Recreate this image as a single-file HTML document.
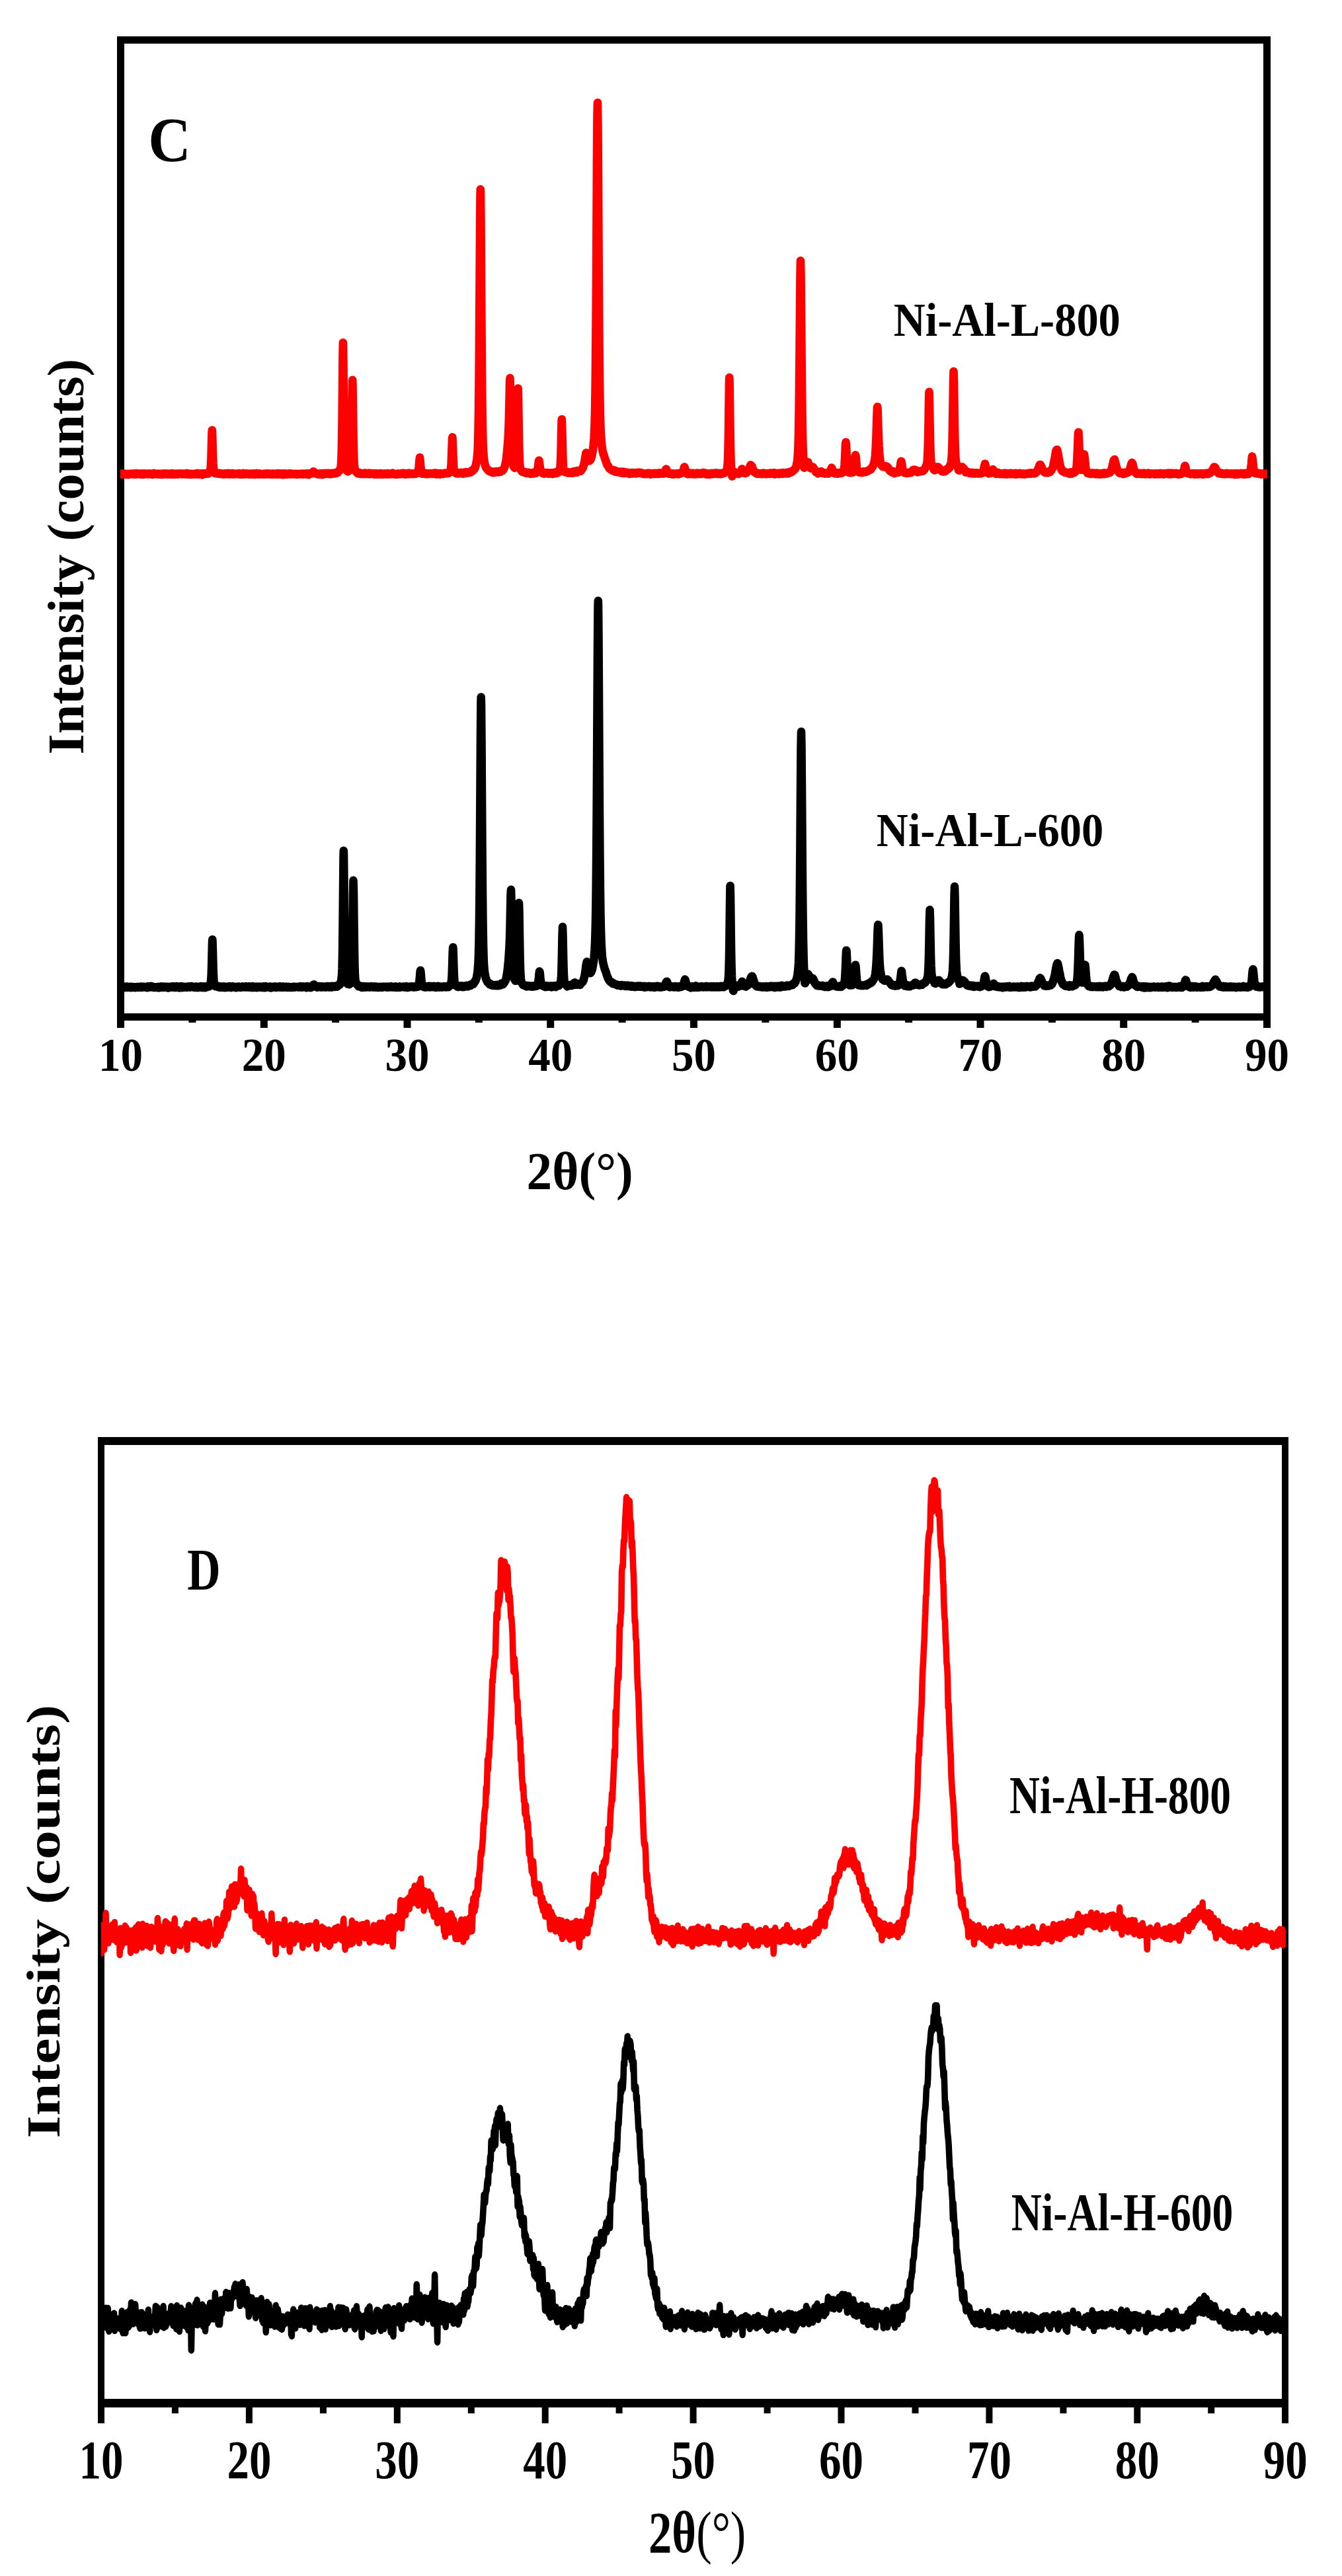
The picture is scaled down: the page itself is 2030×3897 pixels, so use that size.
<!DOCTYPE html>
<html lang="en"><head><meta charset="utf-8"><title>XRD patterns</title>
<style>html,body{margin:0;padding:0;background:#fff}body{width:2030px;height:3897px;overflow:hidden}</style></head>
<body>
<svg width="2030" height="3897" viewBox="0 0 2030 3897" style="display:block">
<style>.b text{font-family:"Liberation Serif",serif;font-weight:bold;font-size:100px;fill:#000}</style>
<rect width="2030" height="3897" fill="#fff"/>
<rect x="182.5" y="60.5" width="1734" height="1478" fill="none" stroke="#000" stroke-width="11"/>
<rect x="177.0" y="1538" width="11" height="17" fill="#000"/>
<rect x="393.8" y="1538" width="11" height="17" fill="#000"/>
<rect x="610.5" y="1538" width="11" height="17" fill="#000"/>
<rect x="827.2" y="1538" width="11" height="17" fill="#000"/>
<rect x="1044.0" y="1538" width="11" height="17" fill="#000"/>
<rect x="1260.8" y="1538" width="11" height="17" fill="#000"/>
<rect x="1477.5" y="1538" width="11" height="17" fill="#000"/>
<rect x="1694.2" y="1538" width="11" height="17" fill="#000"/>
<rect x="1911.0" y="1538" width="11" height="17" fill="#000"/>
<rect x="285.4" y="1538" width="11" height="9" fill="#000"/>
<rect x="502.1" y="1538" width="11" height="9" fill="#000"/>
<rect x="718.9" y="1538" width="11" height="9" fill="#000"/>
<rect x="935.6" y="1538" width="11" height="9" fill="#000"/>
<rect x="1152.4" y="1538" width="11" height="9" fill="#000"/>
<rect x="1369.1" y="1538" width="11" height="9" fill="#000"/>
<rect x="1585.9" y="1538" width="11" height="9" fill="#000"/>
<rect x="1802.6" y="1538" width="11" height="9" fill="#000"/>
<clipPath id="ct"><rect x="182" y="66" width="1735" height="1467"/></clipPath><g clip-path="url(#ct)">
<path d="M181 717L181.5 716.8L182 717.1L182.5 717.4L183 717.2L183.5 717.5L184 717L184.5 716.3L185 717.2L185.5 717.3L186 716.7L186.5 716.8L187 716.9L187.5 717.4L188 717L188.5 716.6L189 717.7L189.5 717.2L190 717.9L190.5 717.6L191 717.9L191.5 717.1L192 717.6L192.5 716.8L193 716.9L193.5 717.1L194 718.2L194.5 717.3L195 717L195.5 716.9L196 717.7L196.5 717.2L197 717.5L197.5 717.4L198 716.5L198.5 717.4L199 717L199.5 716.5L200 717.3L200.5 717L201 716.9L201.5 716.9L202 717.6L202.5 716.9L203 716.3L203.5 717.8L204 716.6L204.5 716.9L205 717.3L205.5 716L206 716.6L206.5 717.6L207 716.9L207.5 716.7L208 717.1L208.5 716.6L209 717L209.5 716.6L210 716.3L210.5 717.3L211 716.9L211.5 717.2L212 716.9L212.5 717.6L213 717.3L213.5 717.1L214 716.5L214.5 716.4L215 717.6L215.5 717.4L216 716.7L216.5 718L217 717.2L217.5 717L218 716.4L218.5 716.6L219 717.1L219.5 717.2L220 717.1L220.5 716.2L221 717.2L221.5 717.1L222 716.8L222.5 717L223 717.1L223.5 717.5L224 717L224.5 717.2L225 716.4L225.5 716.7L226 717L226.5 716.6L227 717.1L227.5 716.5L228 717L228.5 716.7L229 717.6L229.5 716.8L230 717.8L230.5 718L231 717.1L231.5 717.4L232 716.9L232.5 715.9L233 717.4L233.5 717.3L234 716.9L234.5 716.7L235 717.1L235.5 717.1L236 716.6L236.5 716.7L237 717.5L237.5 717L238 717L238.5 717.5L239 716.8L239.5 717.4L240 716.5L240.5 716.9L241 716.9L241.5 717.3L242 717L242.5 718L243 717.5L243.5 716.8L244 718L244.5 716.6L245 717.8L245.5 716.6L246 717.4L246.5 716.6L247 716.9L247.5 717.7L248 716.3L248.5 716.3L249 717L249.5 717.1L250 717.1L250.5 717.5L251 716.4L251.5 717.2L252 717L252.5 717.4L253 717.3L253.5 717.6L254 716.3L254.5 717L255 716.5L255.5 717L256 717.3L256.5 717.1L257 717.3L257.5 717L258 717.2L258.5 717.1L259 717.7L259.5 717.4L260 716.1L260.5 717.3L261 717.5L261.5 716.8L262 716.3L262.5 717.7L263 717.1L263.5 717.3L264 717.8L264.5 716.6L265 717L265.5 716.9L266 717.3L266.5 716.7L267 717.2L267.5 717L268 717.5L268.5 717.6L269 716.3L269.5 717.2L270 716.8L270.5 717L271 717.2L271.5 717.2L272 716.6L272.5 717.1L273 717L273.5 717L274 716.4L274.5 716.6L275 716.8L275.5 717.2L276 717.6L276.5 716.5L277 716.5L277.5 717L278 716.7L278.5 716.6L279 716.5L279.5 716.5L280 717.2L280.5 716.2L281 717.6L281.5 716.5L282 716.7L282.5 716.5L283 716L283.5 716.2L284 717.5L284.5 717.8L285 716.5L285.5 717.5L286 717L286.5 716.5L287 717.8L287.5 718L288 716.8L288.5 716.9L289 717.1L289.5 716.9L290 717.4L290.5 717.7L291 717L291.5 717.4L292 717.8L292.5 716.7L293 717L293.5 716.7L294 717.4L294.5 717.2L295 717.4L295.5 717.4L296 716.8L296.5 717.3L297 716.7L297.5 716.7L298 715.9L298.5 717.6L299 716.4L299.5 716.9L300 716.9L300.5 717.6L301 717.1L301.5 716.5L302 716.9L302.5 716.8L303 717L303.5 716.3L304 716.8L304.5 717.9L305 717.2L305.5 717.8L306 718.4L306.5 717L307 716.1L307.5 716.7L308 717.3L308.5 717.2L309 716.1L309.5 716.6L310 716.6L310.5 716.6L311 716.5L311.5 716.1L312 716.2L312.5 716.3L313 716.9L313.5 716L314 716.5L314.5 715.5L315 716.5L315.5 715.7L316 715.3L316.5 715.6L317 713.6L317.5 712.9L318 712.4L318.5 708.9L319 702.7L319.5 692L320 672.4L320.5 654.9L320.8 650.9L321 653.3L321.5 668.7L322 687.5L322.5 700.3L323 708.1L323.5 711.8L324 712.6L324.5 714.6L325 715L325.5 716.2L326 714.8L326.5 715.3L327 715.5L327.5 715.8L328 716.2L328.5 716.2L329 716.5L329.5 716.6L330 716.5L330.5 715.8L331 716.3L331.5 716.7L332 716.9L332.5 717L333 715.9L333.5 716.5L334 716.7L334.5 716.9L335 717.3L335.5 716.8L336 716.4L336.5 717L337 716.9L337.5 716.9L338 716.8L338.5 717.6L339 717L339.5 717.3L340 716.4L340.5 717.3L341 716.6L341.5 716.1L342 717L342.5 717.2L343 716.8L343.5 716.9L344 717.4L344.5 716.7L345 715.9L345.5 717L346 717L346.5 717.4L347 716.8L347.5 717.5L348 717.5L348.5 716.3L349 717.4L349.5 716.4L350 716.2L350.5 716.8L351 716.6L351.5 716L352 717L352.5 717.2L353 717.6L353.5 716.9L354 716.2L354.5 716.5L355 717.4L355.5 717.4L356 717.2L356.5 716.8L357 717L357.5 716.8L358 716.8L358.5 717.1L359 717L359.5 716.8L360 717L360.5 716.7L361 716L361.5 716.6L362 716.9L362.5 717.8L363 716.8L363.5 717.9L364 717.7L364.5 716.5L365 716.6L365.5 717L366 717.8L366.5 717.1L367 717.3L367.5 716.6L368 715.8L368.5 716.8L369 717.3L369.5 717.5L370 717L370.5 717L371 717.5L371.5 716.9L372 717.5L372.5 716.4L373 716.4L373.5 716.4L374 717.2L374.5 716.7L375 717L375.5 717.1L376 717.1L376.5 717.6L377 717.7L377.5 716.6L378 717L378.5 716.8L379 716.5L379.5 717.8L380 717.3L380.5 716.9L381 716.8L381.5 717.1L382 716.4L382.5 716.8L383 717.6L383.5 717.4L384 716.5L384.5 716.7L385 717.9L385.5 716.3L386 716.7L386.5 716.3L387 717.1L387.5 717.1L388 717.5L388.5 715.7L389 717L389.5 716.2L390 717.3L390.5 716.9L391 717.8L391.5 717.1L392 716.5L392.5 717.6L393 716.4L393.5 716.8L394 717.5L394.5 717.2L395 717.2L395.5 717L396 717.2L396.5 717.4L397 717.1L397.5 717.5L398 717.6L398.5 717L399 716.5L399.5 717.7L400 716.9L400.5 717.3L401 717.4L401.5 716.5L402 717.2L402.5 716.2L403 717.3L403.5 716.8L404 717.1L404.5 717.3L405 716.7L405.5 717L406 716.6L406.5 717L407 717.5L407.5 717L408 716.9L408.5 716.5L409 717.4L409.5 717L410 717.8L410.5 716.6L411 717.5L411.5 717.9L412 717L412.5 716.4L413 717.7L413.5 717.5L414 717.3L414.5 717.5L415 716.8L415.5 717.3L416 717.3L416.5 716.7L417 717.3L417.5 716.7L418 717.4L418.5 717.6L419 717.9L419.5 716L420 717.1L420.5 716.8L421 717L421.5 716.9L422 716.9L422.5 716L423 717.5L423.5 717.7L424 717.4L424.5 717.6L425 716.6L425.5 716.5L426 717.4L426.5 717.6L427 717.1L427.5 716.2L428 718.3L428.5 716.7L429 717.5L429.5 716.4L430 717.5L430.5 717.1L431 717.7L431.5 717.4L432 716.2L432.5 716.5L433 717.1L433.5 717.4L434 717.9L434.5 717.1L435 716.9L435.5 717L436 717L436.5 717.5L437 717L437.5 717L438 716.3L438.5 716L439 717L439.5 717.3L440 717L440.5 717.2L441 717.3L441.5 717L442 717.4L442.5 716.6L443 717L443.5 716.8L444 717L444.5 717.3L445 717.4L445.5 717L446 717.2L446.5 716.8L447 716.9L447.5 717.6L448 716.9L448.5 717.6L449 717.2L449.5 717.1L450 718L450.5 716.9L451 716.8L451.5 717L452 717.1L452.5 717.1L453 717.4L453.5 717L454 717.2L454.5 716.9L455 717.5L455.5 716.8L456 716.8L456.5 717L457 717.1L457.5 716.6L458 717.7L458.5 716.7L459 716.8L459.5 716.7L460 716.7L460.5 717.2L461 717L461.5 716.6L462 716.7L462.5 716.8L463 717.6L463.5 716.6L464 716.3L464.5 716.4L465 716.7L465.5 717.6L466 716.4L466.5 716.9L467 718.1L467.5 716.6L468 717.5L468.5 717.4L469 717.1L469.5 716.1L470 716.9L470.5 716.5L471 715.6L471.5 715.5L472 716L472.5 715.4L473 715.1L473.5 714.1L474 713.2L474.5 713.5L475 714.4L475.5 714.8L476 716.3L476.5 716.3L477 716.1L477.5 716.3L478 716.1L478.5 716.5L479 716.9L479.5 716.6L480 717.2L480.5 717.6L481 716.5L481.5 716.8L482 716.6L482.5 717.6L483 717L483.5 717.1L484 717.2L484.5 717.9L485 716.9L485.5 716.3L486 716.6L486.5 717.1L487 716.8L487.5 716.4L488 718.1L488.5 716.8L489 716.5L489.5 716.4L490 715.9L490.5 716.2L491 716.6L491.5 716.6L492 716.3L492.5 717L493 716.7L493.5 716.2L494 715.7L494.5 716.7L495 716.7L495.5 716.5L496 716L496.5 716.6L497 715.9L497.5 717.1L498 716.7L498.5 716.7L499 716.1L499.5 716L500 717.2L500.5 716.9L501 716.3L501.5 716.7L502 717.1L502.5 715.8L503 716.1L503.5 716L504 716.5L504.5 715.7L505 716.3L505.5 715.5L506 716.5L506.5 716.4L507 715.8L507.5 716.1L508 715.4L508.5 715.5L509 715.9L509.5 715.3L510 715.3L510.5 714.5L511 715L511.5 714.6L512 713.4L512.5 712.5L513 712.1L513.5 712.3L514 711.4L514.5 709.5L515 708.7L515.5 706.6L516 701.7L516.5 692.7L517 675L517.5 641.3L518 590.3L518.5 536.2L518.9 518.4L519 519.3L519.5 555.9L520 611.1L520.5 656.3L521 683L521.5 697.4L522 703.6L522.5 707.3L523 708.2L523.5 710.1L524 711.4L524.5 711.9L525 712.3L525.5 712.1L526 713.4L526.5 713.2L527 712.8L527.5 711.1L528 711.6L528.5 711.6L529 710.4L529.5 708.5L530 707.6L530.5 703.7L531 694.6L531.5 678L532 648.8L532.5 610.6L533 578.3L533.2 574.9L533.5 583.2L534 618.2L534.5 657.2L535 682.6L535.5 697.9L536 704.9L536.5 708.3L537 710.7L537.5 712.7L538 712.5L538.5 713.8L539 714.1L539.5 714.6L540 714.8L540.5 716.1L541 714.5L541.5 715.2L542 714.9L542.5 714.6L543 715.7L543.5 716.7L544 716.4L544.5 716.6L545 716.3L545.5 716.1L546 717.2L546.5 716.1L547 717L547.5 716.2L548 716.4L548.5 716.5L549 716.4L549.5 716.7L550 716.8L550.5 717.3L551 716.5L551.5 715.6L552 715.6L552.5 715.9L553 716.2L553.5 716.9L554 715.9L554.5 716.6L555 716.7L555.5 716.8L556 716.6L556.5 716.9L557 716.7L557.5 717.2L558 716.9L558.5 715.6L559 716.7L559.5 716.8L560 716.4L560.5 716.4L561 717.3L561.5 716.8L562 716.3L562.5 716.6L563 716.7L563.5 716L564 717.1L564.5 716.7L565 717L565.5 716L566 717.7L566.5 717.1L567 717L567.5 716.5L568 716.5L568.5 716.1L569 717.6L569.5 716.4L570 716.9L570.5 717.1L571 716.5L571.5 717.3L572 717.8L572.5 717L573 717.6L573.5 717.1L574 716.6L574.5 716.7L575 716L575.5 716.9L576 717.6L576.5 717.2L577 717.3L577.5 717.4L578 716.6L578.5 717.1L579 717.8L579.5 716.5L580 716.9L580.5 716.7L581 716.8L581.5 716.5L582 716.8L582.5 716.2L583 716.6L583.5 716.6L584 716.6L584.5 717.6L585 716.9L585.5 717L586 716.7L586.5 717.5L587 716L587.5 716.8L588 717.4L588.5 717.7L589 717L589.5 716.9L590 717.2L590.5 716.8L591 717.2L591.5 716.6L592 717.2L592.5 716.9L593 716.3L593.5 715.6L594 717.3L594.5 717.1L595 717.3L595.5 716.4L596 717.4L596.5 717.1L597 716.9L597.5 717.3L598 717.3L598.5 717.1L599 717.9L599.5 717.6L600 717L600.5 716.8L601 716.9L601.5 717.7L602 717.1L602.5 716.4L603 716.6L603.5 716.9L604 717.3L604.5 716.5L605 717.1L605.5 717.4L606 717.2L606.5 716.1L607 716.7L607.5 716.2L608 717.1L608.5 716.4L609 717.1L609.5 716.9L610 715.6L610.5 716.4L611 717.1L611.5 716.9L612 716.6L612.5 716.2L613 717L613.5 717.7L614 716.9L614.5 716.8L615 716.7L615.5 716.1L616 716.6L616.5 716.4L617 717.3L617.5 716.3L618 715.7L618.5 716.4L619 716.6L619.5 716.7L620 715.9L620.5 717.2L621 716.8L621.5 716.5L622 716.4L622.5 716.9L623 716.5L623.5 716.8L624 716.6L624.5 716.7L625 717.2L625.5 716.6L626 716.2L626.5 717.1L627 716.7L627.5 716.2L628 717L628.5 716.3L629 716.9L629.5 715.7L630 715L630.5 715L631 715.9L631.5 715.1L632 714.8L632.5 713.7L633 710.7L633.5 708.3L634 701.4L634.5 695.8L635 692.1L635.5 695.7L636 702.2L636.5 707.5L637 711.1L637.5 713.7L638 714.6L638.5 715.7L639 716.8L639.5 715.5L640 715.7L640.5 716.1L641 716.3L641.5 715.8L642 716.6L642.5 716.8L643 716.6L643.5 715.9L644 717.2L644.5 716L645 716.9L645.5 717.2L646 716L646.5 716.7L647 717.3L647.5 716.8L648 716.2L648.5 716.1L649 716.9L649.5 716.5L650 716.3L650.5 717L651 716.5L651.5 716.7L652 716.9L652.5 716.9L653 716.6L653.5 716.7L654 716.9L654.5 716.9L655 716.1L655.5 716.6L656 716.2L656.5 716.1L657 716.4L657.5 715.5L658 717.1L658.5 716.2L659 716.8L659.5 715.7L660 715.8L660.5 717.6L661 717.1L661.5 716.3L662 716.2L662.5 716.2L663 716.6L663.5 716.4L664 716.3L664.5 716.6L665 716.1L665.5 717.7L666 716.2L666.5 717.1L667 716.1L667.5 716.6L668 717L668.5 716.3L669 716.9L669.5 716.9L670 717.2L670.5 716.5L671 716.2L671.5 715.9L672 716.5L672.5 715.8L673 716.3L673.5 716.3L674 716L674.5 715.7L675 716.3L675.5 716.2L676 716.1L676.5 715.9L677 716.3L677.5 715.3L678 715.9L678.5 715.3L679 715.7L679.5 714.9L680 714.5L680.5 714.4L681 712.4L681.5 711.9L682 708.3L682.5 702.9L683 693.3L683.5 678.4L684 664.2L684.3 661.4L684.5 662.8L685 675.2L685.5 691.1L686 701.7L686.5 709.4L687 711.3L687.5 713.4L688 714.3L688.5 714.5L689 714.6L689.5 715.8L690 716.1L690.5 715.9L691 716.5L691.5 716.1L692 714.9L692.5 716.2L693 715.4L693.5 716.5L694 715.6L694.5 716L695 715.8L695.5 715.5L696 714.9L696.5 715.7L697 715.7L697.5 716.3L698 715.5L698.5 715.9L699 715.3L699.5 715.7L700 714.8L700.5 716.7L701 715.8L701.5 715.2L702 715.7L702.5 715.9L703 715.6L703.5 716.1L704 715.3L704.5 714.1L705 714.7L705.5 715.7L706 715.6L706.5 715.2L707 714.5L707.5 715.3L708 715.1L708.5 714.2L709 714.1L709.5 714.6L710 714.8L710.5 714.9L711 714.3L711.5 714.9L712 713.2L712.5 713.7L713 712.9L713.5 711.9L714 712L714.5 712.8L715 711.4L715.5 710.8L716 711.3L716.5 710.9L717 709.8L717.5 709.8L718 707.4L718.5 708.3L719 706.4L719.5 704.6L720 702.8L720.5 700.4L721 697.7L721.5 694.4L722 688.8L722.5 683.3L723 670.9L723.5 652.9L724 623L724.5 578.1L725 516.1L725.5 438.1L726 356L726.5 297.2L726.8 286.4L727 290.1L727.5 340.6L728 421.9L728.5 500.9L729 565.8L729.5 615L730 647.5L730.5 668L731 680.5L731.5 688.2L732 693.6L732.5 696.7L733 700.1L733.5 702.3L734 704.5L734.5 705.4L735 707.1L735.5 707.8L736 708.1L736.5 709.1L737 709.7L737.5 710.3L738 711L738.5 711.5L739 712L739.5 711.7L740 713L740.5 712L741 712.9L741.5 713.5L742 713.5L742.5 713.8L743 713.5L743.5 714.1L744 713.2L744.5 714.3L745 715.1L745.5 714.4L746 715.1L746.5 714.2L747 713.7L747.5 713.9L748 715L748.5 714.7L749 713.4L749.5 714.2L750 714.3L750.5 713.8L751 713.1L751.5 713.6L752 714.2L752.5 714L753 713.8L753.5 714.4L754 714.5L754.5 713.9L755 714.3L755.5 713.7L756 713.5L756.5 712.3L757 713.7L757.5 713.1L758 712.9L758.5 712.4L759 711.8L759.5 712.2L760 712L760.5 712L761 711.1L761.5 709.7L762 709.2L762.5 708.8L763 707.3L763.5 705.7L764 703.8L764.5 702.2L765 699.5L765.5 697.2L766 693.2L766.5 687.6L767 684.5L767.5 678.1L768 671.8L768.5 665.4L769 657.4L769.5 645.3L770 627.9L770.5 604.5L771 581.6L771.5 571.9L772 589.9L772.5 621.5L773 650.9L773.5 672.2L774 685.4L774.5 693.7L775 697.6L775.5 700.5L776 702.6L776.5 704L777 705.8L777.5 706.6L778 706.6L778.5 707.9L779 707L779.5 706.9L780 705.8L780.5 704.4L781 699.5L781.5 689.5L782 671L782.5 642.6L783 609.4L783.5 587.9L783.6 587.5L784 597.9L784.5 630.4L785 662L785.5 684L786 697.8L786.5 705L787 708L787.5 710.2L788 711.3L788.5 710.9L789 712.1L789.5 713.5L790 712.9L790.5 712.9L791 714L791.5 714.4L792 714.5L792.5 714.3L793 714.3L793.5 714.2L794 714.3L794.5 714.4L795 714.4L795.5 714.8L796 716L796.5 715.4L797 715.2L797.5 715.6L798 715L798.5 715.7L799 716L799.5 714.9L800 715.3L800.5 715.5L801 715.2L801.5 715.2L802 715.6L802.5 717L803 716.1L803.5 716L804 716.3L804.5 715.7L805 715.2L805.5 716L806 716.4L806.5 714.8L807 716L807.5 716.4L808 715.6L808.5 715.5L809 716L809.5 715.2L810 715.7L810.5 715.8L811 715.1L811.5 714.6L812 714.8L812.5 713.5L813 712.2L813.5 708.2L814 706.1L814.5 700.5L815 697.4L815.3 696.7L815.5 696.6L816 699.8L816.5 704.2L817 708.8L817.5 712.1L818 713.8L818.5 714.2L819 714.6L819.5 714.5L820 715.2L820.5 715L821 714.9L821.5 715.6L822 716.5L822.5 716.4L823 716.6L823.5 715.1L824 716.3L824.5 715.3L825 715.7L825.5 715.1L826 715.5L826.5 716L827 716.1L827.5 715.9L828 715.9L828.5 716.3L829 716L829.5 715.2L830 716.8L830.5 715.9L831 716.4L831.5 715.9L832 715.5L832.5 716L833 715.5L833.5 716.7L834 715.4L834.5 716.2L835 715.6L835.5 715.8L836 717.1L836.5 716.2L837 715.7L837.5 715L838 715.6L838.5 715.5L839 716.3L839.5 714.9L840 714.6L840.5 715.5L841 715.5L841.5 716.1L842 714.8L842.5 713.7L843 714.6L843.5 714.1L844 714.3L844.5 714.8L845 713.2L845.5 714L846 712.8L846.5 711.6L847 709.5L847.5 706.1L848 698.1L848.5 683.5L849 661.2L849.5 638.7L849.8 634.2L850 636.7L850.5 656.3L851 679.3L851.5 696.7L852 705.6L852.5 710L853 711.1L853.5 712.1L854 712L854.5 714.2L855 714.2L855.5 713.6L856 714.4L856.5 714.6L857 713.7L857.5 714.8L858 715.3L858.5 715.4L859 714.6L859.5 714.7L860 715.5L860.5 715.3L861 714.6L861.5 714.5L862 715.1L862.5 714.5L863 714.5L863.5 715.6L864 714.9L864.5 714.5L865 714.9L865.5 715.7L866 714.7L866.5 714.1L867 713.7L867.5 715.5L868 713L868.5 714.8L869 713.7L869.5 713.5L870 713.6L870.5 713.9L871 714.5L871.5 713.5L872 714.1L872.5 714.9L873 712.1L873.5 713L874 712.3L874.5 713.6L875 712.2L875.5 712L876 711.9L876.5 712.5L877 712.9L877.5 712.1L878 712.9L878.5 712.4L879 711.2L879.5 711.3L880 710.5L880.5 709.9L881 708.2L881.5 707.6L882 707.2L882.5 705.2L883 704.4L883.5 702L884 698.9L884.5 697.1L885 693.6L885.5 691.1L886 687.8L886.5 685.1L886.9 685.6L887 685L887.5 686L888 687.4L888.5 689.3L889 690.1L889.5 691.6L890 694.3L890.5 696.2L891 696.3L891.5 697.3L892 696.7L892.5 696.6L893 695.9L893.5 694.7L894 694.1L894.5 692.4L895 691.2L895.5 688.4L896 686.4L896.5 682.8L897 679.7L897.5 675.1L898 669.8L898.5 664.2L899 655L899.5 642.4L900 622.6L900.5 593.7L901 552.5L901.5 495.1L902 419.1L902.5 332.4L903 241.4L903.5 175L903.9 156.7L904 155.2L904.5 196.4L905 277.4L905.5 367.8L906 451.8L906.5 520L907 571.9L907.5 607.4L908 630.9L908.5 646.9L909 657.2L909.5 665.3L910 669.7L910.5 675.6L911 678.5L911.5 682.4L912 684.4L912.5 685L913 687.8L913.5 688.5L914 690.2L914.5 692.1L915 693.3L915.5 694.9L916 696.5L916.5 697.4L917 698.9L917.5 701L918 702.4L918.5 703L919 704.3L919.5 704.7L920 704.7L920.5 706.4L921 707.4L921.5 708.1L922 709L922.5 709.4L923 709.9L923.5 710L924 710.3L924.5 710.1L925 710.9L925.5 711.1L926 711.9L926.5 710.7L927 711.5L927.5 711.1L928 711.7L928.5 711.6L929 712.6L929.5 712.3L930 711.5L930.5 713.6L931 712.5L931.5 712.4L932 713.2L932.5 713.1L933 713L933.5 714L934 713.6L934.5 714.4L935 714.3L935.5 714.4L936 714.3L936.5 714.2L937 714.1L937.5 715.1L938 713.5L938.5 714L939 714.2L939.5 714.9L940 714.8L940.5 714.5L941 714.6L941.5 715.8L942 714.6L942.5 713.5L943 716L943.5 714.6L944 715L944.5 715.2L945 714.5L945.5 715.9L946 715.2L946.5 714.6L947 715.5L947.5 715.6L948 715.4L948.5 715.7L949 714.7L949.5 716L950 715.1L950.5 716.2L951 715.3L951.5 715.7L952 717L952.5 715.7L953 716.3L953.5 716L954 715L954.5 716.4L955 716.4L955.5 715.1L956 715.8L956.5 715.1L957 715.7L957.5 716.4L958 716L958.5 715.3L959 715.5L959.5 716L960 715.9L960.5 716L961 716.3L961.5 715L962 716L962.5 716.6L963 716.2L963.5 715.5L964 715.4L964.5 715.5L965 715.5L965.5 714.8L966 715.5L966.5 715.5L967 714.8L967.5 715.8L968 715.6L968.5 715.4L969 715.7L969.5 716.1L970 715.1L970.5 715.9L971 716.4L971.5 715.9L972 716L972.5 716.7L973 716.2L973.5 716.4L974 717.3L974.5 716.4L975 716.5L975.5 716.6L976 717.2L976.5 716.5L977 716.4L977.5 716.3L978 717L978.5 716.1L979 717L979.5 716.5L980 715.7L980.5 716.8L981 716.7L981.5 715.9L982 716.6L982.5 716.6L983 716.3L983.5 715.9L984 717.6L984.5 716.9L985 717L985.5 717L986 716.9L986.5 716.9L987 716.3L987.5 716.9L988 716.4L988.5 716.3L989 716.9L989.5 716.4L990 715.7L990.5 716.3L991 716.8L991.5 716.5L992 717L992.5 716.4L993 716.1L993.5 716.9L994 716.6L994.5 715.9L995 716.8L995.5 716.4L996 717L996.5 716.9L997 716.8L997.5 715.4L998 716.7L998.5 716.7L999 716.7L999.5 716.5L1000 716.1L1000.5 716.3L1001 715.4L1001.5 716.3L1002 715.6L1002.5 716.1L1003 715.9L1003.5 716.8L1004 715.9L1004.5 715.6L1005 715.1L1005.5 715.2L1006 712.6L1006.5 711.8L1007 710.6L1007.5 709.8L1007.6 709.7L1008 709.8L1008.5 711.7L1009 712.9L1009.5 713.6L1010 714.6L1010.5 715.6L1011 716.1L1011.5 716.5L1012 716.2L1012.5 715.7L1013 716.9L1013.5 715.6L1014 716L1014.5 716.7L1015 716.1L1015.5 717.2L1016 717.4L1016.5 717.2L1017 716.8L1017.5 716.7L1018 716.8L1018.5 716.5L1019 717.6L1019.5 716.3L1020 717.3L1020.5 716.9L1021 716.8L1021.5 717.2L1022 717.3L1022.5 717.1L1023 716.6L1023.5 716.3L1024 716.3L1024.5 717.1L1025 717L1025.5 717L1026 716.3L1026.5 717.5L1027 715.9L1027.5 716.7L1028 716.8L1028.5 716.3L1029 715.9L1029.5 716.2L1030 715.7L1030.5 716.1L1031 715.4L1031.5 715.2L1032 715.5L1032.5 714L1033 713.6L1033.5 712.2L1034 710.8L1034.5 708.6L1035 706.6L1035.3 707.4L1035.5 706.5L1036 707.9L1036.5 709.9L1037 713L1037.5 713.5L1038 714.3L1038.5 715.7L1039 715.7L1039.5 717.2L1040 715.8L1040.5 716.6L1041 715.9L1041.5 717.3L1042 716.1L1042.5 716.6L1043 716.1L1043.5 717L1044 716.9L1044.5 715.5L1045 717L1045.5 717L1046 716.8L1046.5 717.1L1047 716L1047.5 715.8L1048 717L1048.5 717.5L1049 716.1L1049.5 716.1L1050 716.3L1050.5 716.1L1051 717.1L1051.5 716.8L1052 717.4L1052.5 717.4L1053 716.2L1053.5 717L1054 715.6L1054.5 716.7L1055 717L1055.5 716.3L1056 715.8L1056.5 716.4L1057 717.3L1057.5 716.5L1058 716L1058.5 716.9L1059 717L1059.5 716.1L1060 716.6L1060.5 717.2L1061 716.7L1061.5 716.8L1062 716.2L1062.5 716L1063 715.1L1063.5 715L1064 716L1064.5 715.2L1065 715.3L1065.5 715.8L1066 715.8L1066.5 716.7L1067 717L1067.5 716.1L1068 717.2L1068.5 717.7L1069 716.1L1069.5 717L1070 716.8L1070.5 717.4L1071 717.3L1071.5 717.2L1072 716.8L1072.5 716.5L1073 717.8L1073.5 716.3L1074 717.2L1074.5 717.2L1075 716.3L1075.5 716.7L1076 717.4L1076.5 715.7L1077 717.1L1077.5 716.5L1078 716.5L1078.5 715.9L1079 716.8L1079.5 716.1L1080 717L1080.5 716L1081 717L1081.5 716.8L1082 715.6L1082.5 716.4L1083 716.5L1083.5 715.4L1084 716.3L1084.5 716.9L1085 716.1L1085.5 717.1L1086 715.9L1086.5 715.8L1087 716.7L1087.5 716.7L1088 716.3L1088.5 716.3L1089 716.8L1089.5 716L1090 717.3L1090.5 716.4L1091 716.3L1091.5 716.2L1092 715.9L1092.5 716.6L1093 715.6L1093.5 715.9L1094 716L1094.5 716.2L1095 716L1095.5 715L1096 715.5L1096.5 714.7L1097 713.9L1097.5 713.5L1098 712.7L1098.5 712.9L1099 712.4L1099.5 710.1L1100 708.4L1100.5 704.4L1101 697.4L1101.5 681.4L1102 654L1102.5 615L1103 578.9L1103.3 571L1103.5 574.7L1104 607.1L1104.5 647L1105 678.4L1105.5 695.8L1106 707.2L1106.5 713.3L1107 718.3L1107.5 720.7L1108 719.6L1108.5 719.2L1109 717.8L1109.5 716.1L1110 715.3L1110.5 713.9L1111 715L1111.5 714.8L1112 715.9L1112.5 715.3L1113 715.3L1113.5 714.8L1114 716.1L1114.5 715.5L1115 715.7L1115.5 716.4L1116 715.9L1116.5 716L1117 717.1L1117.5 715.6L1118 715.6L1118.5 716L1119 716.4L1119.5 714.7L1120 714.9L1120.5 713.8L1121 712.4L1121.5 711.8L1122 709.5L1122.5 709.3L1123 709.9L1123.5 711.5L1124 713L1124.5 713.6L1125 714.9L1125.5 715.4L1126 715.6L1126.5 715.4L1127 716L1127.5 715.8L1128 715.5L1128.5 715.6L1129 715.2L1129.5 715.2L1130 713.6L1130.5 713.5L1131 713.4L1131.5 712.9L1132 710.9L1132.5 710.9L1133 709.9L1133.5 708.5L1134 707.2L1134.5 705.4L1135 705.1L1135.5 703.3L1136 704.6L1136.5 704.1L1137 705.6L1137.5 705.3L1138 707.6L1138.5 708.7L1139 709.5L1139.5 710.5L1140 712.7L1140.5 713.2L1141 714.4L1141.5 714.2L1142 714.8L1142.5 715.3L1143 715.7L1143.5 715.8L1144 716.1L1144.5 715.6L1145 715.2L1145.5 717L1146 716.1L1146.5 716.3L1147 715.9L1147.5 716.7L1148 716.3L1148.5 716.8L1149 716L1149.5 716.3L1150 716.4L1150.5 716.2L1151 716.5L1151.5 717.2L1152 716.1L1152.5 716.3L1153 716.5L1153.5 716L1154 715.8L1154.5 717L1155 716.9L1155.5 715.7L1156 715.8L1156.5 716.9L1157 717.1L1157.5 716.8L1158 716.7L1158.5 717.3L1159 716.5L1159.5 717.1L1160 717.1L1160.5 716L1161 716.8L1161.5 716.5L1162 716.2L1162.5 716.1L1163 716.7L1163.5 716.5L1164 716.9L1164.5 715.6L1165 716.2L1165.5 717L1166 716.5L1166.5 716.1L1167 716.2L1167.5 715.6L1168 715.8L1168.5 716.7L1169 716.5L1169.5 717.1L1170 716.3L1170.5 716.4L1171 715.1L1171.5 716.4L1172 717.5L1172.5 716.7L1173 716.3L1173.5 717L1174 716.8L1174.5 716.5L1175 716.2L1175.5 716.4L1176 716.8L1176.5 715.9L1177 716.6L1177.5 716.5L1178 717L1178.5 716.7L1179 715.9L1179.5 717L1180 716.2L1180.5 715.8L1181 716.4L1181.5 716L1182 716.7L1182.5 715.4L1183 715.5L1183.5 715.9L1184 716.9L1184.5 716.5L1185 715.5L1185.5 715.1L1186 715.8L1186.5 715.2L1187 716.1L1187.5 715.9L1188 715.7L1188.5 715.5L1189 716.4L1189.5 715.1L1190 714.9L1190.5 716.1L1191 716.1L1191.5 715.2L1192 715.6L1192.5 716.4L1193 714.7L1193.5 714.9L1194 715.1L1194.5 713.7L1195 714.6L1195.5 714.9L1196 714.3L1196.5 714.7L1197 714.4L1197.5 713.7L1198 713.9L1198.5 713.6L1199 712.3L1199.5 712.4L1200 712L1200.5 711.8L1201 711.3L1201.5 710.3L1202 710.4L1202.5 708.8L1203 709.3L1203.5 707.9L1204 707.3L1204.5 705.2L1205 702.9L1205.5 700.1L1206 697.9L1206.5 693L1207 686.2L1207.5 675L1208 656.9L1208.5 627.6L1209 587L1209.5 531.8L1210 470.3L1210.5 416.8L1211 394.4L1211.5 417L1212 469.1L1212.5 532L1213 584.7L1213.5 626.6L1214 656L1214.5 675.5L1215 687.4L1215.5 696.4L1216 704.4L1216.5 707.7L1217 707.6L1217.5 706.4L1218 703.4L1218.5 702.7L1219 700.9L1219.5 700.9L1220 698.5L1220.5 699.4L1221 699.8L1221.5 698.9L1222 699.5L1222.5 699.5L1223 702L1223.5 703.2L1224 704.3L1224.5 705L1225 706.8L1225.5 707.1L1226 707.8L1226.5 708.5L1227 708.3L1227.5 708.1L1228 708.2L1228.5 706.8L1229 707.7L1229.5 706.4L1229.8 706.5L1230 707.2L1230.5 708L1231 708.5L1231.5 709.1L1232 709.9L1232.5 711.1L1233 711.5L1233.5 713L1234 713.2L1234.5 714.6L1235 713.8L1235.5 714.4L1236 714.9L1236.5 714.3L1237 714.6L1237.5 716.5L1238 715.1L1238.5 715.9L1239 714.7L1239.5 713.9L1240 715.2L1240.5 714.6L1241 714.3L1241.5 713.6L1241.9 713.4L1242 713.1L1242.5 714.5L1243 713.8L1243.5 715.5L1244 715.2L1244.5 715L1245 715.3L1245.5 716.2L1246 716.2L1246.5 716.1L1247 715.9L1247.5 715.3L1248 716.6L1248.5 715.7L1249 715.6L1249.5 715.6L1250 715.7L1250.5 715.2L1251 715.7L1251.5 715.5L1252 715.6L1252.5 714.9L1253 716.7L1253.5 715L1254 715.6L1254.5 715.4L1255 715.3L1255.5 715.1L1256 713.3L1256.5 712.1L1257 709.9L1257.5 709.5L1258 707.5L1258.5 708.6L1259 710.3L1259.5 712.1L1260 713.5L1260.5 714.7L1261 715.1L1261.5 715.3L1262 715.6L1262.5 716.4L1263 715.9L1263.5 716.2L1264 715.8L1264.5 714.9L1265 715.6L1265.5 716L1266 716.7L1266.5 716.6L1267 716.7L1267.5 715.5L1268 716.2L1268.5 715.8L1269 716.1L1269.5 715.7L1270 715L1270.5 716L1271 715.8L1271.5 715.9L1272 715L1272.5 715.8L1273 715.7L1273.5 715.7L1274 715.5L1274.5 714.2L1275 712.8L1275.5 714.1L1276 712.2L1276.5 711L1277 708.7L1277.5 703L1278 694.7L1278.5 684.1L1279 672L1279.5 669L1280 672.8L1280.5 683.5L1281 694.8L1281.5 702.7L1282 707.5L1282.5 710.8L1283 712.2L1283.5 712.9L1284 714.8L1284.5 713.3L1285 713.2L1285.5 714L1286 714.1L1286.5 715.3L1287 714.7L1287.5 715L1288 714.9L1288.5 714L1289 714.7L1289.5 714.2L1290 714.7L1290.5 713.1L1291 711.8L1291.5 710.2L1292 706.8L1292.5 700.7L1293 696.4L1293.5 690.9L1294 688.4L1294.5 689.8L1295 694.7L1295.5 701.4L1296 706.7L1296.5 709.9L1297 711.2L1297.5 713.3L1298 712.8L1298.5 713.2L1299 714.1L1299.5 714L1300 714L1300.5 713.7L1301 715L1301.5 713.9L1302 714.7L1302.5 714.9L1303 714.5L1303.5 714.6L1304 715L1304.5 715.2L1305 714.8L1305.5 713.6L1306 713.3L1306.5 713.8L1307 713.5L1307.5 714.2L1308 713.9L1308.5 713.6L1309 714.2L1309.5 714L1310 713.3L1310.5 713.4L1311 713.6L1311.5 712.7L1312 712.9L1312.5 712L1313 712.3L1313.5 712.2L1314 711.7L1314.5 711.6L1315 711.6L1315.5 711.1L1316 710.2L1316.5 709.8L1317 709.1L1317.5 710.1L1318 708.9L1318.5 708.3L1319 707.4L1319.5 707L1320 706.2L1320.5 704.6L1321 703.8L1321.5 703.2L1322 700.4L1322.5 698.6L1323 696.9L1323.5 692.7L1324 688.6L1324.5 680.8L1325 671.8L1325.5 659.3L1326 643.3L1326.5 627.4L1327 616.4L1327.2 615.4L1327.5 617.8L1328 630.3L1328.5 648.2L1329 661.5L1329.5 674.6L1330 682.6L1330.5 688.5L1331 693.5L1331.5 697L1332 699.2L1332.5 700.9L1333 702.5L1333.5 703.6L1334 704.7L1334.5 704.3L1335 705.5L1335.5 705.4L1336 706.3L1336.5 706.3L1337 706.5L1337.5 706.2L1338 705.9L1338.5 706.1L1339 706.4L1339.5 706.4L1340 705.1L1340.5 706.1L1341 706.3L1341.5 705.7L1342 706.4L1342.5 707.2L1343 708.3L1343.5 707.5L1344 709.2L1344.5 709.7L1345 710.7L1345.5 711.9L1346 712.3L1346.5 711.9L1347 712.3L1347.5 713L1348 713.7L1348.5 714.1L1349 713.8L1349.5 714.5L1350 713.5L1350.5 713.5L1351 712.8L1351.5 713.8L1352 714.6L1352.5 714.9L1353 716.2L1353.5 714.8L1354 714.7L1354.5 714.1L1355 714.3L1355.5 714.3L1356 714.5L1356.5 714.3L1357 713.8L1357.5 715L1358 714.6L1358.5 715L1359 713.2L1359.5 713L1360 712.5L1360.5 712.2L1361 709.6L1361.5 707.1L1362 703.6L1362.5 700.4L1363 697.9L1363.2 698.2L1363.5 698L1364 700.9L1364.5 704.6L1365 707.7L1365.5 710.5L1366 711.7L1366.5 713.4L1367 713.8L1367.5 714.5L1368 715.3L1368.5 714.3L1369 715.4L1369.5 714.6L1370 714.8L1370.5 715.9L1371 715.6L1371.5 715.4L1372 715.6L1372.5 715.8L1373 714.9L1373.5 715.3L1374 715L1374.5 715.4L1375 715L1375.5 715.5L1376 715.1L1376.5 714.7L1377 714.9L1377.5 715L1378 715.2L1378.5 714.3L1379 713.9L1379.5 713.8L1380 713.6L1380.5 712.5L1381 711L1381.5 711.8L1382 711L1382.5 710.6L1383 711.9L1383.5 710.7L1384 711.4L1384.5 710.7L1385 712L1385.5 712.8L1386 712.9L1386.5 713.1L1387 713.7L1387.5 713.7L1388 714.5L1388.5 714L1389 713.5L1389.5 712.9L1390 713.5L1390.5 713.6L1391 713.1L1391.5 713.1L1392 712.6L1392.5 712.8L1393 713.2L1393.5 712.8L1394 712.7L1394.5 712.4L1395 712.2L1395.5 712.4L1396 712.8L1396.5 711.7L1397 712L1397.5 710.6L1398 710.1L1398.5 710.4L1399 708.6L1399.5 707.9L1400 707.4L1400.5 705.7L1401 704.4L1401.5 704.5L1402 701.3L1402.5 698.5L1403 693L1403.5 682.5L1404 665.4L1404.5 638.5L1405 608.2L1405.5 592.8L1406 607.8L1406.5 638.8L1407 665.4L1407.5 682.5L1408 693L1408.5 698.2L1409 702.4L1409.5 703.8L1410 705.1L1410.5 705.9L1411 707.2L1411.5 707.4L1412 709L1412.5 710.1L1413 711.1L1413.5 711.2L1414 711.5L1414.5 709.8L1415 709.2L1415.5 708.5L1416 707.9L1416.5 707.2L1417 706.6L1417.5 706.4L1418 706.6L1418.5 706.4L1419 706.9L1419.5 706.8L1420 707.9L1420.5 709.5L1421 708.4L1421.5 709.6L1422 710.8L1422.5 710.8L1423 711.6L1423.5 710.5L1424 711.6L1424.5 712.9L1425 712L1425.5 712.6L1426 711.5L1426.5 713L1427 713.6L1427.5 712.5L1428 712.6L1428.5 712.6L1429 713.3L1429.5 711.9L1430 711.1L1430.5 712.7L1431 711L1431.5 711.6L1432 709.9L1432.5 710.6L1433 710.5L1433.5 709.5L1434 709.3L1434.5 709.4L1435 708.2L1435.5 708.1L1436 708L1436.5 705.2L1437 705.3L1437.5 704.2L1438 702.1L1438.5 701L1439 697.9L1439.5 692.7L1440 684.4L1440.5 669.4L1441 645.2L1441.5 613.3L1442 578.3L1442.5 561.8L1443 579.1L1443.5 612.9L1444 646.2L1444.5 668.9L1445 683.9L1445.5 692.4L1446 697.9L1446.5 700.1L1447 702.6L1447.5 703.4L1448 705.2L1448.5 706.9L1449 707.6L1449.5 709.4L1450 711.5L1450.5 711.3L1451 711.8L1451.5 710.8L1452 709.5L1452.5 709L1453 708.2L1453.5 707.6L1454 706.5L1454.5 706.4L1455 707.2L1455.5 706.4L1456 707.5L1456.5 707.8L1457 708.1L1457.5 709.1L1458 708.7L1458.5 710.5L1459 711.8L1459.5 711.2L1460 712.6L1460.5 713L1461 714.8L1461.5 713.1L1462 713.5L1462.5 713.8L1463 713.9L1463.5 713.7L1464 714.7L1464.5 714.4L1465 715.3L1465.5 715.2L1466 714.6L1466.5 715L1467 715.9L1467.5 715.1L1468 715.5L1468.5 715.8L1469 715.3L1469.5 715.7L1470 716.4L1470.5 716.2L1471 714.8L1471.5 716.5L1472 715.6L1472.5 715.5L1473 715.5L1473.5 716.4L1474 716L1474.5 715.8L1475 715.5L1475.5 716.2L1476 716.5L1476.5 715.4L1477 715.4L1477.5 715.8L1478 716.3L1478.5 715.8L1479 715.9L1479.5 715.6L1480 716.6L1480.5 715.9L1481 716.1L1481.5 716.5L1482 715.8L1482.5 715.9L1483 716.1L1483.5 715.6L1484 716.5L1484.5 715.7L1485 715.4L1485.5 715.3L1486 714.6L1486.5 715.3L1487 714.7L1487.5 712.6L1488 710.6L1488.5 707.2L1489 705.1L1489.5 703.4L1490 701.5L1490.5 703.4L1491 706.2L1491.5 707L1492 710.7L1492.5 712.4L1493 713.7L1493.5 713.8L1494 715.1L1494.5 714.9L1495 716.1L1495.5 716.4L1496 715.1L1496.5 715.1L1497 715.6L1497.5 715.7L1498 715.7L1498.5 716L1499 714.6L1499.5 714.5L1500 713.8L1500.5 712.9L1501 711.4L1501.5 710.6L1502 710.1L1502.5 711.5L1503 711.7L1503.5 712.1L1504 714.5L1504.5 715.1L1505 715.1L1505.5 715.4L1506 715.7L1506.5 717L1507 716L1507.5 716.9L1508 716.8L1508.5 716.1L1509 716.6L1509.5 716L1510 714.9L1510.5 716.1L1511 716.1L1511.5 717L1512 716.8L1512.5 717.1L1513 716.8L1513.5 717.1L1514 716.9L1514.5 716.7L1515 717.1L1515.5 717.3L1516 717.3L1516.5 716.4L1517 716.6L1517.5 716.1L1518 716.1L1518.5 716.8L1519 716.3L1519.5 717.3L1520 715.5L1520.5 716L1521 716.7L1521.5 717.2L1522 716.4L1522.5 717.6L1523 717L1523.5 716.3L1524 716.6L1524.5 716.9L1525 716.2L1525.5 717.2L1526 716.5L1526.5 716.9L1527 717.1L1527.5 716.4L1528 717.2L1528.5 715.7L1529 716.9L1529.5 715.7L1530 717.2L1530.5 716.4L1531 717.3L1531.5 717.3L1532 716.6L1532.5 716.3L1533 717.3L1533.5 716.1L1534 717.1L1534.5 716.6L1535 716.5L1535.5 716.4L1536 717.6L1536.5 715.8L1537 716.4L1537.5 716.9L1538 717.2L1538.5 717.5L1539 717.3L1539.5 716.4L1540 716.8L1540.5 717.2L1541 716.9L1541.5 715.9L1542 716.8L1542.5 716.9L1543 715.9L1543.5 716.4L1544 716.6L1544.5 716.9L1545 717.4L1545.5 717.2L1546 716.8L1546.5 716.7L1547 716.4L1547.5 716.3L1548 716.5L1548.5 716.5L1549 717.1L1549.5 717.6L1550 716.8L1550.5 717L1551 716.9L1551.5 716.7L1552 717.1L1552.5 717.1L1553 716.6L1553.5 716.4L1554 716.8L1554.5 716.2L1555 716.6L1555.5 717L1556 716.4L1556.5 715.5L1557 716.7L1557.5 715.8L1558 715.7L1558.5 715.6L1559 716.7L1559.5 715.3L1560 716.2L1560.5 716.3L1561 716.3L1561.5 715.8L1562 716.1L1562.5 716.1L1563 715.4L1563.5 716.3L1564 716.4L1564.5 715.4L1565 715.3L1565.5 715L1566 715.9L1566.5 714.6L1567 714.6L1567.5 713.5L1568 714.5L1568.5 713.1L1569 712.6L1569.5 712.3L1570 710.8L1570.5 708.6L1571 708.1L1571.5 706.8L1572 704.8L1572.5 703.7L1573 703L1573.4 703.7L1573.5 703.3L1574 703.1L1574.5 704.8L1575 705.9L1575.5 706.4L1576 707.4L1576.5 710L1577 711.8L1577.5 712.3L1578 712.9L1578.5 713.1L1579 713.3L1579.5 714.1L1580 714.6L1580.5 714.4L1581 715.1L1581.5 714.8L1582 715.1L1582.5 713.5L1583 714.4L1583.5 715.2L1584 715.2L1584.5 714.9L1585 715.4L1585.5 714.9L1586 714.8L1586.5 713.8L1587 714.3L1587.5 714.3L1588 714.3L1588.5 713.9L1589 713L1589.5 712.6L1590 711.4L1590.5 711.6L1591 710L1591.5 709.4L1592 708.3L1592.5 707.8L1593 705.8L1593.5 702.8L1594 700.2L1594.5 698.3L1595 695.3L1595.5 693L1596 690L1596.5 687.2L1597 683.8L1597.5 681.9L1598 680.8L1598.5 680.4L1599 680.4L1599.5 682L1600 684.7L1600.5 686.1L1601 689.7L1601.5 692.8L1602 695L1602.5 697.9L1603 701L1603.5 702.9L1604 705.7L1604.5 707.2L1605 709.5L1605.5 708.9L1606 711.5L1606.5 711.1L1607 712.5L1607.5 713.1L1608 713.2L1608.5 713.3L1609 713.5L1609.5 713.1L1610 714.1L1610.5 714L1611 714.9L1611.5 714.4L1612 714.8L1612.5 715.2L1613 715.1L1613.5 715.2L1614 715.1L1614.5 715.1L1615 715.6L1615.5 715.7L1616 715L1616.5 716.3L1617 715.8L1617.5 714.7L1618 716.9L1618.5 715.9L1619 715.2L1619.5 716.3L1620 714.2L1620.5 716.8L1621 714.7L1621.5 714.6L1622 714.9L1622.5 715.4L1623 715L1623.5 715.5L1624 714.5L1624.5 715.3L1625 714.6L1625.5 713.7L1626 714.4L1626.5 713.6L1627 712.6L1627.5 712.2L1628 709.1L1628.5 706.1L1629 701.2L1629.5 691.6L1630 679.8L1630.5 666.3L1631 655.6L1631.3 653.9L1631.5 654L1632 663.7L1632.5 676.1L1633 689L1633.5 698.1L1634 705L1634.5 708.6L1635 710.8L1635.5 710.8L1636 710.9L1636.5 710L1637 709.3L1637.5 707.7L1638 704.5L1638.5 699.6L1639 694.4L1639.5 688.9L1640 687.3L1640.5 690.3L1641 695.2L1641.5 699.8L1642 705.2L1642.5 709.1L1643 710.9L1643.5 713.2L1644 714.1L1644.5 714.8L1645 715.9L1645.5 714.7L1646 716L1646.5 715.8L1647 716L1647.5 715.4L1648 715.9L1648.5 715.9L1649 716.9L1649.5 716.1L1650 716.9L1650.5 716L1651 716L1651.5 716.3L1652 715.3L1652.5 716L1653 716L1653.5 716.3L1654 716.5L1654.5 715.9L1655 715.8L1655.5 717.1L1656 715.9L1656.5 716.2L1657 716L1657.5 716.2L1658 717.1L1658.5 717.1L1659 715.6L1659.5 716.4L1660 717.2L1660.5 716.3L1661 716.7L1661.5 717.4L1662 717.6L1662.5 717.3L1663 716.3L1663.5 716.5L1664 716.6L1664.5 716.3L1665 716.2L1665.5 717.5L1666 716.6L1666.5 716.9L1667 717L1667.5 716.7L1668 716.5L1668.5 716.5L1669 717.1L1669.5 716.6L1670 715.3L1670.5 716.8L1671 717.1L1671.5 716.1L1672 715.9L1672.5 715.9L1673 716.7L1673.5 715.6L1674 716.4L1674.5 716.5L1675 716.2L1675.5 715.9L1676 715.3L1676.5 715.3L1677 715.4L1677.5 714.8L1678 714.9L1678.5 714.2L1679 714.9L1679.5 714.5L1680 712.6L1680.5 712.7L1681 711L1681.5 709.5L1682 708L1682.5 706.1L1683 703.1L1683.5 702.9L1684 699.1L1684.5 696.6L1685 696.4L1685.5 695.8L1685.6 695.4L1686 695.1L1686.5 697.7L1687 698.7L1687.5 700.9L1688 702.7L1688.5 705L1689 706.7L1689.5 709L1690 710.3L1690.5 711.9L1691 712.9L1691.5 713.4L1692 714L1692.5 715L1693 714L1693.5 715.1L1694 716L1694.5 714.9L1695 715.9L1695.5 715.4L1696 715.7L1696.5 715.7L1697 715.8L1697.5 716.2L1698 715.9L1698.5 714.9L1699 717.1L1699.5 716L1700 715.8L1700.5 716.5L1701 716.7L1701.5 714.9L1702 716.1L1702.5 714.9L1703 715.6L1703.5 715.8L1704 715.5L1704.5 715.3L1705 714.9L1705.5 715.1L1706 715L1706.5 714.6L1707 713.5L1707.5 713L1708 713.1L1708.5 711.7L1709 709.8L1709.5 708.7L1710 706.8L1710.5 705.2L1711 703.1L1711.5 701.3L1712 700.3L1712.2 700.8L1712.5 699.9L1713 701.8L1713.5 701.7L1714 704.6L1714.5 706.7L1715 709L1715.5 711.8L1716 711.8L1716.5 712.8L1717 712.8L1717.5 715.1L1718 713.9L1718.5 715.4L1719 715.2L1719.5 717L1720 715.8L1720.5 716.2L1721 715.7L1721.5 716.1L1722 716.8L1722.5 715.8L1723 716L1723.5 716.1L1724 715.9L1724.5 715.9L1725 716.5L1725.5 717.2L1726 717.2L1726.5 715.9L1727 716.2L1727.5 716.5L1728 716.8L1728.5 716.6L1729 716.6L1729.5 716.8L1730 717L1730.5 715.6L1731 716.6L1731.5 717L1732 717.4L1732.5 717.1L1733 716.4L1733.5 716.4L1734 716.9L1734.5 716.7L1735 716.9L1735.5 717.3L1736 716.1L1736.5 716.6L1737 715.5L1737.5 717.2L1738 716.9L1738.5 716.4L1739 716.9L1739.5 717.5L1740 717.3L1740.5 716.8L1741 716.6L1741.5 716.9L1742 716.3L1742.5 716.3L1743 716.7L1743.5 716.8L1744 717L1744.5 716.6L1745 716.4L1745.5 716.8L1746 716.6L1746.5 717L1747 717.6L1747.5 717.3L1748 716.5L1748.5 716.6L1749 716.1L1749.5 716.8L1750 716.4L1750.5 716.2L1751 716.4L1751.5 717.2L1752 717L1752.5 716.8L1753 717.4L1753.5 716.6L1754 716.4L1754.5 717.1L1755 715.9L1755.5 717L1756 717L1756.5 717L1757 717.2L1757.5 716.7L1758 716.9L1758.5 716L1759 716.6L1759.5 716.6L1760 717L1760.5 717.6L1761 716.9L1761.5 717.3L1762 716.4L1762.5 716.9L1763 716L1763.5 716.5L1764 716.5L1764.5 716.8L1765 716.8L1765.5 716.6L1766 716.4L1766.5 717.2L1767 716.6L1767.5 715.6L1768 716.9L1768.5 717L1769 717.2L1769.5 717.6L1770 716.3L1770.5 716.8L1771 716.7L1771.5 715.9L1772 715.6L1772.5 717.3L1773 716.3L1773.5 716.6L1774 716.7L1774.5 716.6L1775 716.9L1775.5 716.1L1776 716.5L1776.5 716.7L1777 716.2L1777.5 716.4L1778 716.6L1778.5 716.7L1779 715.9L1779.5 716.6L1780 716.9L1780.5 717.2L1781 717L1781.5 717.3L1782 716.7L1782.5 716.6L1783 717.8L1783.5 716.7L1784 716.4L1784.5 716.6L1785 717.1L1785.5 716L1786 716.9L1786.5 717.1L1787 717L1787.5 716.3L1788 715.7L1788.5 715.4L1789 715.5L1789.5 715.5L1790 714.2L1790.5 712.8L1791 710.3L1791.5 708.8L1792 705.7L1792.5 704.6L1793 705.9L1793.5 707.6L1794 710.7L1794.5 713L1795 714.2L1795.5 714.3L1796 715L1796.5 716.2L1797 715.6L1797.5 716.5L1798 715.7L1798.5 716.2L1799 716.8L1799.5 716.2L1800 717L1800.5 717.1L1801 717.4L1801.5 716.6L1802 716.8L1802.5 716.8L1803 717L1803.5 716L1804 717L1804.5 717.1L1805 716.2L1805.5 716.1L1806 716.6L1806.5 717.7L1807 717.1L1807.5 716.5L1808 716.8L1808.5 716L1809 717.5L1809.5 716.5L1810 717.1L1810.5 716.2L1811 716.9L1811.5 716.3L1812 717.1L1812.5 717.5L1813 717.4L1813.5 717.1L1814 717.3L1814.5 716.2L1815 716.1L1815.5 716.7L1816 717.3L1816.5 716.9L1817 717.1L1817.5 716.1L1818 716.6L1818.5 716.5L1819 717L1819.5 717.8L1820 717.1L1820.5 717.3L1821 716.5L1821.5 716.7L1822 717.1L1822.5 716.9L1823 715.9L1823.5 717.1L1824 717.1L1824.5 716.7L1825 716.9L1825.5 716.8L1826 716.3L1826.5 715.6L1827 717.3L1827.5 716.4L1828 716.3L1828.5 716.3L1829 716.2L1829.5 716.2L1830 715.3L1830.5 715.8L1831 715.3L1831.5 714.8L1832 714.3L1832.5 713.8L1833 712.5L1833.5 712.1L1834 711L1834.5 710.1L1835 709.5L1835.5 708.4L1836 707.6L1836.5 706.5L1836.9 706.8L1837 707L1837.5 706.6L1838 707.1L1838.5 709.2L1839 708.5L1839.5 710.4L1840 711.5L1840.5 711.9L1841 713.2L1841.5 714.3L1842 713.5L1842.5 715.6L1843 715.4L1843.5 715.2L1844 716.4L1844.5 716.1L1845 716L1845.5 715.1L1846 716.8L1846.5 716.4L1847 716.1L1847.5 716.5L1848 717.1L1848.5 716.4L1849 716.5L1849.5 716.4L1850 716.1L1850.5 716.2L1851 716.5L1851.5 716.5L1852 717.3L1852.5 716.8L1853 716.6L1853.5 717L1854 716.7L1854.5 717.2L1855 716L1855.5 715.7L1856 717L1856.5 716.6L1857 716.9L1857.5 716.2L1858 716.6L1858.5 716.8L1859 716.9L1859.5 716.8L1860 717.3L1860.5 716.5L1861 717.2L1861.5 716.6L1862 716.8L1862.5 716.3L1863 716.9L1863.5 716.3L1864 717.3L1864.5 716.6L1865 717L1865.5 716.8L1866 716.8L1866.5 716.4L1867 717.9L1867.5 716.7L1868 717.6L1868.5 716.3L1869 717.9L1869.5 717.4L1870 717.7L1870.5 716L1871 717.5L1871.5 716.8L1872 717.1L1872.5 717.8L1873 717L1873.5 716.5L1874 716.9L1874.5 716.4L1875 717L1875.5 716.8L1876 717L1876.5 716.7L1877 715.9L1877.5 716.6L1878 716.7L1878.5 717.1L1879 717.2L1879.5 716.1L1880 717.3L1880.5 717.2L1881 716.8L1881.5 717L1882 715.8L1882.5 717.9L1883 716.5L1883.5 716.3L1884 717.2L1884.5 717L1885 716.4L1885.5 715.8L1886 717L1886.5 717.3L1887 715.9L1887.5 715.6L1888 716.4L1888.5 717.2L1889 715.2L1889.5 715.8L1890 714.8L1890.5 714.9L1891 714.2L1891.5 712.6L1892 709L1892.5 705.1L1893 701.6L1893.5 695.5L1894 690.4L1894.2 691.1L1894.5 692.5L1895 696.1L1895.5 701.7L1896 706.8L1896.5 710.7L1897 713L1897.5 714.4L1898 714.8L1898.5 715.9L1899 715.9L1899.5 716L1900 715.5L1900.5 716.1L1901 716.4L1901.5 716.2L1902 716.3L1902.5 716L1903 716.3L1903.5 715.7L1904 716L1904.5 716.7L1905 716.9L1905.5 716.3L1906 716.5L1906.5 716.8L1907 717.5L1907.5 717.7L1908 716.6L1908.5 716.4L1909 716.4L1909.5 717.5L1910 716.3L1910.5 717.1L1911 716.7L1911.5 716.7L1912 717.3L1912.5 717.2L1913 717.9L1913.5 717.3L1914 717.8L1914.5 716.7L1915 716.9L1915.5 716.4L1916 716.7L1916.5 717.2L1917 716.7L1917.5 717.1L1918 716.6" fill="none" stroke="#ff0000" stroke-width="12.6" stroke-linejoin="round" stroke-linecap="butt"/>
<path d="M181 1493.1L181.5 1493.8L182 1493.3L182.5 1493.3L183 1493.4L183.5 1492.8L184 1492.4L184.5 1493.5L185 1493.5L185.5 1494.4L186 1493.3L186.5 1493.5L187 1494.4L187.5 1493.1L188 1493L188.5 1493.6L189 1493.5L189.5 1493.8L190 1492.9L190.5 1494L191 1493.4L191.5 1492.3L192 1493.3L192.5 1493L193 1493.4L193.5 1493.9L194 1493.3L194.5 1493.1L195 1493.8L195.5 1493.1L196 1492.7L196.5 1492.7L197 1494.1L197.5 1493.8L198 1494.1L198.5 1492.7L199 1493L199.5 1492.9L200 1493.7L200.5 1493.9L201 1493.2L201.5 1493.2L202 1493.7L202.5 1493.2L203 1493L203.5 1493.2L204 1493.8L204.5 1494.3L205 1493.4L205.5 1493.2L206 1493.4L206.5 1493.5L207 1493.6L207.5 1492.9L208 1493.3L208.5 1493.2L209 1493.8L209.5 1493.6L210 1493.2L210.5 1493.8L211 1493.9L211.5 1493.4L212 1492.7L212.5 1493.2L213 1492.5L213.5 1493.3L214 1493.4L214.5 1494L215 1493.6L215.5 1492.6L216 1493.1L216.5 1492.9L217 1492.9L217.5 1493.3L218 1493.4L218.5 1493.2L219 1492.9L219.5 1493L220 1493L220.5 1493.2L221 1493.7L221.5 1493.4L222 1493.7L222.5 1492.8L223 1494.3L223.5 1493.4L224 1492.1L224.5 1493.4L225 1493.8L225.5 1493.3L226 1492.6L226.5 1493.4L227 1493L227.5 1493.2L228 1493.5L228.5 1491.7L229 1493.2L229.5 1493.5L230 1493.5L230.5 1493.1L231 1493.1L231.5 1492.9L232 1493.2L232.5 1494L233 1493L233.5 1493.4L234 1493.4L234.5 1494L235 1493.6L235.5 1493.6L236 1493.3L236.5 1494L237 1493.2L237.5 1493.2L238 1493.8L238.5 1493.6L239 1493.7L239.5 1492.8L240 1494.5L240.5 1493.4L241 1494.1L241.5 1493.5L242 1492.9L242.5 1493.6L243 1493.2L243.5 1493.7L244 1492.3L244.5 1492.8L245 1492.7L245.5 1493.9L246 1493.8L246.5 1492.7L247 1493.4L247.5 1493.4L248 1493.1L248.5 1493.9L249 1492.9L249.5 1493.3L250 1493L250.5 1493.6L251 1493L251.5 1493.6L252 1492.8L252.5 1492.7L253 1492.8L253.5 1493L254 1493L254.5 1494.6L255 1492.9L255.5 1493.4L256 1493.2L256.5 1493.4L257 1494L257.5 1493.5L258 1492.9L258.5 1492.6L259 1493.6L259.5 1493.7L260 1492.5L260.5 1493.7L261 1492.2L261.5 1493.2L262 1493.7L262.5 1492.8L263 1492.4L263.5 1494L264 1492.5L264.5 1493.4L265 1492.5L265.5 1493.5L266 1494.1L266.5 1493L267 1492.8L267.5 1492.2L268 1492.4L268.5 1492.9L269 1493.4L269.5 1493.5L270 1493.4L270.5 1493.7L271 1493.4L271.5 1494.5L272 1493.2L272.5 1493.3L273 1492L273.5 1492.9L274 1493.5L274.5 1493L275 1493.9L275.5 1493.6L276 1494.2L276.5 1492.5L277 1493L277.5 1493.8L278 1493.3L278.5 1492.8L279 1493L279.5 1493.1L280 1493.7L280.5 1493.6L281 1493.2L281.5 1492.8L282 1493.7L282.5 1493.8L283 1492.7L283.5 1493.7L284 1492.7L284.5 1493.1L285 1492.8L285.5 1492.4L286 1492.9L286.5 1492.9L287 1493.7L287.5 1493.6L288 1492.9L288.5 1492.5L289 1492.5L289.5 1492.1L290 1493.1L290.5 1493.1L291 1492.7L291.5 1493.2L292 1493.3L292.5 1493.7L293 1492.7L293.5 1493.8L294 1493L294.5 1493.9L295 1492.7L295.5 1493.7L296 1492.8L296.5 1494L297 1493.4L297.5 1492.6L298 1493.6L298.5 1493.2L299 1493.4L299.5 1494.3L300 1493L300.5 1493L301 1493.7L301.5 1492.9L302 1493.6L302.5 1493.7L303 1493.1L303.5 1493.5L304 1492L304.5 1493.9L305 1492.7L305.5 1492.6L306 1494.1L306.5 1493.9L307 1492.8L307.5 1493.3L308 1492.8L308.5 1492.4L309 1493.2L309.5 1493.5L310 1494.3L310.5 1492.8L311 1493.3L311.5 1492.7L312 1492.7L312.5 1493.4L313 1491.8L313.5 1492L314 1492.1L314.5 1493L315 1492.4L315.5 1492.3L316 1492L316.5 1492.1L317 1490.9L317.5 1490.4L318 1489.4L318.5 1488.3L319 1484.2L319.5 1477.9L320 1466.1L320.5 1445.4L321 1426.1L321.3 1421.3L321.5 1423.9L322 1441L322.5 1461.6L323 1475.6L323.5 1484.1L324 1487.9L324.5 1489.8L325 1490.1L325.5 1491.2L326 1492.3L326.5 1491.4L327 1492.3L327.5 1492L328 1492.1L328.5 1491.9L329 1492L329.5 1492.9L330 1492.8L330.5 1493.4L331 1492L331.5 1492.6L332 1492.2L332.5 1493.1L333 1494L333.5 1492.2L334 1493L334.5 1493L335 1493L335.5 1492.7L336 1492.8L336.5 1493.9L337 1492.6L337.5 1493.4L338 1493.3L338.5 1492.3L339 1492.7L339.5 1493.3L340 1494.1L340.5 1493.1L341 1492.9L341.5 1493.2L342 1493.8L342.5 1493.6L343 1493.8L343.5 1493.1L344 1492.8L344.5 1492.7L345 1493.6L345.5 1493.1L346 1492.9L346.5 1493.5L347 1493.3L347.5 1492.1L348 1493.1L348.5 1492.8L349 1493.4L349.5 1493.2L350 1494.1L350.5 1493.2L351 1492.6L351.5 1492.2L352 1492.6L352.5 1492.9L353 1493.2L353.5 1493.5L354 1493.3L354.5 1492.9L355 1493.6L355.5 1492.8L356 1493.7L356.5 1494.1L357 1493.7L357.5 1494.1L358 1493.9L358.5 1492.7L359 1493.3L359.5 1493.1L360 1492.7L360.5 1492.6L361 1493.5L361.5 1492.6L362 1493L362.5 1493.2L363 1493L363.5 1494L364 1493.6L364.5 1493.3L365 1492.9L365.5 1493.4L366 1493.3L366.5 1492.8L367 1492.5L367.5 1492.9L368 1492.6L368.5 1493.4L369 1493.4L369.5 1493.1L370 1493.4L370.5 1493.5L371 1492.4L371.5 1493.3L372 1493.7L372.5 1493L373 1492.3L373.5 1493.2L374 1492.6L374.5 1493.5L375 1493.5L375.5 1493.6L376 1493.3L376.5 1492.3L377 1493.8L377.5 1492.4L378 1493.8L378.5 1493.4L379 1492.8L379.5 1492.9L380 1493.1L380.5 1494.1L381 1493.1L381.5 1493.8L382 1492L382.5 1493.4L383 1493.2L383.5 1493.8L384 1493.5L384.5 1493.9L385 1492.8L385.5 1493.4L386 1493L386.5 1493.6L387 1493.5L387.5 1492.6L388 1493.7L388.5 1494.2L389 1493L389.5 1493.8L390 1493.5L390.5 1492.8L391 1493.7L391.5 1492.8L392 1493.6L392.5 1492.5L393 1492.6L393.5 1493.5L394 1493.4L394.5 1493.7L395 1493.1L395.5 1492.7L396 1494L396.5 1492.8L397 1493.9L397.5 1493.7L398 1494.1L398.5 1492.2L399 1493.2L399.5 1493.1L400 1493.6L400.5 1492.7L401 1494.3L401.5 1493.2L402 1492.1L402.5 1493.4L403 1493.2L403.5 1492.9L404 1493.7L404.5 1493.2L405 1492.8L405.5 1493.1L406 1493.1L406.5 1493.4L407 1493.1L407.5 1493.2L408 1492.5L408.5 1492.9L409 1493.4L409.5 1494.5L410 1492.9L410.5 1492.9L411 1493.7L411.5 1494.2L412 1493.8L412.5 1492.8L413 1493.8L413.5 1493.5L414 1493.1L414.5 1492.6L415 1493.3L415.5 1493.3L416 1493.5L416.5 1492.4L417 1492.7L417.5 1493.3L418 1493.9L418.5 1493.6L419 1493L419.5 1493.6L420 1492.8L420.5 1493.1L421 1493.1L421.5 1492.9L422 1493L422.5 1493.7L423 1493.4L423.5 1492.1L424 1493.8L424.5 1493.5L425 1492.7L425.5 1493.3L426 1493.6L426.5 1493.9L427 1493L427.5 1492.7L428 1492.5L428.5 1493.2L429 1492.7L429.5 1493.8L430 1493.2L430.5 1493.6L431 1493.1L431.5 1492.9L432 1492.7L432.5 1493.7L433 1492.6L433.5 1493.5L434 1493.7L434.5 1493.3L435 1494L435.5 1493.2L436 1493.1L436.5 1493.3L437 1493L437.5 1493.4L438 1493.2L438.5 1493.9L439 1493.2L439.5 1493.7L440 1493.5L440.5 1493.3L441 1493.1L441.5 1494L442 1494L442.5 1493.4L443 1493L443.5 1493L444 1492.8L444.5 1492.6L445 1493L445.5 1493.2L446 1493.7L446.5 1493.7L447 1493.5L447.5 1493.1L448 1493.1L448.5 1493.2L449 1493.3L449.5 1492.9L450 1493.1L450.5 1493.1L451 1493.1L451.5 1493.5L452 1493.7L452.5 1493L453 1493L453.5 1493.3L454 1493.4L454.5 1492.1L455 1493.6L455.5 1493.3L456 1493.1L456.5 1493.8L457 1493.1L457.5 1492.3L458 1492.7L458.5 1492.9L459 1492.9L459.5 1493.1L460 1492.7L460.5 1493.3L461 1493.4L461.5 1493.1L462 1492.7L462.5 1493L463 1492.8L463.5 1494.2L464 1492.6L464.5 1492L465 1492.5L465.5 1493.3L466 1493.6L466.5 1493L467 1493.6L467.5 1492.8L468 1493.4L468.5 1492.6L469 1492.4L469.5 1494.1L470 1492.9L470.5 1493.4L471 1493.7L471.5 1493.2L472 1492.9L472.5 1492.1L473 1493L473.5 1491.1L474 1489.8L474.5 1489.7L475 1489.4L475.5 1490L476 1491.4L476.5 1491.3L477 1492L477.5 1492.2L478 1491.5L478.5 1492.5L479 1492.7L479.5 1492.2L480 1493.7L480.5 1493.6L481 1493.2L481.5 1493.4L482 1492.7L482.5 1493.2L483 1492.2L483.5 1492.3L484 1492.7L484.5 1493.3L485 1492.8L485.5 1492.7L486 1493.6L486.5 1492.9L487 1492.7L487.5 1492.9L488 1492.3L488.5 1492.4L489 1493.5L489.5 1493L490 1493.4L490.5 1492.7L491 1493.5L491.5 1492.5L492 1492.8L492.5 1492.5L493 1493.1L493.5 1493.7L494 1492.1L494.5 1493L495 1492.3L495.5 1492.7L496 1492.6L496.5 1492L497 1492.7L497.5 1492.2L498 1493.6L498.5 1492.4L499 1493L499.5 1492.9L500 1492.8L500.5 1492.6L501 1491.9L501.5 1493.7L502 1492.7L502.5 1493L503 1492.1L503.5 1492.8L504 1492.4L504.5 1492.7L505 1492.2L505.5 1491.9L506 1492.6L506.5 1492.3L507 1493L507.5 1492L508 1491.7L508.5 1492.3L509 1491.4L509.5 1492.8L510 1492.6L510.5 1492.2L511 1491.6L511.5 1491.1L512 1490.9L512.5 1490.5L513 1489.8L513.5 1489.9L514 1489.7L514.5 1488.9L515 1486.3L515.5 1487.2L516 1484.3L516.5 1480.6L517 1476L517.5 1466L518 1443.8L518.5 1404.4L519 1349.1L519.5 1298.9L519.8 1286.9L520 1292.2L520.5 1337.3L521 1393.9L521.5 1437.4L522 1462.8L522.5 1474.1L523 1479.2L523.5 1482.8L524 1484.9L524.5 1485.1L525 1487.8L525.5 1487.4L526 1488.6L526.5 1488.6L527 1488.7L527.5 1488.1L528 1489.2L528.5 1488.8L529 1489L529.5 1487.5L530 1487.2L530.5 1485.6L531 1484.6L531.5 1481.2L532 1474.5L532.5 1462.2L533 1437L533.5 1398.1L534 1353.8L534.5 1331.9L535 1353.2L535.5 1398.4L536 1437.1L536.5 1463.5L537 1476.3L537.5 1482.7L538 1485.2L538.5 1486.1L539 1487.6L539.5 1488.8L540 1489.4L540.5 1489.6L541 1490.6L541.5 1490.6L542 1491L542.5 1492.4L543 1491.7L543.5 1491L544 1492L544.5 1492L545 1492.4L545.5 1492.4L546 1491.7L546.5 1492.4L547 1492.9L547.5 1494L548 1492.8L548.5 1493.5L549 1493.5L549.5 1492.2L550 1492.3L550.5 1493.6L551 1492.3L551.5 1492.5L552 1493.1L552.5 1492.4L553 1493.6L553.5 1493.4L554 1493.5L554.5 1493.4L555 1492.4L555.5 1493.5L556 1493.5L556.5 1493.4L557 1492.8L557.5 1493.1L558 1492.5L558.5 1493.3L559 1493.6L559.5 1493.2L560 1493L560.5 1493.4L561 1492.9L561.5 1492.1L562 1493.3L562.5 1493L563 1492.3L563.5 1493.3L564 1493.5L564.5 1493.6L565 1492.8L565.5 1492.8L566 1493.1L566.5 1493L567 1492.4L567.5 1492.6L568 1493.8L568.5 1493.1L569 1493L569.5 1492.7L570 1493.2L570.5 1493.4L571 1493.3L571.5 1494L572 1493.1L572.5 1493.4L573 1492.9L573.5 1493.6L574 1493.3L574.5 1493.6L575 1493.6L575.5 1492.8L576 1493.4L576.5 1492.9L577 1493.7L577.5 1493.1L578 1494L578.5 1493.4L579 1493.4L579.5 1492.8L580 1493L580.5 1493.2L581 1492.7L581.5 1493L582 1492.9L582.5 1492.8L583 1493.2L583.5 1493.3L584 1493L584.5 1493.4L585 1493L585.5 1492.6L586 1492.7L586.5 1493.3L587 1493.8L587.5 1493.2L588 1493.2L588.5 1492.6L589 1493.3L589.5 1493.3L590 1492.8L590.5 1493.4L591 1493.2L591.5 1492.3L592 1492.4L592.5 1492.8L593 1493L593.5 1493.6L594 1492.9L594.5 1493.1L595 1493L595.5 1493.4L596 1493.2L596.5 1493.2L597 1493L597.5 1492.4L598 1493L598.5 1494L599 1493.6L599.5 1493.9L600 1493.5L600.5 1492.9L601 1493L601.5 1493.5L602 1493L602.5 1493.5L603 1493.9L603.5 1493.9L604 1493.6L604.5 1492.4L605 1493.8L605.5 1492.5L606 1492.5L606.5 1493.2L607 1493.2L607.5 1493.4L608 1493.2L608.5 1492.8L609 1493.1L609.5 1492.6L610 1492.5L610.5 1493L611 1493L611.5 1493.2L612 1493L612.5 1493.7L613 1492.9L613.5 1493L614 1493.6L614.5 1492L615 1493.6L615.5 1493.5L616 1493L616.5 1494.1L617 1493.5L617.5 1493.9L618 1493.6L618.5 1493.2L619 1492.9L619.5 1492.5L620 1492.7L620.5 1492.5L621 1492.8L621.5 1493.3L622 1492.5L622.5 1493.3L623 1493.3L623.5 1492.3L624 1492.6L624.5 1492.9L625 1492.6L625.5 1492.5L626 1493.6L626.5 1493L627 1493.5L627.5 1492.8L628 1493.2L628.5 1492.1L629 1492.5L629.5 1493.1L630 1492.6L630.5 1493.1L631 1492.4L631.5 1492L632 1491.9L632.5 1492.6L633 1491.2L633.5 1489.6L634 1487.4L634.5 1482.8L635 1477.9L635.5 1470.5L636 1468L636.5 1470.7L637 1477.1L637.5 1483L638 1487.8L638.5 1489.8L639 1491.6L639.5 1492.4L640 1491.7L640.5 1492.2L641 1493.2L641.5 1492.9L642 1492.6L642.5 1491.9L643 1492.2L643.5 1492.4L644 1493.7L644.5 1492.9L645 1492.6L645.5 1492.7L646 1492.7L646.5 1493L647 1492L647.5 1492.2L648 1493L648.5 1493.4L649 1491.9L649.5 1493.2L650 1492.4L650.5 1492L651 1493.4L651.5 1492.8L652 1493.2L652.5 1492.7L653 1492.8L653.5 1492L654 1492.7L654.5 1493L655 1492.4L655.5 1493.1L656 1493.2L656.5 1491.9L657 1493.4L657.5 1493.2L658 1493L658.5 1493.5L659 1494L659.5 1492.4L660 1493.4L660.5 1493.2L661 1493.1L661.5 1493.4L662 1493.5L662.5 1492.9L663 1491.7L663.5 1492.6L664 1492.5L664.5 1493.7L665 1492.9L665.5 1493.5L666 1492.5L666.5 1493L667 1492.9L667.5 1492.9L668 1493.1L668.5 1493.6L669 1492.5L669.5 1493.5L670 1493.4L670.5 1492.9L671 1493.1L671.5 1492.6L672 1492.2L672.5 1492.6L673 1492.6L673.5 1492.6L674 1492.2L674.5 1493.5L675 1492.4L675.5 1493L676 1493.1L676.5 1492.4L677 1492.5L677.5 1491.9L678 1491.6L678.5 1493.2L679 1491.9L679.5 1490.7L680 1491L680.5 1490.4L681 1490.7L681.5 1490.9L682 1489.8L682.5 1487.1L683 1483.4L683.5 1477L684 1464.3L684.5 1447.5L685 1435.1L685.2 1433L685.5 1435.2L686 1449.9L686.5 1467.1L687 1477.5L687.5 1485L688 1488.2L688.5 1490.4L689 1489.7L689.5 1490.8L690 1489.8L690.5 1491.1L691 1491.4L691.5 1492.5L692 1491L692.5 1492L693 1492L693.5 1493.1L694 1491.6L694.5 1491.6L695 1492.4L695.5 1492L696 1491.9L696.5 1491.6L697 1492.1L697.5 1491.2L698 1492.2L698.5 1492.4L699 1492.3L699.5 1493.3L700 1492.4L700.5 1491.5L701 1491.9L701.5 1492.4L702 1491.7L702.5 1492.9L703 1492L703.5 1491.5L704 1491.4L704.5 1492.1L705 1491.2L705.5 1490.7L706 1491.7L706.5 1491.1L707 1492.2L707.5 1492.3L708 1490.9L708.5 1491.1L709 1490.9L709.5 1491.2L710 1490.9L710.5 1490.3L711 1489.7L711.5 1490.5L712 1491L712.5 1489.4L713 1489.5L713.5 1489.2L714 1489.2L714.5 1487.9L715 1488.7L715.5 1488.1L716 1488.9L716.5 1487.8L717 1487.4L717.5 1486.5L718 1485.6L718.5 1485.4L719 1483.2L719.5 1483.5L720 1482L720.5 1480.1L721 1479L721.5 1475.7L722 1472.8L722.5 1469.4L723 1463L723.5 1456L724 1443.2L724.5 1423.1L725 1390.6L725.5 1340.8L726 1273.3L726.5 1191.9L727 1110.3L727.5 1060.3L727.7 1054.5L728 1066.3L728.5 1125L729 1208.8L729.5 1288.2L730 1352.3L730.5 1397L731 1427.7L731.5 1446.2L732 1458.8L732.5 1464.5L733 1469.8L733.5 1473.3L734 1475.8L734.5 1478.7L735 1480.4L735.5 1481.4L736 1482.8L736.5 1484.2L737 1484.9L737.5 1485.9L738 1485.9L738.5 1486.4L739 1487.3L739.5 1486.8L740 1488.9L740.5 1488.6L741 1487.9L741.5 1489.2L742 1490L742.5 1488.7L743 1489.3L743.5 1490.3L744 1489.5L744.5 1490.5L745 1490.8L745.5 1490.3L746 1490.6L746.5 1490.9L747 1490.6L747.5 1491L748 1490.5L748.5 1490.6L749 1490.3L749.5 1490.9L750 1491.3L750.5 1491.3L751 1490.8L751.5 1489.9L752 1490.2L752.5 1491L753 1490.1L753.5 1491.2L754 1490L754.5 1490.7L755 1490L755.5 1490L756 1490.4L756.5 1490L757 1490.6L757.5 1489.9L758 1489.2L758.5 1487.5L759 1489L759.5 1489.1L760 1489.4L760.5 1488.1L761 1489.1L761.5 1488.3L762 1487.3L762.5 1487.5L763 1485.5L763.5 1485L764 1484.9L764.5 1483.7L765 1482.7L765.5 1481L766 1478L766.5 1475.3L767 1472.4L767.5 1468.8L768 1464.9L768.5 1459.5L769 1454.9L769.5 1448.1L770 1440.5L770.5 1432.2L771 1421.1L771.5 1403.2L772 1378.2L772.5 1353.4L773 1345.9L773.5 1363.3L774 1395.5L774.5 1425.5L775 1448.5L775.5 1461.4L776 1469.7L776.5 1473L777 1477L777.5 1479.4L778 1481L778.5 1481.4L779 1482.4L779.5 1483.8L780 1483.3L780.5 1483.9L781 1483.1L781.5 1482.2L782 1479.9L782.5 1474.4L783 1463.8L783.5 1443.3L784 1413.5L784.5 1381.4L785 1365.9L785.5 1381.2L786 1415.7L786.5 1445.6L787 1464.4L787.5 1475.6L788 1481.1L788.5 1484.5L789 1486.7L789.5 1487.5L790 1487.8L790.5 1489.1L791 1489.5L791.5 1490.3L792 1490.5L792.5 1489.8L793 1490.2L793.5 1491.2L794 1491.4L794.5 1491.2L795 1490.8L795.5 1491.8L796 1491.4L796.5 1492.5L797 1492.1L797.5 1491.3L798 1491.2L798.5 1492.3L799 1492.1L799.5 1491.4L800 1492L800.5 1492.1L801 1491.6L801.5 1491.8L802 1491.4L802.5 1491.6L803 1492.3L803.5 1492.1L804 1492L804.5 1492.7L805 1492.5L805.5 1491.6L806 1492.8L806.5 1491.5L807 1491.9L807.5 1492.1L808 1491.7L808.5 1491.7L809 1491.3L809.5 1492.1L810 1491.9L810.5 1491.9L811 1490.7L811.5 1491L812 1491.7L812.5 1491.1L813 1490.7L813.5 1489.3L814 1487.1L814.5 1482.7L815 1480L815.5 1473.2L816 1469.6L816.2 1469.8L816.5 1470.4L817 1475L817.5 1480.2L818 1484.2L818.5 1488.5L819 1488.9L819.5 1490.7L820 1490.3L820.5 1491.2L821 1491L821.5 1491.4L822 1491.3L822.5 1491.9L823 1492.4L823.5 1491.7L824 1491.7L824.5 1491.1L825 1493.2L825.5 1492.3L826 1491.7L826.5 1492.9L827 1492.3L827.5 1491.2L828 1491.5L828.5 1492.7L829 1491.5L829.5 1491.7L830 1491.9L830.5 1492.1L831 1492.1L831.5 1492.7L832 1492.5L832.5 1491.9L833 1492.2L833.5 1491.3L834 1492.4L834.5 1493.4L835 1492.3L835.5 1492L836 1491.9L836.5 1492.1L837 1492.5L837.5 1491.3L838 1492.4L838.5 1491.7L839 1492.1L839.5 1492.5L840 1491.2L840.5 1493.1L841 1492.2L841.5 1491.5L842 1491.8L842.5 1491.2L843 1491.5L843.5 1491.5L844 1490.1L844.5 1491.1L845 1490.8L845.5 1491L846 1490.5L846.5 1489.3L847 1488.7L847.5 1488.1L848 1486.9L848.5 1483.2L849 1478L849.5 1464.1L850 1442.2L850.5 1416.2L851 1402L851.5 1416.1L852 1442.4L852.5 1462.9L853 1476.6L853.5 1482.8L854 1486.3L854.5 1487.3L855 1488.3L855.5 1488.7L856 1488.6L856.5 1490.2L857 1490.2L857.5 1490.5L858 1492.4L858.5 1491.4L859 1490.8L859.5 1490.5L860 1491.2L860.5 1490.3L861 1490.3L861.5 1491.1L862 1490.2L862.5 1490L863 1490.7L863.5 1491.3L864 1490.1L864.5 1490.8L865 1490.9L865.5 1490.5L866 1490.7L866.5 1489.6L867 1489.2L867.5 1488.3L868 1487.6L868.5 1487.4L869 1486.6L869.5 1486.4L870 1487.9L870.5 1487L871 1489.2L871.5 1489.7L872 1489L872.5 1489.3L873 1489.6L873.5 1489.7L874 1489.2L874.5 1488.9L875 1488.8L875.5 1489.2L876 1488.7L876.5 1488.3L877 1488.2L877.5 1489.9L878 1488.6L878.5 1488.3L879 1487.8L879.5 1487.2L880 1486.5L880.5 1486.2L881 1486.1L881.5 1485.3L882 1483.6L882.5 1483.7L883 1481.8L883.5 1479.3L884 1477.7L884.5 1476.2L885 1471.8L885.5 1468.6L886 1464.7L886.5 1460.5L887 1457.7L887.5 1456L887.8 1454.9L888 1455.1L888.5 1456.1L889 1458L889.5 1460.6L890 1463.7L890.5 1466.3L891 1468.3L891.5 1470.5L892 1471.9L892.5 1471.3L893 1472.2L893.5 1471.8L894 1471.2L894.5 1470.2L895 1468.9L895.5 1467.3L896 1465.8L896.5 1462.6L897 1460.8L897.5 1456.8L898 1454.6L898.5 1449.8L899 1443.2L899.5 1436.7L900 1427.1L900.5 1412.4L901 1391.7L901.5 1359.2L902 1313.8L902.5 1249L903 1167.7L903.5 1073.7L904 982.7L904.5 921.4L904.8 908.7L905 915L905.5 968.4L906 1056.1L906.5 1148.5L907 1233.8L907.5 1301.6L908 1351.4L908.5 1386.1L909 1408L909.5 1424L910 1433.4L910.5 1441.7L911 1448.3L911.5 1450.9L912 1455L912.5 1457.7L913 1459.1L913.5 1461.9L914 1462.9L914.5 1465L915 1466.7L915.5 1467.5L916 1469.6L916.5 1470.2L917 1471.9L917.5 1473.9L918 1475.2L918.5 1476.6L919 1478.3L919.5 1478.9L920 1480.6L920.5 1481.1L921 1482.7L921.5 1482.9L922 1483.4L922.5 1484.6L923 1485L923.5 1485.5L924 1485.3L924.5 1486.4L925 1486.1L925.5 1485.9L926 1486.8L926.5 1488.1L927 1487.4L927.5 1487.2L928 1488.1L928.5 1487.6L929 1488.1L929.5 1488.4L930 1488.9L930.5 1489.2L931 1489.2L931.5 1489.2L932 1489.1L932.5 1489.3L933 1489.8L933.5 1489.7L934 1489.7L934.5 1490.8L935 1490.4L935.5 1490.6L936 1490.4L936.5 1490.5L937 1490.6L937.5 1490.9L938 1490.3L938.5 1490.5L939 1491.6L939.5 1490.8L940 1491.4L940.5 1490.1L941 1491.2L941.5 1491.3L942 1491.1L942.5 1491.3L943 1491.2L943.5 1490.5L944 1491.2L944.5 1490.9L945 1490.8L945.5 1491.9L946 1490.6L946.5 1491.2L947 1491.1L947.5 1492L948 1491.2L948.5 1491.5L949 1492L949.5 1490.6L950 1491.5L950.5 1491.9L951 1491.7L951.5 1491.4L952 1491.3L952.5 1491.6L953 1491.3L953.5 1491.2L954 1492.6L954.5 1492.3L955 1492.5L955.5 1492L956 1491.4L956.5 1491.8L957 1492.7L957.5 1492.3L958 1491.7L958.5 1492.5L959 1492.3L959.5 1492.1L960 1493.2L960.5 1491.9L961 1492.1L961.5 1492L962 1492.8L962.5 1492.7L963 1492.6L963.5 1492.2L964 1492.3L964.5 1492.3L965 1491.5L965.5 1491.8L966 1492.8L966.5 1492.8L967 1491.6L967.5 1492.6L968 1491.8L968.5 1491.7L969 1492.8L969.5 1492.6L970 1492.5L970.5 1493L971 1493L971.5 1492.7L972 1492.1L972.5 1492.8L973 1492.7L973.5 1492.8L974 1493.3L974.5 1491.9L975 1493.8L975.5 1492.9L976 1492.3L976.5 1493.3L977 1492.3L977.5 1492L978 1493.1L978.5 1492.5L979 1493.2L979.5 1492.4L980 1492.6L980.5 1492.6L981 1492L981.5 1492.5L982 1492L982.5 1492.4L983 1493.3L983.5 1492.6L984 1492.5L984.5 1493.4L985 1492.1L985.5 1492.7L986 1492.6L986.5 1493.2L987 1492.7L987.5 1492.6L988 1492.9L988.5 1492.7L989 1493.8L989.5 1492.1L990 1493.3L990.5 1493.9L991 1493.3L991.5 1493.2L992 1492.5L992.5 1493.2L993 1492.6L993.5 1493.3L994 1491.7L994.5 1492.5L995 1491.8L995.5 1493.3L996 1492.4L996.5 1493.3L997 1492.5L997.5 1492.4L998 1493.6L998.5 1493.3L999 1493.3L999.5 1493.5L1000 1493.1L1000.5 1493.2L1001 1493.4L1001.5 1492.6L1002 1492.4L1002.5 1493.3L1003 1492.8L1003.5 1492.5L1004 1492.5L1004.5 1492.6L1005 1491.6L1005.5 1491.1L1006 1490.5L1006.5 1489.9L1007 1487.5L1007.5 1486L1008 1485.7L1008.5 1485L1009 1484.9L1009.5 1487.3L1010 1488.3L1010.5 1489.8L1011 1491.2L1011.5 1491.7L1012 1492.8L1012.5 1492.6L1013 1493.4L1013.5 1491.4L1014 1491.8L1014.5 1492L1015 1492.5L1015.5 1492.2L1016 1492.1L1016.5 1492.3L1017 1492.3L1017.5 1493.3L1018 1492.6L1018.5 1493.1L1019 1493.4L1019.5 1493.4L1020 1492.6L1020.5 1492.3L1021 1493.5L1021.5 1492L1022 1492.1L1022.5 1493.1L1023 1493.1L1023.5 1492.9L1024 1492.4L1024.5 1493L1025 1493.4L1025.5 1492.7L1026 1493.9L1026.5 1492.7L1027 1492.2L1027.5 1492.6L1028 1492.4L1028.5 1492.5L1029 1492.3L1029.5 1492.6L1030 1493L1030.5 1492.7L1031 1492.5L1031.5 1491.7L1032 1491.4L1032.5 1491.7L1033 1491.8L1033.5 1491L1034 1489.5L1034.5 1487L1035 1485.4L1035.5 1483.5L1036 1482.5L1036.2 1481.6L1036.5 1482.2L1037 1483.9L1037.5 1486L1038 1487.3L1038.5 1489.8L1039 1490L1039.5 1491L1040 1492L1040.5 1491.8L1041 1492.5L1041.5 1492.9L1042 1492.7L1042.5 1493.1L1043 1492.5L1043.5 1492.8L1044 1492.5L1044.5 1492.4L1045 1494.4L1045.5 1492.7L1046 1493.8L1046.5 1492.8L1047 1493.3L1047.5 1492.9L1048 1492.2L1048.5 1493.8L1049 1492.8L1049.5 1493L1050 1493.9L1050.5 1492.6L1051 1492.9L1051.5 1493.2L1052 1493.3L1052.5 1491.4L1053 1493.2L1053.5 1493.9L1054 1493.4L1054.5 1493.2L1055 1493.2L1055.5 1493L1056 1493.5L1056.5 1492.7L1057 1493.2L1057.5 1493.7L1058 1493.4L1058.5 1493.2L1059 1492.6L1059.5 1492.8L1060 1493.2L1060.5 1493L1061 1492.9L1061.5 1492L1062 1493.3L1062.5 1492.8L1063 1492.6L1063.5 1493.5L1064 1492.9L1064.5 1492.9L1065 1493.2L1065.5 1492.7L1066 1492.5L1066.5 1492.4L1067 1493.1L1067.5 1492.9L1068 1491.8L1068.5 1493.5L1069 1492.9L1069.5 1492.5L1070 1492.9L1070.5 1492.7L1071 1492.9L1071.5 1492.6L1072 1492.3L1072.5 1493.1L1073 1492.9L1073.5 1493L1074 1493.2L1074.5 1493L1075 1493.5L1075.5 1492.6L1076 1492.1L1076.5 1492.1L1077 1492.3L1077.5 1493.4L1078 1492.2L1078.5 1493.3L1079 1492.9L1079.5 1492L1080 1493.4L1080.5 1492.5L1081 1492.7L1081.5 1493L1082 1493.3L1082.5 1492.7L1083 1493.1L1083.5 1492.3L1084 1492.2L1084.5 1493.5L1085 1493.1L1085.5 1492.9L1086 1493.4L1086.5 1493.3L1087 1492.7L1087.5 1492.8L1088 1493.5L1088.5 1492.9L1089 1492.4L1089.5 1493.2L1090 1493L1090.5 1491.8L1091 1491.9L1091.5 1493.3L1092 1493.1L1092.5 1492.2L1093 1492.9L1093.5 1492.4L1094 1492.4L1094.5 1491.8L1095 1493.2L1095.5 1492.9L1096 1492.3L1096.5 1491L1097 1491.4L1097.5 1491.9L1098 1490.5L1098.5 1490L1099 1490L1099.5 1489.5L1100 1488.3L1100.5 1486.8L1101 1485.7L1101.5 1482.9L1102 1478.2L1102.5 1467.8L1103 1447.2L1103.5 1412.2L1104 1369.9L1104.5 1341.6L1104.6 1340L1105 1354.5L1105.5 1395.1L1106 1435.6L1106.5 1461.1L1107 1477L1107.5 1486L1108 1492.4L1108.5 1496L1109 1498.6L1109.5 1499.1L1110 1497.2L1110.5 1494.2L1111 1492.6L1111.5 1490.7L1112 1492L1112.5 1492.3L1113 1491.6L1113.5 1491.6L1114 1491.7L1114.5 1491.4L1115 1490.8L1115.5 1492.1L1116 1492.3L1116.5 1492.9L1117 1491.9L1117.5 1491.6L1118 1492.1L1118.5 1491.3L1119 1491.8L1119.5 1490.8L1120 1491L1120.5 1490.9L1121 1489.4L1121.5 1488.1L1122 1486.5L1122.5 1484.8L1123 1485.2L1123.5 1486.4L1124 1489L1124.5 1490.4L1125 1491.6L1125.5 1491L1126 1491.5L1126.5 1492.1L1127 1491.5L1127.5 1491.6L1128 1492.7L1128.5 1491.4L1129 1491.6L1129.5 1491.7L1130 1491.5L1130.5 1490.1L1131 1489.9L1131.5 1489.2L1132 1490.1L1132.5 1489L1133 1487.3L1133.5 1487.2L1134 1485.5L1134.5 1484.6L1135 1481.1L1135.5 1479.9L1136 1478.7L1136.5 1477.6L1137 1477.2L1137.3 1477.1L1137.5 1476.7L1138 1477.9L1138.5 1478L1139 1480.4L1139.5 1482.2L1140 1482.7L1140.5 1485L1141 1486.1L1141.5 1487.8L1142 1489.7L1142.5 1489.2L1143 1490.8L1143.5 1490.1L1144 1491.8L1144.5 1492.3L1145 1491.5L1145.5 1491.6L1146 1491.9L1146.5 1492.7L1147 1491.7L1147.5 1492.9L1148 1492.5L1148.5 1492.7L1149 1492.6L1149.5 1492L1150 1492.8L1150.5 1492.2L1151 1492.2L1151.5 1493.4L1152 1493.1L1152.5 1492.8L1153 1492.9L1153.5 1492.5L1154 1493.6L1154.5 1492.3L1155 1492.3L1155.5 1492.7L1156 1493.4L1156.5 1492.7L1157 1493L1157.5 1492.4L1158 1492.7L1158.5 1492.3L1159 1492.9L1159.5 1492L1160 1493.9L1160.5 1493.2L1161 1492.5L1161.5 1493.5L1162 1492.4L1162.5 1493.3L1163 1492.7L1163.5 1493.2L1164 1492.9L1164.5 1492.6L1165 1492.8L1165.5 1492.9L1166 1491.6L1166.5 1492.7L1167 1493.2L1167.5 1492.2L1168 1492.3L1168.5 1492.1L1169 1491.8L1169.5 1493.1L1170 1492.1L1170.5 1492.1L1171 1492.7L1171.5 1492.5L1172 1494.1L1172.5 1492.9L1173 1491.7L1173.5 1493.5L1174 1492.9L1174.5 1492.4L1175 1492.3L1175.5 1491.8L1176 1493.4L1176.5 1492.5L1177 1492.1L1177.5 1493.2L1178 1492.5L1178.5 1491.5L1179 1491.8L1179.5 1492.2L1180 1493.7L1180.5 1492.5L1181 1492.2L1181.5 1492.5L1182 1492.4L1182.5 1490.8L1183 1492.4L1183.5 1492.7L1184 1492.1L1184.5 1492.4L1185 1492.3L1185.5 1492.2L1186 1491.7L1186.5 1491.9L1187 1492.6L1187.5 1492.1L1188 1491.7L1188.5 1492.1L1189 1491.3L1189.5 1491.4L1190 1492.2L1190.5 1491.5L1191 1490.6L1191.5 1490.7L1192 1491.5L1192.5 1490.9L1193 1491.6L1193.5 1491.9L1194 1490.8L1194.5 1490.8L1195 1490.6L1195.5 1490.7L1196 1490.4L1196.5 1490.7L1197 1490L1197.5 1489.6L1198 1489.8L1198.5 1489.2L1199 1490.2L1199.5 1489.4L1200 1488L1200.5 1487.4L1201 1487.8L1201.5 1487.5L1202 1487.5L1202.5 1486L1203 1485.1L1203.5 1485.3L1204 1483.3L1204.5 1482.1L1205 1480.6L1205.5 1479.6L1206 1476.6L1206.5 1474.7L1207 1469.4L1207.5 1464.6L1208 1456.8L1208.5 1441.9L1209 1420L1209.5 1386.5L1210 1335.2L1210.5 1271.7L1211 1197.2L1211.5 1132.1L1212 1106.8L1212.5 1132.1L1213 1197.1L1213.5 1270.7L1214 1336.3L1214.5 1385.4L1215 1421L1215.5 1444.4L1216 1460.6L1216.5 1473.3L1217 1481L1217.5 1487.3L1218 1487.5L1218.5 1484.5L1219 1480.8L1219.5 1477.5L1220 1475.8L1220.5 1475.3L1221 1474.7L1221.5 1474L1222 1473.4L1222.5 1473.7L1223 1474.9L1223.5 1476.7L1224 1475.8L1224.5 1477.7L1225 1479.3L1225.5 1480.2L1226 1481.4L1226.5 1482L1227 1481.8L1227.5 1481.6L1228 1481.5L1228.5 1481.5L1229 1480.6L1229.5 1480L1229.8 1480.7L1230 1480.6L1230.5 1482.4L1231 1482.5L1231.5 1483.6L1232 1485.4L1232.5 1486.9L1233 1486.9L1233.5 1488.4L1234 1488.5L1234.5 1489.6L1235 1489.5L1235.5 1490.4L1236 1491.3L1236.5 1490.8L1237 1491.1L1237.5 1490.8L1238 1491.4L1238.5 1491.5L1239 1491L1239.5 1490.9L1240 1491.2L1240.5 1491.1L1241 1491.5L1241.5 1491.4L1242 1491.4L1242.5 1491.7L1243 1491.9L1243.5 1491.9L1244 1490.8L1244.5 1492L1245 1492.2L1245.5 1492.2L1246 1492.1L1246.5 1492L1247 1492.7L1247.5 1493.1L1248 1492L1248.5 1493L1249 1492.1L1249.5 1492.1L1250 1491.6L1250.5 1491.4L1251 1492L1251.5 1492.5L1252 1492.8L1252.5 1492.6L1253 1492.2L1253.5 1493.2L1254 1492.1L1254.5 1492.1L1255 1491.7L1255.5 1492.1L1256 1491.7L1256.5 1491.8L1257 1491.1L1257.5 1491L1258 1489L1258.5 1487L1259 1486.5L1259.5 1485.8L1259.6 1486.4L1260 1485.5L1260.5 1487.7L1261 1488.1L1261.5 1489.7L1262 1491.1L1262.5 1490.7L1263 1491.6L1263.5 1491.7L1264 1491.7L1264.5 1492L1265 1492.3L1265.5 1491.9L1266 1492.3L1266.5 1492.1L1267 1492.4L1267.5 1492.9L1268 1492.4L1268.5 1492.3L1269 1492L1269.5 1491.4L1270 1492.8L1270.5 1491.9L1271 1493L1271.5 1492.3L1272 1492L1272.5 1492.8L1273 1492.4L1273.5 1491.3L1274 1491.2L1274.5 1491L1275 1491.1L1275.5 1489.3L1276 1489.9L1276.5 1489.5L1277 1487L1277.5 1485.2L1278 1481.4L1278.5 1473.3L1279 1463L1279.5 1449.7L1280 1439.3L1280.3 1437.8L1280.5 1437.8L1281 1447.4L1281.5 1460.9L1282 1472.2L1282.5 1479.3L1283 1484.8L1283.5 1487.2L1284 1488.2L1284.5 1489.3L1285 1490.6L1285.5 1489.8L1286 1489.9L1286.5 1490L1287 1489.7L1287.5 1490.4L1288 1490.1L1288.5 1489.6L1289 1490.4L1289.5 1489.2L1290 1488.7L1290.5 1488.5L1291 1486.6L1291.5 1484.7L1292 1481.7L1292.5 1475.1L1293 1468.7L1293.5 1462.4L1294 1459.8L1294.5 1461.9L1295 1468.6L1295.5 1476L1296 1481L1296.5 1484.7L1297 1487.8L1297.5 1489L1298 1489.8L1298.5 1490.3L1299 1490.1L1299.5 1490L1300 1489.7L1300.5 1490.1L1301 1490.3L1301.5 1490.3L1302 1490.2L1302.5 1491.1L1303 1490.5L1303.5 1490.7L1304 1490.9L1304.5 1491L1305 1491L1305.5 1490.9L1306 1491.3L1306.5 1490.4L1307 1490.6L1307.5 1490.4L1308 1490.2L1308.5 1489.9L1309 1490.5L1309.5 1490.2L1310 1490.8L1310.5 1491L1311 1490.7L1311.5 1488.8L1312 1490.3L1312.5 1489L1313 1488.3L1313.5 1489.1L1314 1487.9L1314.5 1487.5L1315 1487.7L1315.5 1486.7L1316 1487.3L1316.5 1487.7L1317 1486.7L1317.5 1486.8L1318 1486.8L1318.5 1486.3L1319 1484L1319.5 1484.9L1320 1484L1320.5 1483.7L1321 1482.5L1321.5 1481.8L1322 1480.8L1322.5 1480L1323 1478.7L1323.5 1476.5L1324 1473.6L1324.5 1469.5L1325 1465.5L1325.5 1458.7L1326 1450.4L1326.5 1438.9L1327 1425L1327.5 1409.4L1328 1400.8L1328.2 1398.9L1328.5 1400.1L1329 1412L1329.5 1426.7L1330 1441.5L1330.5 1453.2L1331 1461.1L1331.5 1467L1332 1470.3L1332.5 1472.9L1333 1476.4L1333.5 1477.9L1334 1479.1L1334.5 1480.2L1335 1481.5L1335.5 1481.4L1336 1481.8L1336.5 1482.2L1337 1483.2L1337.5 1482.8L1338 1483.7L1338.5 1482.4L1339 1483.3L1339.5 1482.8L1340 1482.7L1340.5 1482.7L1341 1482.8L1341.5 1483.2L1342 1481.6L1342.5 1482.7L1343 1483.1L1343.5 1482.7L1344 1484.4L1344.5 1484.7L1345 1485.7L1345.5 1485.7L1346 1486.6L1346.5 1487.3L1347 1488.1L1347.5 1488.3L1348 1488.2L1348.5 1490.2L1349 1489.5L1349.5 1489.9L1350 1490L1350.5 1491L1351 1489.8L1351.5 1490.7L1352 1490.5L1352.5 1490.8L1353 1491.4L1353.5 1490.9L1354 1491.6L1354.5 1491.2L1355 1490.9L1355.5 1490.8L1356 1490.7L1356.5 1490.8L1357 1489.6L1357.5 1490.4L1358 1491.2L1358.5 1490.8L1359 1490.6L1359.5 1490L1360 1489.7L1360.5 1488.9L1361 1486L1361.5 1484.3L1362 1481L1362.5 1476.7L1363 1472.4L1363.5 1468.8L1363.7 1469L1364 1469.3L1364.5 1474.7L1365 1477.4L1365.5 1481.2L1366 1484.1L1366.5 1487.4L1367 1489.7L1367.5 1489.5L1368 1490.6L1368.5 1491.5L1369 1491.2L1369.5 1490.5L1370 1490.5L1370.5 1490.9L1371 1491.8L1371.5 1490.1L1372 1492L1372.5 1491.5L1373 1492.2L1373.5 1490.8L1374 1491.3L1374.5 1491L1375 1491.4L1375.5 1491.5L1376 1491.4L1376.5 1492.4L1377 1490.9L1377.5 1490.9L1378 1491.5L1378.5 1491.2L1379 1490.9L1379.5 1490.1L1380 1490.5L1380.5 1490.4L1381 1490.3L1381.5 1490.4L1382 1489.4L1382.5 1488.5L1383 1488.1L1383.5 1487.5L1384 1486.7L1384.5 1486.7L1384.6 1486.7L1385 1486.6L1385.5 1487.1L1386 1487.6L1386.5 1487.8L1387 1489.4L1387.5 1488.3L1388 1489.9L1388.5 1489.2L1389 1489.8L1389.5 1489.4L1390 1490L1390.5 1490.5L1391 1489.5L1391.5 1489.9L1392 1489.9L1392.5 1489.8L1393 1489.2L1393.5 1489.2L1394 1489.3L1394.5 1490L1395 1489.3L1395.5 1488.8L1396 1487.7L1396.5 1488.2L1397 1488.1L1397.5 1487.1L1398 1487.4L1398.5 1487L1399 1486.4L1399.5 1486.7L1400 1484.9L1400.5 1484.5L1401 1484.1L1401.5 1483.6L1402 1481.8L1402.5 1479.8L1403 1478.9L1403.5 1476.2L1404 1470.3L1404.5 1461.7L1405 1445.2L1405.5 1419.2L1406 1390.9L1406.5 1376.4L1407 1390.8L1407.5 1418.7L1408 1444.1L1408.5 1461L1409 1470.5L1409.5 1475L1410 1477.7L1410.5 1479.6L1411 1481L1411.5 1484.1L1412 1483.9L1412.5 1484.5L1413 1485.3L1413.5 1487.3L1414 1486.8L1414.5 1487.8L1415 1487.9L1415.5 1486.7L1416 1486L1416.5 1485.3L1417 1484L1417.5 1484.1L1418 1484.2L1418.5 1483.6L1419 1483.2L1419.5 1483.7L1420 1482.7L1420.5 1484.3L1421 1483.4L1421.5 1484.4L1422 1485.9L1422.5 1485.9L1423 1486L1423.5 1487.2L1424 1488.1L1424.5 1487.9L1425 1487.2L1425.5 1489.2L1426 1488.4L1426.5 1488.8L1427 1488.9L1427.5 1489.1L1428 1489.1L1428.5 1488.4L1429 1488.6L1429.5 1489.3L1430 1487.9L1430.5 1489.3L1431 1488.1L1431.5 1488.2L1432 1487.5L1432.5 1487.7L1433 1487.2L1433.5 1487.4L1434 1486.6L1434.5 1486.6L1435 1485.3L1435.5 1486.3L1436 1484.8L1436.5 1484.6L1437 1484.1L1437.5 1483.7L1438 1482.4L1438.5 1482.3L1439 1481L1439.5 1478.4L1440 1477.4L1440.5 1473L1441 1469.2L1441.5 1460.7L1442 1446.3L1442.5 1422.9L1443 1391.1L1443.5 1357.2L1444 1341L1444.5 1356.5L1445 1390.3L1445.5 1422.4L1446 1446.2L1446.5 1460.9L1447 1469.8L1447.5 1473.3L1448 1476.1L1448.5 1478.8L1449 1479.7L1449.5 1480.9L1450 1482.8L1450.5 1483.9L1451 1485.9L1451.5 1488.4L1452 1488.4L1452.5 1488.1L1453 1486.7L1453.5 1486.3L1454 1485.1L1454.5 1484.7L1455 1483.9L1455.5 1483.5L1456 1482.9L1456.5 1483L1457 1483.4L1457.5 1483.7L1458 1484.2L1458.5 1484.8L1459 1484.7L1459.5 1487.4L1460 1487L1460.5 1487.4L1461 1487.5L1461.5 1489.2L1462 1489L1462.5 1489.1L1463 1490.1L1463.5 1491.1L1464 1490.6L1464.5 1491.2L1465 1490.5L1465.5 1491.4L1466 1490.2L1466.5 1491.1L1467 1491.7L1467.5 1491.6L1468 1492L1468.5 1491.3L1469 1490.8L1469.5 1491.8L1470 1491.2L1470.5 1492.2L1471 1491.6L1471.5 1490.7L1472 1492.6L1472.5 1491.3L1473 1491.4L1473.5 1492.9L1474 1492.7L1474.5 1492.5L1475 1491.6L1475.5 1492.3L1476 1492.2L1476.5 1491.8L1477 1492.1L1477.5 1492L1478 1492.3L1478.5 1491.6L1479 1492.6L1479.5 1491.3L1480 1492.4L1480.5 1492.6L1481 1491.8L1481.5 1491.9L1482 1493.1L1482.5 1492L1483 1492.7L1483.5 1492.4L1484 1491.6L1484.5 1492.3L1485 1491.6L1485.5 1491.8L1486 1490.3L1486.5 1490.8L1487 1490.5L1487.5 1489.1L1488 1486.9L1488.5 1483.7L1489 1480.6L1489.5 1477.3L1490 1476.6L1490.5 1477.7L1491 1480.4L1491.5 1483.8L1492 1486.4L1492.5 1488.2L1493 1489.6L1493.5 1491.1L1494 1492.2L1494.5 1492.1L1495 1491.7L1495.5 1493.2L1496 1492.3L1496.5 1491.9L1497 1492.5L1497.5 1492.8L1498 1491.3L1498.5 1491.5L1499 1492.3L1499.5 1491.4L1500 1491.1L1500.5 1491.9L1501 1489.4L1501.5 1490.4L1502 1489.1L1502.5 1488.6L1503 1487.7L1503.5 1488.8L1504 1489L1504.5 1489.4L1505 1490.7L1505.5 1491.6L1506 1491.2L1506.5 1492.7L1507 1491.9L1507.5 1492.7L1508 1492.5L1508.5 1492.6L1509 1492.6L1509.5 1492.7L1510 1493.1L1510.5 1493L1511 1492.5L1511.5 1492.8L1512 1493.4L1512.5 1493.2L1513 1493.2L1513.5 1492.8L1514 1492.7L1514.5 1492.8L1515 1493.2L1515.5 1492.8L1516 1493.5L1516.5 1494.3L1517 1492.9L1517.5 1493.7L1518 1493.4L1518.5 1493.5L1519 1492.6L1519.5 1493.5L1520 1492.8L1520.5 1493.1L1521 1493.5L1521.5 1493.7L1522 1492.7L1522.5 1492.7L1523 1492.5L1523.5 1492L1524 1492.8L1524.5 1492.8L1525 1493L1525.5 1492.9L1526 1493.1L1526.5 1493.4L1527 1491.9L1527.5 1493.9L1528 1492.8L1528.5 1492.7L1529 1492.9L1529.5 1493.4L1530 1493L1530.5 1493.2L1531 1493.5L1531.5 1493L1532 1493.2L1532.5 1493.2L1533 1492.6L1533.5 1493.5L1534 1492.7L1534.5 1493.3L1535 1492.7L1535.5 1492.9L1536 1492.8L1536.5 1493.4L1537 1493.3L1537.5 1493.4L1538 1492.9L1538.5 1492.6L1539 1492.4L1539.5 1493.2L1540 1492.9L1540.5 1493.7L1541 1494L1541.5 1493.4L1542 1493.3L1542.5 1493.7L1543 1493.8L1543.5 1492.7L1544 1493.3L1544.5 1493.8L1545 1491.8L1545.5 1492.8L1546 1493.1L1546.5 1492.6L1547 1493.3L1547.5 1492.1L1548 1493.7L1548.5 1493.5L1549 1493L1549.5 1493.3L1550 1492.2L1550.5 1493.7L1551 1493.2L1551.5 1492.7L1552 1492.6L1552.5 1492.3L1553 1492.7L1553.5 1491.7L1554 1493L1554.5 1492.7L1555 1492.4L1555.5 1492.9L1556 1492.9L1556.5 1493L1557 1493L1557.5 1493.3L1558 1493L1558.5 1493.4L1559 1492.4L1559.5 1493.4L1560 1491.6L1560.5 1491.7L1561 1492L1561.5 1492.6L1562 1492.7L1562.5 1491.8L1563 1492.2L1563.5 1492L1564 1492.6L1564.5 1491.6L1565 1492.4L1565.5 1491.8L1566 1492.5L1566.5 1491.8L1567 1490.9L1567.5 1491L1568 1490.5L1568.5 1489.2L1569 1488.8L1569.5 1487.2L1570 1488L1570.5 1485.2L1571 1483.9L1571.5 1483.6L1572 1482.2L1572.5 1480.1L1573 1480.4L1573.4 1480L1573.5 1479.4L1574 1480.2L1574.5 1480.6L1575 1482.4L1575.5 1483.1L1576 1484L1576.5 1485.6L1577 1488L1577.5 1487.6L1578 1488.8L1578.5 1489.9L1579 1489.3L1579.5 1491.3L1580 1489.8L1580.5 1491.3L1581 1490.3L1581.5 1491.2L1582 1491.9L1582.5 1491.3L1583 1491.2L1583.5 1491L1584 1490.8L1584.5 1491.7L1585 1490.9L1585.5 1490.8L1586 1491.2L1586.5 1491.4L1587 1491.3L1587.5 1490.3L1588 1490.1L1588.5 1490.7L1589 1490.7L1589.5 1489.2L1590 1490.2L1590.5 1488.9L1591 1488.9L1591.5 1488.7L1592 1486.9L1592.5 1486.1L1593 1484.1L1593.5 1482.3L1594 1481.9L1594.5 1479.4L1595 1477.2L1595.5 1475.5L1596 1473L1596.5 1469L1597 1467L1597.5 1464L1598 1461.6L1598.5 1459.4L1599 1458.3L1599.5 1457.1L1600 1457.4L1600.5 1459.6L1601 1462.2L1601.5 1464L1602 1467.6L1602.5 1470.1L1603 1472L1603.5 1474.1L1604 1477.5L1604.5 1480.4L1605 1481.4L1605.5 1484.6L1606 1485.2L1606.5 1485.3L1607 1486.7L1607.5 1488.5L1608 1489.3L1608.5 1488.6L1609 1489.5L1609.5 1490.1L1610 1489.9L1610.5 1490.7L1611 1491.5L1611.5 1490.4L1612 1491.2L1612.5 1491.6L1613 1491.8L1613.5 1491.1L1614 1491.8L1614.5 1491.1L1615 1491.6L1615.5 1491L1616 1491.8L1616.5 1492L1617 1492.7L1617.5 1492.3L1618 1491.4L1618.5 1490.2L1619 1492.4L1619.5 1492.3L1620 1491.6L1620.5 1491.5L1621 1492L1621.5 1491.6L1622 1492.4L1622.5 1491.7L1623 1491L1623.5 1490.6L1624 1491.3L1624.5 1491.3L1625 1490.7L1625.5 1490.2L1626 1490.2L1626.5 1490.5L1627 1489.5L1627.5 1488.6L1628 1488.6L1628.5 1487.7L1629 1484.6L1629.5 1480.9L1630 1474L1630.5 1464.1L1631 1450L1631.5 1432.9L1632 1418.8L1632.4 1414.3L1632.5 1414.4L1633 1423.4L1633.5 1438.8L1634 1456.1L1634.5 1468.3L1635 1477.2L1635.5 1481.3L1636 1484.6L1636.5 1486.4L1637 1486.3L1637.5 1486.5L1638 1485.9L1638.5 1483L1639 1480.1L1639.5 1474.7L1640 1469L1640.5 1463.2L1641 1459.6L1641.2 1459.9L1641.5 1460L1642 1465L1642.5 1471.2L1643 1477.7L1643.5 1482.9L1644 1486.5L1644.5 1487.8L1645 1488.8L1645.5 1490.4L1646 1490.6L1646.5 1490.4L1647 1491.8L1647.5 1491.8L1648 1492.3L1648.5 1491.3L1649 1491.9L1649.5 1492.3L1650 1493L1650.5 1492.4L1651 1491.8L1651.5 1492.5L1652 1492.6L1652.5 1492.2L1653 1493.1L1653.5 1492.5L1654 1492.3L1654.5 1493L1655 1493L1655.5 1492.5L1656 1492.7L1656.5 1492.8L1657 1492.6L1657.5 1492.6L1658 1493.2L1658.5 1493.1L1659 1492.5L1659.5 1492.2L1660 1492.1L1660.5 1493.2L1661 1492.2L1661.5 1492.4L1662 1492.8L1662.5 1492.5L1663 1492.4L1663.5 1491.9L1664 1493.3L1664.5 1492.5L1665 1492.8L1665.5 1492.9L1666 1492.2L1666.5 1492.3L1667 1493.3L1667.5 1492.9L1668 1492.6L1668.5 1493.4L1669 1492.3L1669.5 1492.7L1670 1492.6L1670.5 1492.5L1671 1491.7L1671.5 1492.6L1672 1492.7L1672.5 1491.7L1673 1492.7L1673.5 1492.7L1674 1493.1L1674.5 1491.8L1675 1492.2L1675.5 1492L1676 1492L1676.5 1492.1L1677 1492.3L1677.5 1492.1L1678 1491.3L1678.5 1491.2L1679 1490L1679.5 1490.7L1680 1489.9L1680.5 1489.4L1681 1487.2L1681.5 1487.2L1682 1484.8L1682.5 1482.8L1683 1481.7L1683.5 1479.4L1684 1479L1684.5 1476.5L1685 1475.9L1685.5 1474.5L1685.6 1474.6L1686 1475.2L1686.5 1475.3L1687 1477L1687.5 1479.2L1688 1481.1L1688.5 1483.5L1689 1484.6L1689.5 1485L1690 1487.7L1690.5 1488.3L1691 1489.6L1691.5 1489.7L1692 1490.4L1692.5 1491.1L1693 1492.2L1693.5 1491.8L1694 1491.2L1694.5 1492L1695 1491.7L1695.5 1492.3L1696 1493.1L1696.5 1492L1697 1492.1L1697.5 1492.6L1698 1492.5L1698.5 1492.2L1699 1492.7L1699.5 1492.2L1700 1492.5L1700.5 1493.6L1701 1492.5L1701.5 1492.7L1702 1492.8L1702.5 1492.1L1703 1492.5L1703.5 1492L1704 1491.6L1704.5 1492L1705 1492.7L1705.5 1492.1L1706 1491.1L1706.5 1491.3L1707 1491.1L1707.5 1490.1L1708 1489L1708.5 1488.1L1709 1486.6L1709.5 1485.9L1710 1484L1710.5 1482.3L1711 1480.6L1711.5 1480.3L1712 1478.8L1712.2 1479.2L1712.5 1478L1713 1478.8L1713.5 1480.1L1714 1482.1L1714.5 1484.5L1715 1485.4L1715.5 1487.4L1716 1488.2L1716.5 1490L1717 1490.6L1717.5 1490.7L1718 1490.5L1718.5 1491.7L1719 1490.8L1719.5 1490.8L1720 1492.9L1720.5 1492.4L1721 1492.9L1721.5 1492.6L1722 1492.9L1722.5 1492.7L1723 1492.2L1723.5 1492.3L1724 1492.6L1724.5 1492.8L1725 1492.8L1725.5 1492.8L1726 1492.6L1726.5 1492.9L1727 1492.7L1727.5 1493.6L1728 1492.6L1728.5 1492.1L1729 1492.9L1729.5 1493.7L1730 1492.3L1730.5 1493.2L1731 1494.5L1731.5 1493.1L1732 1492.7L1732.5 1492.9L1733 1492.4L1733.5 1492.8L1734 1493L1734.5 1494.1L1735 1493.6L1735.5 1493L1736 1492.8L1736.5 1493.6L1737 1493.4L1737.5 1492.9L1738 1494.1L1738.5 1494.1L1739 1493.2L1739.5 1493L1740 1493.4L1740.5 1494.3L1741 1493.1L1741.5 1493.8L1742 1492.8L1742.5 1493.2L1743 1493L1743.5 1492.8L1744 1493.4L1744.5 1492.7L1745 1492.5L1745.5 1493L1746 1492.5L1746.5 1493.5L1747 1492.7L1747.5 1493L1748 1493.7L1748.5 1493.2L1749 1493.4L1749.5 1493.4L1750 1493.1L1750.5 1492.6L1751 1493.3L1751.5 1493.1L1752 1493.9L1752.5 1493.1L1753 1492.6L1753.5 1492.8L1754 1492.9L1754.5 1493.4L1755 1493.7L1755.5 1493.2L1756 1493.8L1756.5 1493.8L1757 1492.7L1757.5 1493.6L1758 1492.3L1758.5 1493.9L1759 1493L1759.5 1493.8L1760 1493.1L1760.5 1493.7L1761 1493.2L1761.5 1493.3L1762 1493.4L1762.5 1492.9L1763 1492.4L1763.5 1493.5L1764 1492.8L1764.5 1493.1L1765 1493.2L1765.5 1492.1L1766 1494.3L1766.5 1493.5L1767 1494.1L1767.5 1493.3L1768 1493.3L1768.5 1491.3L1769 1493L1769.5 1492.3L1770 1492.5L1770.5 1493.4L1771 1492.9L1771.5 1492.4L1772 1493.1L1772.5 1493.1L1773 1492.9L1773.5 1493.9L1774 1493.6L1774.5 1493L1775 1492.9L1775.5 1493.6L1776 1493.3L1776.5 1493.2L1777 1493.2L1777.5 1492.8L1778 1493.1L1778.5 1493.1L1779 1493.9L1779.5 1493.7L1780 1493L1780.5 1493.9L1781 1493L1781.5 1493.4L1782 1493.5L1782.5 1492.8L1783 1493.4L1783.5 1493.5L1784 1493.4L1784.5 1493L1785 1491.7L1785.5 1494L1786 1493L1786.5 1493.1L1787 1492.4L1787.5 1493L1788 1494L1788.5 1492L1789 1493.1L1789.5 1492.4L1790 1492.7L1790.5 1491.9L1791 1490.7L1791.5 1488.6L1792 1486.7L1792.5 1485.2L1793 1482.8L1793.5 1482.4L1794 1483L1794.5 1484.9L1795 1486.8L1795.5 1489.3L1796 1490.5L1796.5 1491.3L1797 1491.9L1797.5 1492.7L1798 1491.7L1798.5 1492.9L1799 1492.4L1799.5 1492.7L1800 1492.3L1800.5 1494L1801 1491.9L1801.5 1493.1L1802 1493.6L1802.5 1493L1803 1491.9L1803.5 1492.8L1804 1493.7L1804.5 1493.3L1805 1492.4L1805.5 1493.8L1806 1493.2L1806.5 1493.3L1807 1492L1807.5 1493.3L1808 1492.5L1808.5 1493.5L1809 1493.5L1809.5 1492.6L1810 1492.8L1810.5 1494L1811 1492.8L1811.5 1492.8L1812 1493.4L1812.5 1493L1813 1493L1813.5 1493.4L1814 1493.4L1814.5 1493.5L1815 1493.3L1815.5 1493.8L1816 1493.1L1816.5 1493.9L1817 1493.1L1817.5 1493.2L1818 1493.6L1818.5 1492.7L1819 1492.1L1819.5 1492.4L1820 1493.8L1820.5 1492.4L1821 1493L1821.5 1493.1L1822 1493.3L1822.5 1493L1823 1492.3L1823.5 1492.7L1824 1493.2L1824.5 1493.3L1825 1493.2L1825.5 1492.6L1826 1492L1826.5 1493.4L1827 1492.9L1827.5 1493L1828 1493.2L1828.5 1492.5L1829 1492.4L1829.5 1493.3L1830 1493L1830.5 1491.8L1831 1492.1L1831.5 1491.8L1832 1492.1L1832.5 1491.7L1833 1490.8L1833.5 1490.8L1834 1490.4L1834.5 1489.1L1835 1487.7L1835.5 1487.6L1836 1485.5L1836.5 1484.5L1837 1484.3L1837.5 1483L1838 1482.4L1838.4 1481.9L1838.5 1481.9L1839 1483.2L1839.5 1483.9L1840 1483.7L1840.5 1485.3L1841 1486.3L1841.5 1487.4L1842 1487.8L1842.5 1490L1843 1489.6L1843.5 1491.2L1844 1490.9L1844.5 1491L1845 1492.6L1845.5 1492L1846 1492.5L1846.5 1492.6L1847 1492.5L1847.5 1493.2L1848 1493.2L1848.5 1492.4L1849 1492.4L1849.5 1493.1L1850 1493.6L1850.5 1491.8L1851 1492.4L1851.5 1492.8L1852 1493.5L1852.5 1493.3L1853 1492.9L1853.5 1493.5L1854 1492.2L1854.5 1493L1855 1492.9L1855.5 1493.6L1856 1493.5L1856.5 1493.5L1857 1493L1857.5 1493.2L1858 1493.3L1858.5 1493L1859 1493L1859.5 1492.4L1860 1493.2L1860.5 1493.6L1861 1493.2L1861.5 1492.4L1862 1493.4L1862.5 1493.1L1863 1493.3L1863.5 1493L1864 1493L1864.5 1493.6L1865 1493.3L1865.5 1492.7L1866 1492.6L1866.5 1492.7L1867 1492.8L1867.5 1493.3L1868 1493.4L1868.5 1492.7L1869 1493.8L1869.5 1493.2L1870 1494.1L1870.5 1493.4L1871 1493.5L1871.5 1493.8L1872 1492.9L1872.5 1493.5L1873 1493.4L1873.5 1493.3L1874 1493.5L1874.5 1492.5L1875 1493.4L1875.5 1493.1L1876 1493.8L1876.5 1493.4L1877 1493.3L1877.5 1493.3L1878 1493.4L1878.5 1493.1L1879 1492.4L1879.5 1493.2L1880 1493.2L1880.5 1493.3L1881 1491.9L1881.5 1492.3L1882 1492.8L1882.5 1492.7L1883 1493.4L1883.5 1493.1L1884 1492.9L1884.5 1492.9L1885 1493.4L1885.5 1493.3L1886 1492.7L1886.5 1492.7L1887 1493.9L1887.5 1492.7L1888 1492.1L1888.5 1492.9L1889 1492.4L1889.5 1493.1L1890 1491.8L1890.5 1492.6L1891 1492.3L1891.5 1491.4L1892 1489.2L1892.5 1489.2L1893 1487L1893.5 1482.2L1894 1477L1894.5 1470.4L1895 1467.3L1895.3 1466.6L1895.5 1466.3L1896 1469.9L1896.5 1475.8L1897 1480.9L1897.5 1486.4L1898 1488.9L1898.5 1490.2L1899 1490.7L1899.5 1491.4L1900 1492.2L1900.5 1492.7L1901 1491.9L1901.5 1492L1902 1491.3L1902.5 1492.8L1903 1492L1903.5 1493.4L1904 1493.1L1904.5 1493.2L1905 1493.2L1905.5 1493.4L1906 1493.3L1906.5 1493.1L1907 1493.3L1907.5 1492.7L1908 1493.1L1908.5 1493.1L1909 1492.4L1909.5 1493L1910 1493.1L1910.5 1493.2L1911 1493.1L1911.5 1492.9L1912 1493.6L1912.5 1492.6L1913 1492.4L1913.5 1492.6L1914 1493.4L1914.5 1494L1915 1493.4L1915.5 1493.1L1916 1492.8L1916.5 1493.3L1917 1493.4L1917.5 1492.5L1918 1493.5" fill="none" stroke="#000" stroke-width="12.6" stroke-linejoin="round" stroke-linecap="butt"/>
</g>
<g class="b">
<text transform="translate(224.34,244.05) scale(0.8917,0.9455)" >C</text>
<text transform="translate(1351.77,507.80) scale(0.6642,0.7110)">Ni-Al-L-800</text>
<text transform="translate(1325.87,1279.60) scale(0.6650,0.7110)">Ni-Al-L-600</text>
<text transform="translate(148.97,1620.07) scale(0.6707,0.7132)" >10</text>
<text transform="translate(365.72,1620.05) scale(0.6707,0.7239)" >20</text>
<text transform="translate(582.47,1620.05) scale(0.6707,0.7239)" >30</text>
<text transform="translate(799.22,1620.05) scale(0.6707,0.7239)" >40</text>
<text transform="translate(1015.97,1620.05) scale(0.6707,0.7239)" >50</text>
<text transform="translate(1232.72,1620.05) scale(0.6707,0.7239)" >60</text>
<text transform="translate(1449.47,1620.05) scale(0.6707,0.7239)" >70</text>
<text transform="translate(1666.22,1620.05) scale(0.6707,0.7239)" >80</text>
<text transform="translate(1882.97,1620.05) scale(0.6707,0.7239)" >90</text>
<text transform="translate(796.61,1798.70) scale(0.7715,0.8000)">2θ(°)</text>
<text transform="translate(125.80,1141.40) rotate(-90) scale(0.8014,0.7770)">Intensity (counts)</text>
</g>
<rect x="148" y="2174" width="10" height="1492" fill="#000"/>
<rect x="1939" y="2174" width="10" height="1492" fill="#000"/>
<rect x="148" y="2174" width="1801" height="12" fill="#000"/>
<rect x="148" y="3629" width="1801" height="13" fill="#000"/>
<rect x="371.9" y="3640" width="10" height="26" fill="#000"/>
<rect x="595.8" y="3640" width="10" height="26" fill="#000"/>
<rect x="819.7" y="3640" width="10" height="26" fill="#000"/>
<rect x="1043.6" y="3640" width="10" height="26" fill="#000"/>
<rect x="1267.5" y="3640" width="10" height="26" fill="#000"/>
<rect x="1491.4" y="3640" width="10" height="26" fill="#000"/>
<rect x="1715.3" y="3640" width="10" height="26" fill="#000"/>
<rect x="259.9" y="3640" width="10" height="11" fill="#000"/>
<rect x="483.9" y="3640" width="10" height="11" fill="#000"/>
<rect x="707.8" y="3640" width="10" height="11" fill="#000"/>
<rect x="931.6" y="3640" width="10" height="11" fill="#000"/>
<rect x="1155.6" y="3640" width="10" height="11" fill="#000"/>
<rect x="1379.5" y="3640" width="10" height="11" fill="#000"/>
<rect x="1603.4" y="3640" width="10" height="11" fill="#000"/>
<rect x="1827.2" y="3640" width="10" height="11" fill="#000"/>
<clipPath id="cb"><rect x="153" y="2186" width="1792" height="1443"/></clipPath>
<g clip-path="url(#cb)"><g transform="scale(0.8,1)">
<path d="M191.2 2907.9L192.2 2953.9L193.2 2924.1L194.2 2934L195.2 2932.8L196.1 2930.5L197.1 2948.5L198.1 2930.6L199.1 2937L200.1 2895.1L201 2926L202 2931.8L203 2931.1L204 2935L205 2938.8L205.9 2932.2L206.9 2923.5L207.9 2930.7L208.9 2918.7L209.9 2930.3L210.8 2928L211.8 2912.8L212.8 2922.8L213.8 2933.3L214.8 2930.1L215.7 2922.9L216.7 2908.9L217.7 2931L218.7 2930.7L219.7 2918.3L220.6 2937.1L221.6 2931.2L222.6 2919.5L223.6 2922.5L224.6 2927.4L225.5 2921.6L226.5 2956.5L227.5 2918.1L228.5 2937.9L229.5 2944.9L230.4 2925.5L231.4 2921.3L232.4 2932.7L233.4 2939L234.4 2928L235.3 2928.8L236.3 2914.2L237.3 2920.8L238.3 2926.3L239.2 2917.1L240.2 2930.3L241.2 2937.5L242.2 2922.4L243.2 2922.4L244.1 2930.4L245.1 2936.1L246.1 2926L247.1 2953.2L248.1 2921.4L249 2923.3L250 2944.6L251 2927.6L252 2937.9L253 2920.7L253.9 2948.5L254.9 2919.1L255.9 2921.1L256.9 2916.7L257.9 2949.8L258.8 2933.2L259.8 2925L260.8 2934.3L261.8 2912.3L262.8 2940.1L263.7 2924.7L264.7 2938.7L265.7 2914.2L266.7 2928.4L267.7 2931.9L268.6 2945.3L269.6 2911.4L270.6 2920.7L271.6 2920.7L272.6 2916.9L273.5 2924.7L274.5 2934.6L275.5 2936.2L276.5 2936.2L277.5 2914.5L278.4 2942.7L279.4 2934.1L280.4 2931.4L281.4 2925.9L282.3 2922.4L283.3 2940.6L284.3 2945.4L285.3 2928.2L286.3 2916.1L287.2 2920.6L288.2 2926L289.2 2931.3L290.2 2925.2L291.2 2930.6L292.1 2920L293.1 2936.1L294.1 2926.8L295.1 2929.3L296.1 2922.7L297 2925.9L298 2902.8L299 2913.2L300 2913.2L301 2948.4L301.9 2931.5L302.9 2934.2L303.9 2922.8L304.9 2950.8L305.9 2916.4L306.8 2917.5L307.8 2941.1L308.8 2937.8L309.8 2936.1L310.8 2927.7L311.7 2921.7L312.7 2907.7L313.7 2930.1L314.7 2920.5L315.7 2926.5L316.6 2910.6L317.6 2920.7L318.6 2914.5L319.6 2938.8L320.6 2930L321.5 2936.1L322.5 2913.1L323.5 2921.5L324.5 2931.1L325.5 2932.5L326.4 2923.2L327.4 2935L328.4 2950.2L329.4 2923.2L330.3 2903.6L331.3 2930.4L332.3 2933.5L333.3 2939.6L334.3 2941.2L335.2 2922.8L336.2 2919.6L337.2 2927.9L338.2 2924.7L339.2 2926.8L340.1 2926.6L341.1 2943.1L342.1 2932.5L343.1 2926.8L344.1 2935.7L345 2932.6L346 2936L347 2931.2L348 2919.5L349 2931.9L349.9 2929.4L350.9 2919.8L351.9 2921.5L352.9 2911.1L353.9 2948.5L354.8 2919.4L355.8 2932.6L356.8 2926.5L357.8 2919.5L358.8 2917.1L359.7 2917.5L360.7 2926.2L361.7 2911.9L362.7 2930.5L363.7 2929.1L364.6 2919.8L365.6 2933.1L366.6 2906.3L367.6 2917.6L368.6 2906.2L369.5 2927.9L370.5 2931.3L371.5 2925.9L372.5 2920.3L373.4 2933.3L374.4 2923.7L375.4 2927.6L376.4 2911.4L377.4 2933.8L378.3 2916.9L379.3 2933.5L380.3 2936.6L381.3 2934L382.3 2938.7L383.2 2925.4L384.2 2916.6L385.2 2925.1L386.2 2920.4L387.2 2910.4L388.1 2923.6L389.1 2924.2L390.1 2928.7L391.1 2941.6L392.1 2918.1L393 2942.7L394 2918.7L395 2908.3L396 2913.5L397 2924.9L397.9 2932.1L398.9 2920.1L399.9 2928.7L400.9 2924.6L401.9 2921.9L402.8 2923.2L403.8 2923.2L404.8 2929L405.8 2922L406.8 2940.7L407.7 2920.4L408.7 2930L409.7 2906.3L410.7 2904L411.7 2935.1L412.6 2913.4L413.6 2915.2L414.6 2923.3L415.6 2906.6L416.5 2915.4L417.5 2927.3L418.5 2911.1L419.5 2908.7L420.5 2904.9L421.4 2917L422.4 2897.1L423.4 2894.5L424.4 2912L425.4 2905.6L426.3 2898.3L427.3 2901.7L428.3 2876.7L429.3 2890.7L430.3 2901.5L431.2 2897.6L432.2 2888.6L433.2 2862.9L434.2 2886.6L435.2 2881.8L436.1 2876.2L437.1 2880.4L438.1 2854.9L439.1 2882.4L440.1 2867.7L441 2872.3L442 2866.2L443 2883.5L444 2851.7L445 2870.2L445.9 2867.4L446.9 2876.5L447.9 2873.5L448.9 2859.1L449.9 2854L450.8 2855.8L451.8 2850.5L452.8 2855.3L453.8 2862.2L454.8 2853.6L455.7 2828L456.7 2863.3L457.7 2854.9L458.7 2849.3L459.7 2860.7L460.6 2867.4L461.6 2856.8L462.6 2845.2L463.6 2868L464.5 2867.7L465.5 2869.2L466.5 2856.2L467.5 2889L468.5 2867.5L469.4 2860.3L470.4 2882.3L471.4 2860.1L472.4 2871.4L473.4 2884L474.3 2877.8L475.3 2897.1L476.3 2888.8L477.3 2866.2L478.3 2895.3L479.2 2869.3L480.2 2890.4L481.2 2881.1L482.2 2892.3L483.2 2916.8L484.1 2901.6L485.1 2895.5L486.1 2910.4L487.1 2913.8L488.1 2898.2L489 2909.6L490 2921.3L491 2912.6L492 2898.7L493 2913L493.9 2900.4L494.9 2895.7L495.9 2911.5L496.9 2923.8L497.9 2926.5L498.8 2915L499.8 2907.1L500.8 2913.9L501.8 2912L502.8 2922.4L503.7 2915.9L504.7 2924L505.7 2923.2L506.7 2933.1L507.6 2936.4L508.6 2926.4L509.6 2932.9L510.6 2931.9L511.6 2916.6L512.5 2924.5L513.5 2895.9L514.5 2915.3L515.5 2930.5L516.5 2917.3L517.4 2921.6L518.4 2931.8L519.4 2914.9L520.4 2933L521.4 2955L522.3 2918.4L523.3 2932L524.3 2912.1L525.3 2932.6L526.3 2937.8L527.2 2911.9L528.2 2937L529.2 2924.9L530.2 2913.1L531.2 2925.9L532.1 2927.8L533.1 2926.1L534.1 2919.2L535.1 2934.8L536.1 2941.2L537 2921.8L538 2905.2L539 2930.5L540 2936L541 2920.4L541.9 2931.2L542.9 2924.7L543.9 2926.2L544.9 2916.4L545.9 2933.7L546.8 2928.4L547.8 2951.6L548.8 2935.9L549.8 2913L550.7 2934L551.7 2934.2L552.7 2939.1L553.7 2922.1L554.7 2925.9L555.6 2938.8L556.6 2921.3L557.6 2925.2L558.6 2920.5L559.6 2933.7L560.5 2911.3L561.5 2923.8L562.5 2928.7L563.5 2932.5L564.5 2930L565.4 2919.6L566.4 2930.2L567.4 2917.5L568.4 2922.2L569.4 2915L570.3 2920L571.3 2928.3L572.3 2945.6L573.3 2924.9L574.3 2920.3L575.2 2926.2L576.2 2922.5L577.2 2932.1L578.2 2931.3L579.2 2936.5L580.1 2915L581.1 2926.2L582.1 2932.3L583.1 2940.2L584.1 2929.1L585 2914.2L586 2923.4L587 2934.5L588 2914.4L589 2914.4L589.9 2918.6L590.9 2920.4L591.9 2917L592.9 2922.7L593.9 2920.5L594.8 2935L595.8 2913.8L596.8 2925.6L597.8 2908.9L598.7 2946.7L599.7 2921.2L600.7 2918.6L601.7 2930.9L602.7 2923.5L603.6 2920.8L604.6 2922.4L605.6 2932.7L606.6 2929L607.6 2918.3L608.5 2915.9L609.5 2926.8L610.5 2927L611.5 2925.9L612.5 2918.1L613.4 2937.5L614.4 2940L615.4 2926.6L616.4 2937.9L617.4 2933.1L618.3 2926.9L619.3 2923.2L620.3 2937.6L621.3 2920.3L622.3 2944L623.2 2935.4L624.2 2942.2L625.2 2939.4L626.2 2921.8L627.2 2931.4L628.1 2935L629.1 2931.8L630.1 2923.4L631.1 2928.2L632.1 2927.9L633 2918L634 2934.2L635 2932L636 2932.4L637 2916.9L637.9 2918.6L638.9 2915.8L639.9 2927.9L640.9 2929.1L641.8 2919.8L642.8 2931.2L643.8 2920L644.8 2921L645.8 2934L646.7 2928.4L647.7 2928.7L648.7 2911.8L649.7 2904L650.7 2928.5L651.6 2927.4L652.6 2948.4L653.6 2925.6L654.6 2927.6L655.6 2937.3L656.5 2920.4L657.5 2941.8L658.5 2929.5L659.5 2926.3L660.5 2938.9L661.4 2919.7L662.4 2917.9L663.4 2940.1L664.4 2940.3L665.4 2906.5L666.3 2927.7L667.3 2938.4L668.3 2930.1L669.3 2928.4L670.3 2928.7L671.2 2919.9L672.2 2923.9L673.2 2911.4L674.2 2915L675.2 2921.3L676.1 2917.6L677.1 2915.4L678.1 2921L679.1 2938.4L680.1 2919.6L681 2926.7L682 2912.7L683 2926.4L684 2922.5L684.9 2924.3L685.9 2912.1L686.9 2925.6L687.9 2929.6L688.9 2924.4L689.8 2931.1L690.8 2925.7L691.8 2927.2L692.8 2924.6L693.8 2909.8L694.7 2930.7L695.7 2926.6L696.7 2928.7L697.7 2920.9L698.7 2937.4L699.6 2933L700.6 2927.1L701.6 2921.8L702.6 2927.1L703.6 2931.1L704.5 2934.3L705.5 2921.9L706.5 2913.5L707.5 2923.4L708.5 2924.5L709.4 2922.2L710.4 2934.4L711.4 2928.7L712.4 2928.2L713.4 2923L714.3 2925.8L715.3 2936.2L716.3 2915.2L717.3 2910L718.3 2927.2L719.2 2921.1L720.2 2922.1L721.2 2917.3L722.2 2937.2L723.2 2909.4L724.1 2927.6L725.1 2911.9L726.1 2922.1L727.1 2926L728.1 2923.4L729 2913.8L730 2929.1L731 2924.3L732 2924.8L732.9 2935.3L733.9 2908L734.9 2902.2L735.9 2918.7L736.9 2907.6L737.8 2925.8L738.8 2917.3L739.8 2900.6L740.8 2906.6L741.8 2934.5L742.7 2943.6L743.7 2922.3L744.7 2902.7L745.7 2915.6L746.7 2912.4L747.6 2904.1L748.6 2916.6L749.6 2905.8L750.6 2899.5L751.6 2901.4L752.5 2901L753.5 2908.9L754.5 2897.7L755.5 2905.1L756.5 2888.3L757.4 2875.7L758.4 2904.4L759.4 2916.1L760.4 2899.1L761.4 2890.6L762.3 2883.2L763.3 2881.7L764.3 2897.3L765.3 2896.1L766.3 2876.1L767.2 2896.3L768.2 2875.1L769.2 2885.9L770.2 2875.6L771.2 2874.9L772.1 2873L773.1 2871.4L774.1 2886.9L775.1 2873.9L776 2875.5L777 2871.7L778 2862.1L779 2875L780 2878.2L780.9 2877.4L781.9 2872.8L782.9 2862.2L783.9 2853.9L784.9 2857L785.8 2864.5L786.8 2868.8L787.8 2878.5L788.8 2863.6L789.8 2859.2L790.7 2881.7L791.7 2854.2L792.7 2849.9L793.7 2862L794.7 2860.6L795.6 2843.1L796.6 2854.2L797.6 2874.1L798.6 2866.4L799.6 2868.1L800.5 2868.6L801.5 2889.5L802.5 2861.5L803.5 2861L804.5 2868.4L805.4 2872L806.4 2863.7L807.4 2875.2L808.4 2880.7L809.4 2869.7L810.3 2862.8L811.3 2879.5L812.3 2865.4L813.3 2876.5L814.3 2884.8L815.2 2867.5L816.2 2889.8L817.2 2874.6L818.2 2889.3L819.1 2882.1L820.1 2898.4L821.1 2896.1L822.1 2880.4L823.1 2889.4L824 2892L825 2897.4L826 2890.8L827 2908.2L828 2906.9L828.9 2899.7L829.9 2906.7L830.9 2906.6L831.9 2902.2L832.9 2903.9L833.8 2905.6L834.8 2890.3L835.8 2897L836.8 2896L837.8 2907.8L838.7 2912.8L839.7 2921.8L840.7 2913.1L841.7 2928.8L842.7 2916.7L843.6 2905.9L844.6 2899.3L845.6 2905.5L846.6 2921.7L847.6 2910.8L848.5 2922.3L849.5 2909.1L850.5 2917.6L851.5 2909.8L852.5 2895.7L853.4 2910.1L854.4 2898.6L855.4 2917.2L856.4 2921.8L857.4 2908L858.3 2905L859.3 2924.4L860.3 2919.3L861.3 2932.2L862.3 2922L863.2 2912.9L864.2 2921.2L865.2 2925.3L866.2 2932.3L867.1 2917.4L868.1 2913.8L869.1 2915.4L870.1 2918.1L871.1 2930.7L872 2905.1L873 2920L874 2920.5L875 2912.8L876 2936.5L876.9 2918.5L877.9 2918.5L878.9 2913.6L879.9 2904.8L880.9 2911.3L881.8 2929.7L882.8 2916.2L883.8 2910.5L884.8 2909.8L885.8 2920.5L886.7 2922.2L887.7 2902L888.7 2901.9L889.7 2903.1L890.7 2915.4L891.6 2883.4L892.6 2920.6L893.6 2896.3L894.6 2872.4L895.6 2888.5L896.5 2881.7L897.5 2890.2L898.5 2864.3L899.5 2883.1L900.5 2865L901.4 2861.2L902.4 2866.5L903.4 2843.8L904.4 2858.5L905.4 2845.8L906.3 2833.3L907.3 2829.9L908.3 2814.5L909.3 2802.6L910.2 2805.8L911.2 2799.7L912.2 2790.7L913.2 2780L914.2 2759.1L915.1 2759.1L916.1 2742.6L917.1 2736.8L918.1 2733.4L919.1 2704.7L920 2712.5L921 2689.8L922 2662L923 2676.8L924 2653.1L924.9 2656.8L925.9 2632.2L926.9 2630.1L927.9 2604.3L928.9 2593.1L929.8 2572.2L930.8 2542.2L931.8 2544.1L932.8 2526.7L933.8 2522.3L934.7 2512L935.7 2506.9L936.7 2506.9L937.7 2472.3L938.7 2441.6L939.6 2445.3L940.6 2447.8L941.6 2410.3L942.6 2427.9L943.6 2422L944.5 2422L945.5 2411.8L946.5 2396.2L947.5 2361.2L948.5 2385.6L949.4 2392.7L950.4 2384.1L951.4 2377L952.4 2395.5L953.3 2370.7L954.3 2363.6L955.3 2370L956.3 2368.6L957.3 2396.5L958.2 2405.7L959.2 2371.3L960.2 2379.3L961.2 2419.6L962.2 2403.9L963.1 2413.7L964.1 2415.2L965.1 2428.2L966.1 2446.3L967.1 2447.3L968 2457.9L969 2471L970 2503.7L971 2528.4L972 2513.2L972.9 2509.9L973.9 2524.2L974.9 2530.8L975.9 2548L976.9 2567.1L977.8 2574.1L978.8 2573.8L979.8 2606.6L980.8 2600.3L981.8 2614.2L982.7 2630.4L983.7 2629.1L984.7 2662.8L985.7 2656.3L986.7 2685.9L987.6 2694.4L988.6 2707.1L989.6 2701.6L990.6 2724.5L991.6 2723.7L992.5 2743.8L993.5 2730.9L994.5 2731.6L995.5 2754.5L996.5 2748.6L997.4 2765.8L998.4 2757.7L999.4 2783.1L1000.4 2804.3L1001.3 2782.5L1002.3 2802.5L1003.3 2815.9L1004.3 2817.5L1005.3 2830.7L1006.2 2822.4L1007.2 2834.6L1008.2 2816.4L1009.2 2827.5L1010.2 2851.2L1011.1 2853.3L1012.1 2848.6L1013.1 2863.3L1014.1 2850.9L1015.1 2853.3L1016 2862.2L1017 2862.9L1018 2856.8L1019 2851.5L1020 2853.3L1020.9 2867.7L1021.9 2863.1L1022.9 2878.3L1023.9 2870.9L1024.9 2884L1025.8 2872.1L1026.8 2889.9L1027.8 2889.5L1028.8 2883.4L1029.8 2880.5L1030.7 2898.2L1031.7 2892.5L1032.7 2888.6L1033.7 2889.3L1034.7 2899.2L1035.6 2893.2L1036.6 2897.4L1037.6 2885.4L1038.6 2893.4L1039.6 2909.5L1040.5 2917.6L1041.5 2900.6L1042.5 2893.2L1043.5 2902.2L1044.4 2897.7L1045.4 2909.4L1046.4 2917.2L1047.4 2901.7L1048.4 2907.7L1049.3 2904L1050.3 2920.8L1051.3 2909.5L1052.3 2916.5L1053.3 2906.2L1054.2 2917.6L1055.2 2918.5L1056.2 2919L1057.2 2905.4L1058.2 2915.4L1059.1 2922L1060.1 2924.5L1061.1 2925.2L1062.1 2906.5L1063.1 2932L1064 2925L1065 2914.1L1066 2910.4L1067 2920.8L1068 2914L1068.9 2914.5L1069.9 2913.1L1070.9 2920.5L1071.9 2908.6L1072.9 2919.7L1073.8 2909.8L1074.8 2929.9L1075.8 2914.7L1076.8 2931.4L1077.8 2933.4L1078.7 2918.4L1079.7 2928.5L1080.7 2919L1081.7 2930.5L1082.7 2910.4L1083.6 2922.5L1084.6 2931.1L1085.6 2921.3L1086.6 2916L1087.5 2928.4L1088.5 2918.7L1089.5 2907.2L1090.5 2915.9L1091.5 2922.4L1092.4 2926.5L1093.4 2917.8L1094.4 2933.3L1095.4 2944.5L1096.4 2926.5L1097.3 2929.4L1098.3 2907.9L1099.3 2919.6L1100.3 2927.6L1101.3 2928.4L1102.2 2915.5L1103.2 2924.9L1104.2 2922.4L1105.2 2918L1106.2 2915.8L1107.1 2914.9L1108.1 2913.8L1109.1 2903.8L1110.1 2899.6L1111.1 2923.5L1112 2890.3L1113 2907.1L1114 2897.1L1115 2910.2L1116 2900.1L1116.9 2898.4L1117.9 2896L1118.9 2885.9L1119.9 2881L1120.9 2884.6L1121.8 2866.3L1122.8 2847.3L1123.8 2837.3L1124.8 2840.5L1125.8 2841.3L1126.7 2846L1127.7 2860.4L1128.7 2867.2L1129.7 2847.6L1130.7 2863.6L1131.6 2858.6L1132.6 2863L1133.6 2844.1L1134.6 2850.3L1135.5 2850L1136.5 2841L1137.5 2847.9L1138.5 2824.3L1139.5 2827.6L1140.4 2838.4L1141.4 2817.8L1142.4 2821.3L1143.4 2816.9L1144.4 2813.2L1145.3 2817.2L1146.3 2811.4L1147.3 2796.7L1148.3 2796.9L1149.3 2798.5L1150.2 2766.9L1151.2 2779L1152.2 2774.4L1153.2 2767.4L1154.2 2746.4L1155.1 2734.2L1156.1 2730.2L1157.1 2713.3L1158.1 2722.7L1159.1 2699.6L1160 2686.9L1161 2667.9L1162 2647.9L1163 2656.3L1164 2588.9L1164.9 2610.9L1165.9 2580.6L1166.9 2557L1167.9 2537.6L1168.9 2524.5L1169.8 2538.8L1170.8 2499.7L1171.8 2459.7L1172.8 2459L1173.8 2441.6L1174.7 2438.1L1175.7 2378.4L1176.7 2369.4L1177.7 2369.8L1178.6 2345.3L1179.6 2330.9L1180.6 2330.7L1181.6 2309.1L1182.6 2292.9L1183.5 2281.2L1184.5 2266L1185.5 2277.4L1186.5 2281.3L1187.5 2270L1188.4 2284.7L1189.4 2296.1L1190.4 2271.5L1191.4 2298L1192.4 2300.9L1193.3 2305.4L1194.3 2339.4L1195.3 2332.2L1196.3 2350.1L1197.3 2373.3L1198.2 2385.3L1199.2 2417.4L1200.2 2453.2L1201.2 2451.7L1202.2 2479.2L1203.1 2481L1204.1 2509L1205.1 2538.7L1206.1 2554.1L1207.1 2562.3L1208 2585.7L1209 2613.9L1210 2633.6L1211 2659.9L1212 2677.5L1212.9 2689.3L1213.9 2713.2L1214.9 2726.3L1215.9 2754.4L1216.9 2774.1L1217.8 2788.4L1218.8 2791.3L1219.8 2789.6L1220.8 2802.6L1221.7 2830.9L1222.7 2845.2L1223.7 2836.3L1224.7 2847.5L1225.7 2869.3L1226.6 2858.2L1227.6 2871.3L1228.6 2868.8L1229.6 2881.4L1230.6 2882.3L1231.5 2890.8L1232.5 2904L1233.5 2902.2L1234.5 2908.5L1235.5 2900.5L1236.4 2916L1237.4 2921.9L1238.4 2908.1L1239.4 2906.6L1240.4 2906L1241.3 2909.8L1242.3 2929.2L1243.3 2924.5L1244.3 2924.3L1245.3 2921.4L1246.2 2936.9L1247.2 2922.5L1248.2 2921L1249.2 2930L1250.2 2923L1251.1 2915.9L1252.1 2924.1L1253.1 2917.4L1254.1 2917.9L1255.1 2922.3L1256 2922.7L1257 2928.1L1258 2917.1L1259 2929.1L1260 2930.8L1260.9 2921.2L1261.9 2931.2L1262.9 2923.4L1263.9 2919.1L1264.9 2925.9L1265.8 2925.9L1266.8 2920.4L1267.8 2921.6L1268.8 2937.4L1269.7 2935.9L1270.7 2917.8L1271.7 2924.4L1272.7 2941.4L1273.7 2936.4L1274.6 2927.1L1275.6 2934L1276.6 2924.1L1277.6 2926.9L1278.6 2924.1L1279.5 2935.5L1280.5 2923.3L1281.5 2914.2L1282.5 2933.1L1283.5 2918.7L1284.4 2921L1285.4 2923.4L1286.4 2928.3L1287.4 2935.8L1288.4 2933.9L1289.3 2922.8L1290.3 2921.3L1291.3 2919.7L1292.3 2921.6L1293.3 2922L1294.2 2931.1L1295.2 2936.4L1296.2 2926.8L1297.2 2924.9L1298.2 2927.7L1299.1 2938.6L1300.1 2931.9L1301.1 2938.4L1302.1 2927.5L1303.1 2935.6L1304 2929.6L1305 2926.4L1306 2927.6L1307 2919.4L1308 2936.1L1308.9 2943.4L1309.9 2922.3L1310.9 2919.3L1311.9 2919.1L1312.8 2926.8L1313.8 2925.1L1314.8 2928L1315.8 2937.5L1316.8 2932.7L1317.7 2925.5L1318.7 2932.8L1319.7 2916.1L1320.7 2939.3L1321.7 2931.9L1322.6 2921.5L1323.6 2933.1L1324.6 2936.6L1325.6 2938.1L1326.6 2933.9L1327.5 2919L1328.5 2926.4L1329.5 2925.7L1330.5 2932.6L1331.5 2923.5L1332.4 2928.5L1333.4 2935.3L1334.4 2932.2L1335.4 2927.9L1336.4 2921.5L1337.3 2929.7L1338.3 2926L1339.3 2915.9L1340.3 2934.6L1341.3 2937.6L1342.2 2922.8L1343.2 2926.4L1344.2 2930L1345.2 2927.6L1346.2 2931.6L1347.1 2926L1348.1 2931.7L1349.1 2924.1L1350.1 2937.2L1351.1 2934.9L1352 2928.7L1353 2932.6L1354 2924.9L1355 2929.8L1355.9 2933.1L1356.9 2928.2L1357.9 2933L1358.9 2939.8L1359.9 2937.1L1360.8 2934.9L1361.8 2932.7L1362.8 2929L1363.8 2923.6L1364.8 2926L1365.7 2917.9L1366.7 2921.2L1367.7 2930.9L1368.7 2918.8L1369.7 2921.9L1370.6 2919.2L1371.6 2927.6L1372.6 2922.5L1373.6 2928.1L1374.6 2923L1375.5 2927.1L1376.5 2925.1L1377.5 2931.8L1378.5 2927.2L1379.5 2932.1L1380.4 2925.3L1381.4 2940.8L1382.4 2927.5L1383.4 2921.6L1384.4 2925.9L1385.3 2929.9L1386.3 2937.9L1387.3 2935.3L1388.3 2935.2L1389.3 2932.1L1390.2 2930.7L1391.2 2923.5L1392.2 2935.6L1393.2 2923.3L1394.2 2940L1395.1 2934.9L1396.1 2930L1397.1 2922.3L1398.1 2933.8L1399.1 2943.7L1400 2927.1L1401 2930L1402 2936.8L1403 2936.6L1403.9 2934.3L1404.9 2940.6L1405.9 2925.5L1406.9 2939.4L1407.9 2915L1408.8 2930.1L1409.8 2932.3L1410.8 2925.5L1411.8 2929.2L1412.8 2914.8L1413.7 2922.8L1414.7 2932.2L1415.7 2932.4L1416.7 2933.1L1417.7 2932.1L1418.6 2925.5L1419.6 2934L1420.6 2919.5L1421.6 2939.3L1422.6 2930.8L1423.5 2923.8L1424.5 2942.6L1425.5 2935.9L1426.5 2926L1427.5 2929.8L1428.4 2930L1429.4 2927.3L1430.4 2933.8L1431.4 2931L1432.4 2938.6L1433.3 2941.9L1434.3 2921.8L1435.3 2935.9L1436.3 2934.5L1437.3 2921L1438.2 2923.1L1439.2 2933.3L1440.2 2933.3L1441.2 2930.4L1442.2 2936L1443.1 2926.4L1444.1 2929L1445.1 2929.1L1446.1 2925.1L1447 2925.3L1448 2918.1L1449 2920.2L1450 2940.8L1451 2924.2L1451.9 2937L1452.9 2939L1453.9 2925.3L1454.9 2934.3L1455.9 2931.9L1456.8 2923L1457.8 2934.1L1458.8 2935.5L1459.8 2927.8L1460.8 2922.1L1461.7 2926.5L1462.7 2954.5L1463.7 2933.9L1464.7 2930.8L1465.7 2917.6L1466.6 2924.1L1467.6 2924.4L1468.6 2922.2L1469.6 2931.7L1470.6 2926.7L1471.5 2926.6L1472.5 2935.9L1473.5 2929.8L1474.5 2926.2L1475.5 2936.5L1476.4 2924.6L1477.4 2924.9L1478.4 2923.2L1479.4 2934.6L1480.4 2929L1481.3 2920.5L1482.3 2924.6L1483.3 2934.6L1484.3 2928.2L1485.3 2920.6L1486.2 2930.1L1487.2 2927.2L1488.2 2913.4L1489.2 2929.8L1490.1 2930.2L1491.1 2935.8L1492.1 2933.6L1493.1 2920.1L1494.1 2930.3L1495 2936.9L1496 2935.3L1497 2929.4L1498 2924.6L1499 2934L1499.9 2924.9L1500.9 2932.4L1501.9 2927.1L1502.9 2926L1503.9 2925.4L1504.8 2931.9L1505.8 2930.2L1506.8 2926L1507.8 2937.2L1508.8 2928L1509.7 2925.8L1510.7 2922.4L1511.7 2929.1L1512.7 2930L1513.7 2927.9L1514.6 2933.3L1515.6 2929.9L1516.6 2926L1517.6 2926.7L1518.6 2934.8L1519.5 2930.2L1520.5 2941.3L1521.5 2922.9L1522.5 2931.1L1523.5 2926.1L1524.4 2934.3L1525.4 2927.8L1526.4 2924.2L1527.4 2920.7L1528.4 2935L1529.3 2921L1530.3 2927L1531.3 2919L1532.3 2922.3L1533.3 2926.8L1534.2 2926.4L1535.2 2928.5L1536.2 2922.2L1537.2 2922.9L1538.1 2923.6L1539.1 2927.9L1540.1 2924.6L1541.1 2918.2L1542.1 2912L1543 2919.4L1544 2909.6L1545 2917.6L1546 2923.5L1547 2911.7L1547.9 2920.7L1548.9 2911.1L1549.9 2905.7L1550.9 2913.2L1551.9 2910.5L1552.8 2893.1L1553.8 2905.8L1554.8 2904.1L1555.8 2899.3L1556.8 2903.3L1557.7 2901.6L1558.7 2896.9L1559.7 2912.8L1560.7 2886.6L1561.7 2900.6L1562.6 2898.6L1563.6 2886.2L1564.6 2887.4L1565.6 2893.4L1566.6 2881.7L1567.5 2888.2L1568.5 2883L1569.5 2885.8L1570.5 2879L1571.5 2868.5L1572.4 2867.8L1573.4 2864L1574.4 2857.3L1575.4 2861.1L1576.4 2862.5L1577.3 2857.4L1578.3 2841.9L1579.3 2850L1580.3 2845.4L1581.2 2845.6L1582.2 2840.7L1583.2 2836.9L1584.2 2837.3L1585.2 2835.8L1586.1 2837.6L1587.1 2835.7L1588.1 2824.9L1589.1 2820.3L1590.1 2817L1591 2820.9L1592 2825L1593 2813.1L1594 2811.5L1595 2824.6L1595.9 2807.1L1596.9 2807.3L1597.9 2798.6L1598.9 2817L1599.9 2817.2L1600.8 2802.1L1601.8 2819.5L1602.8 2811.7L1603.8 2813.9L1604.8 2813.3L1605.7 2819.6L1606.7 2808.3L1607.7 2800.3L1608.7 2804.6L1609.7 2805.3L1610.6 2811.8L1611.6 2800.3L1612.6 2807.9L1613.6 2805.6L1614.6 2825L1615.5 2813.6L1616.5 2825.5L1617.5 2817.1L1618.5 2820.1L1619.5 2831.1L1620.4 2824.4L1621.4 2820L1622.4 2826.7L1623.4 2828.5L1624.3 2840.7L1625.3 2841.9L1626.3 2847.3L1627.3 2841.6L1628.3 2837.1L1629.2 2844.7L1630.2 2850.2L1631.2 2860.2L1632.2 2852.6L1633.2 2859.6L1634.1 2873.1L1635.1 2874.5L1636.1 2868L1637.1 2874.1L1638.1 2860.2L1639 2873.1L1640 2882.3L1641 2881.2L1642 2870.3L1643 2888.6L1643.9 2880L1644.9 2884.2L1645.9 2879.8L1646.9 2887.7L1647.9 2895.5L1648.8 2891.6L1649.8 2896.2L1650.8 2892.3L1651.8 2900.4L1652.8 2889.4L1653.7 2903.8L1654.7 2901.9L1655.7 2910.1L1656.7 2906.6L1657.7 2908.5L1658.6 2908.8L1659.6 2905.5L1660.6 2915.3L1661.6 2918.2L1662.6 2907.3L1663.5 2916.6L1664.5 2919.8L1665.5 2909.6L1666.5 2912.6L1667.5 2933.9L1668.4 2920.9L1669.4 2914.5L1670.4 2914.7L1671.4 2923.3L1672.3 2911.3L1673.3 2925.9L1674.3 2922.9L1675.3 2921.1L1676.3 2922.2L1677.2 2917.7L1678.2 2916.6L1679.2 2923.2L1680.2 2914.8L1681.2 2927.4L1682.1 2924.7L1683.1 2913.2L1684.1 2923L1685.1 2917.2L1686.1 2926.1L1687 2925.1L1688 2924.1L1689 2922.3L1690 2925.2L1691 2922.9L1691.9 2918.8L1692.9 2915.3L1693.9 2921.5L1694.9 2917.8L1695.9 2915.8L1696.8 2927.1L1697.8 2929.5L1698.8 2909.7L1699.8 2910.7L1700.8 2917.3L1701.7 2914.5L1702.7 2921.1L1703.7 2922.5L1704.7 2910.9L1705.7 2920.1L1706.6 2903.9L1707.6 2911.5L1708.6 2903.5L1709.6 2891.1L1710.6 2888.7L1711.5 2898.9L1712.5 2887.5L1713.5 2896.9L1714.5 2890.3L1715.4 2880.2L1716.4 2869.3L1717.4 2876.6L1718.4 2864.2L1719.4 2861.2L1720.3 2863.7L1721.3 2849.7L1722.3 2831.9L1723.3 2834.5L1724.3 2822.3L1725.2 2811.2L1726.2 2812.3L1727.2 2789L1728.2 2776.5L1729.2 2764.6L1730.1 2754.7L1731.1 2754.9L1732.1 2742.9L1733.1 2730.9L1734.1 2717.8L1735 2702.4L1736 2673.8L1737 2654.3L1738 2654.5L1739 2626.4L1739.9 2626L1740.9 2601.1L1741.9 2589L1742.9 2576.5L1743.9 2544.2L1744.8 2525.7L1745.8 2511.6L1746.8 2494.3L1747.8 2480.2L1748.8 2454.3L1749.7 2440.8L1750.7 2415.3L1751.7 2411.8L1752.7 2381.3L1753.7 2362.3L1754.6 2339.4L1755.6 2326.4L1756.6 2320.9L1757.6 2316.7L1758.6 2316.3L1759.5 2286.4L1760.5 2261.6L1761.5 2250.1L1762.5 2286.6L1763.4 2261.5L1764.4 2252.2L1765.4 2255.9L1766.4 2240.5L1767.4 2241.2L1768.3 2247.6L1769.3 2270.5L1770.3 2264.2L1771.3 2262.3L1772.3 2267.4L1773.2 2255.9L1774.2 2290.7L1775.2 2285.7L1776.2 2286.3L1777.2 2306.8L1778.1 2327.1L1779.1 2339.5L1780.1 2343.3L1781.1 2354.1L1782.1 2357.4L1783 2388.7L1784 2399.3L1785 2430.2L1786 2447.3L1787 2452.1L1787.9 2479.4L1788.9 2490.5L1789.9 2515.2L1790.9 2521.6L1791.9 2537.9L1792.8 2582.9L1793.8 2578.6L1794.8 2607.7L1795.8 2624.6L1796.8 2646L1797.7 2655.9L1798.7 2685.6L1799.7 2698L1800.7 2713L1801.7 2719.5L1802.6 2728.7L1803.6 2743.2L1804.6 2758.3L1805.6 2776.9L1806.5 2796.1L1807.5 2792.1L1808.5 2804L1809.5 2812.2L1810.5 2814.2L1811.4 2833.2L1812.4 2841.2L1813.4 2862.1L1814.4 2850.7L1815.4 2861L1816.3 2871.2L1817.3 2881.7L1818.3 2883.6L1819.3 2885.2L1820.3 2874.2L1821.2 2885.6L1822.2 2888.2L1823.2 2892.6L1824.2 2896.3L1825.2 2901.7L1826.1 2891.8L1827.1 2908.1L1828.1 2905.4L1829.1 2912.9L1830.1 2915.4L1831 2929.2L1832 2927.5L1833 2908.3L1834 2909.8L1835 2922.1L1835.9 2920.6L1836.9 2917.6L1837.9 2927.7L1838.9 2912.2L1839.9 2929.2L1840.8 2927.8L1841.8 2940.1L1842.8 2915.7L1843.8 2924.5L1844.8 2915.8L1845.7 2931.3L1846.7 2923.8L1847.7 2925.5L1848.7 2925L1849.6 2914.4L1850.6 2913.4L1851.6 2918.7L1852.6 2929.2L1853.6 2921.8L1854.5 2919.3L1855.5 2924L1856.5 2924L1857.5 2924.6L1858.5 2932.7L1859.4 2926.2L1860.4 2918.4L1861.4 2933.5L1862.4 2927.3L1863.4 2923L1864.3 2935.8L1865.3 2928.8L1866.3 2937.8L1867.3 2931.6L1868.3 2936.2L1869.2 2933.3L1870.2 2931.1L1871.2 2929.9L1872.2 2929.5L1873.2 2942.2L1874.1 2919.3L1875.1 2930L1876.1 2934.8L1877.1 2932.2L1878.1 2926.8L1879 2934.4L1880 2931L1881 2931.4L1882 2925.6L1883 2933L1883.9 2916.8L1884.9 2926.8L1885.9 2929.7L1886.9 2921.7L1887.9 2928.7L1888.8 2935.6L1889.8 2927.2L1890.8 2928.2L1891.8 2929.2L1892.8 2927.6L1893.7 2915.5L1894.7 2927.7L1895.7 2926.4L1896.7 2930.4L1897.6 2921.5L1898.6 2929.4L1899.6 2933.7L1900.6 2936.1L1901.6 2926.1L1902.5 2924.8L1903.5 2938.2L1904.5 2933.3L1905.5 2925.5L1906.5 2923.3L1907.4 2936.7L1908.4 2931.5L1909.4 2924.4L1910.4 2932.2L1911.4 2931.8L1912.3 2932.3L1913.3 2936.7L1914.3 2928.9L1915.3 2927.5L1916.3 2937.2L1917.2 2928.6L1918.2 2922.9L1919.2 2928L1920.2 2923.8L1921.2 2932.3L1922.1 2921.4L1923.1 2933.7L1924.1 2918.4L1925.1 2931.7L1926.1 2933.3L1927 2934.2L1928 2942.5L1929 2931.9L1930 2933L1931 2931L1931.9 2925.3L1932.9 2924L1933.9 2931L1934.9 2922L1935.9 2934.7L1936.8 2934.8L1937.8 2935.4L1938.8 2925.5L1939.8 2937.7L1940.7 2936.8L1941.7 2929.6L1942.7 2919L1943.7 2921.1L1944.7 2937.3L1945.6 2928.6L1946.6 2923.9L1947.6 2928.1L1948.6 2937.8L1949.6 2930.5L1950.5 2938.2L1951.5 2935.5L1952.5 2916.1L1953.5 2924.5L1954.5 2936.7L1955.4 2936.8L1956.4 2925.6L1957.4 2931.6L1958.4 2924.8L1959.4 2931.7L1960.3 2929.1L1961.3 2926.5L1962.3 2933.7L1963.3 2938.6L1964.3 2934.4L1965.2 2931.5L1966.2 2928.6L1967.2 2927.7L1968.2 2927.7L1969.2 2924.3L1970.1 2932.2L1971.1 2919L1972.1 2915.5L1973.1 2924.7L1974.1 2925.6L1975 2919.5L1976 2922.8L1977 2925.3L1978 2927.2L1979 2930.3L1979.9 2932.6L1980.9 2922L1981.9 2918.9L1982.9 2931.6L1983.8 2925.8L1984.8 2924L1985.8 2927.5L1986.8 2929.3L1987.8 2927L1988.7 2935.8L1989.7 2924.8L1990.7 2926L1991.7 2912L1992.7 2918.6L1993.6 2925.7L1994.6 2923.6L1995.6 2913.6L1996.6 2914L1997.6 2921.9L1998.5 2923.5L1999.5 2930.8L2000.5 2924.2L2001.5 2923.1L2002.5 2926.1L2003.4 2911.8L2004.4 2932.2L2005.4 2922L2006.4 2918.7L2007.4 2918.3L2008.3 2910.9L2009.3 2928.3L2010.3 2924.4L2011.3 2919.3L2012.3 2918.8L2013.2 2921.5L2014.2 2923.5L2015.2 2912.7L2016.2 2924.6L2017.2 2913.8L2018.1 2909.8L2019.1 2907.8L2020.1 2912.5L2021.1 2922.2L2022.1 2921.8L2023 2921.8L2024 2922.9L2025 2918.5L2026 2908.5L2027 2914.3L2027.9 2919.6L2028.9 2919.5L2029.9 2921.5L2030.9 2907.5L2031.8 2925.8L2032.8 2912.3L2033.8 2921.9L2034.8 2919.4L2035.8 2921.6L2036.7 2907.2L2037.7 2898.8L2038.7 2896.4L2039.7 2917.9L2040.7 2917.9L2041.6 2907.9L2042.6 2907.8L2043.6 2912.4L2044.6 2922.2L2045.6 2901.9L2046.5 2906.7L2047.5 2907.4L2048.5 2912.9L2049.5 2905.5L2050.5 2912.2L2051.4 2908.5L2052.4 2909.6L2053.4 2901L2054.4 2910.8L2055.4 2909.8L2056.3 2901.2L2057.3 2906.1L2058.3 2907.3L2059.3 2908.4L2060.3 2901.3L2061.2 2910.3L2062.2 2903.7L2063.2 2894.4L2064.2 2903.7L2065.2 2910.4L2066.1 2912.7L2067.1 2904.7L2068.1 2912.5L2069.1 2914.5L2070.1 2909.6L2071 2911.4L2072 2899.9L2073 2913.3L2074 2895.6L2074.9 2909L2075.9 2903.9L2076.9 2900.6L2077.9 2903.2L2078.9 2909.5L2079.8 2910.1L2080.8 2917.6L2081.8 2905.5L2082.8 2914.1L2083.8 2907.7L2084.7 2898.9L2085.7 2905.6L2086.7 2907.9L2087.7 2911.1L2088.7 2906.3L2089.6 2905.6L2090.6 2913.9L2091.6 2903.1L2092.6 2911.1L2093.6 2903.7L2094.5 2907.7L2095.5 2899.5L2096.5 2900.4L2097.5 2905.4L2098.5 2906.2L2099.4 2903.2L2100.4 2897.9L2101.4 2899.9L2102.4 2905.3L2103.4 2904.5L2104.3 2897.4L2105.3 2916.1L2106.3 2903.7L2107.3 2912.2L2108.3 2899.4L2109.2 2910.3L2110.2 2908.3L2111.2 2914.1L2112.2 2908L2113.2 2903.7L2114.1 2898.9L2115.1 2916L2116.1 2911.5L2117.1 2886.8L2118 2904.1L2119 2909.8L2120 2907L2121 2925.5L2122 2901.2L2122.9 2909.9L2123.9 2919.3L2124.9 2904.6L2125.9 2915.2L2126.9 2917.7L2127.8 2909.1L2128.8 2910.1L2129.8 2915.3L2130.8 2913.4L2131.8 2920.9L2132.7 2921.8L2133.7 2908.7L2134.7 2906.6L2135.7 2911.9L2136.7 2912.5L2137.6 2917.2L2138.6 2916L2139.6 2920.9L2140.6 2905.8L2141.6 2919.3L2142.5 2914L2143.5 2916.6L2144.5 2924.9L2145.5 2906.2L2146.5 2919.6L2147.4 2922.1L2148.4 2917.3L2149.4 2923.4L2150.4 2918.4L2151.4 2924.2L2152.3 2915.8L2153.3 2919L2154.3 2927.3L2155.3 2913.9L2156.3 2918.9L2157.2 2926.5L2158.2 2918.5L2159.2 2918.3L2160.2 2910.4L2161.2 2926.1L2162.1 2916.6L2163.1 2922.2L2164.1 2918.4L2165.1 2923.5L2166 2922.6L2167 2919.6L2168 2929.4L2169 2947.9L2170 2923.1L2170.9 2925.7L2171.9 2922.9L2172.9 2920L2173.9 2925L2174.9 2917.2L2175.8 2924.3L2176.8 2923.6L2177.8 2919.7L2178.8 2921.2L2179.8 2925.2L2180.7 2924.1L2181.7 2929.2L2182.7 2928.5L2183.7 2924.6L2184.7 2920.7L2185.6 2927.9L2186.6 2920.8L2187.6 2914.7L2188.6 2913.7L2189.6 2925.7L2190.5 2920L2191.5 2922.6L2192.5 2921.7L2193.5 2921.5L2194.5 2923.3L2195.4 2921.7L2196.4 2925.3L2197.4 2927.9L2198.4 2925L2199.4 2923.7L2200.3 2919.6L2201.3 2924.4L2202.3 2922.4L2203.3 2918.5L2204.3 2931.8L2205.2 2928L2206.2 2923.5L2207.2 2926.3L2208.2 2932.1L2209.1 2920.8L2210.1 2926.7L2211.1 2931.8L2212.1 2915.4L2213.1 2933.1L2214 2925.9L2215 2929.4L2216 2924.9L2217 2922.1L2218 2929.6L2218.9 2925.4L2219.9 2925.3L2220.9 2929.9L2221.9 2917.4L2222.9 2922.6L2223.8 2924.9L2224.8 2926.6L2225.8 2924.3L2226.8 2921.2L2227.8 2924.1L2228.7 2913.9L2229.7 2934.8L2230.7 2932L2231.7 2920.8L2232.7 2929.1L2233.6 2918.4L2234.6 2921.1L2235.6 2913.4L2236.6 2913.6L2237.6 2907.7L2238.5 2909.1L2239.5 2906.4L2240.5 2909.7L2241.5 2905.8L2242.5 2908.2L2243.4 2913.6L2244.4 2916.5L2245.4 2915.3L2246.4 2904.8L2247.4 2920.3L2248.3 2904.7L2249.3 2909.2L2250.3 2899.8L2251.3 2902L2252.2 2906.6L2253.2 2901.4L2254.2 2913.8L2255.2 2898.3L2256.2 2896.4L2257.1 2909.1L2258.1 2892.8L2259.1 2897.9L2260.1 2895.6L2261.1 2904.3L2262 2892.2L2263 2891.9L2264 2895.1L2265 2900.4L2266 2890.1L2266.9 2887.2L2267.9 2892.1L2268.9 2888.6L2269.9 2897.9L2270.9 2893.8L2271.8 2892.8L2272.8 2894.5L2273.8 2879.3L2274.8 2893.7L2275.8 2899.9L2276.7 2892.4L2277.7 2904.1L2278.7 2896.3L2279.7 2894.7L2280.7 2902.8L2281.6 2902.5L2282.6 2906.9L2283.6 2901.6L2284.6 2907.1L2285.6 2894.1L2286.5 2901.3L2287.5 2907.2L2288.5 2914.9L2289.5 2896.1L2290.5 2901.2L2291.4 2906.8L2292.4 2909.3L2293.4 2910.3L2294.4 2914.8L2295.4 2902.4L2296.3 2912.7L2297.3 2922.9L2298.3 2919.2L2299.3 2930.9L2300.2 2913.4L2301.2 2913.5L2302.2 2908.6L2303.2 2907.4L2304.2 2924.3L2305.1 2918L2306.1 2915.5L2307.1 2917.3L2308.1 2925.1L2309.1 2918.3L2310 2920.5L2311 2916.1L2312 2924.4L2313 2926L2314 2927.9L2314.9 2927.5L2315.9 2930L2316.9 2928L2317.9 2923.6L2318.9 2924.1L2319.8 2919.6L2320.8 2921.1L2321.8 2923.9L2322.8 2934.1L2323.8 2924.7L2324.7 2921.6L2325.7 2935.5L2326.7 2934.6L2327.7 2933.8L2328.7 2934.5L2329.6 2930.4L2330.6 2934.1L2331.6 2926.9L2332.6 2935.9L2333.6 2930L2334.5 2932.1L2335.5 2934.8L2336.5 2923.7L2337.5 2929.4L2338.5 2926.6L2339.4 2931.5L2340.4 2925.8L2341.4 2926.3L2342.4 2930.6L2343.3 2939.7L2344.3 2925.3L2345.3 2926.1L2346.3 2928.9L2347.3 2928.6L2348.2 2943.2L2349.2 2928.9L2350.2 2935.6L2351.2 2930.4L2352.2 2928.3L2353.1 2933.5L2354.1 2935.5L2355.1 2919.8L2356.1 2926.8L2357.1 2931.9L2358 2932.9L2359 2944.8L2360 2938.1L2361 2931.6L2362 2923.1L2362.9 2941.7L2363.9 2934.1L2364.9 2919.7L2365.9 2914.4L2366.9 2928L2367.8 2923.7L2368.8 2931L2369.8 2931.3L2370.8 2926.4L2371.8 2925.6L2372.7 2936.3L2373.7 2921.9L2374.7 2940L2375.7 2934.2L2376.7 2913.4L2377.6 2933.2L2378.6 2926.8L2379.6 2936L2380.6 2932.2L2381.6 2934.4L2382.5 2932.6L2383.5 2926.8L2384.5 2920.8L2385.5 2925.6L2386.4 2921.8L2387.4 2933.3L2388.4 2922.4L2389.4 2927.4L2390.4 2922.9L2391.3 2932.8L2392.3 2931.8L2393.3 2922.9L2394.3 2927.1L2395.3 2929.9L2396.2 2934.3L2397.2 2931.1L2398.2 2927.9L2399.2 2926.6L2400.2 2933.7L2401.1 2932.5L2402.1 2928.3L2403.1 2936.8L2404.1 2925.5L2405.1 2930.8L2406 2931.5L2407 2944.1L2408 2939.6L2409 2936.6L2410 2934.1L2410.9 2937L2411.9 2928.9L2412.9 2930.2L2413.9 2932.4L2414.9 2942.2L2415.8 2923.2L2416.8 2932.5L2417.8 2927.7L2418.8 2934.7L2419.8 2919.6L2420.7 2927.2L2421.7 2929.7L2422.7 2925.7L2423.7 2932L2424.7 2920L2425.6 2941.5L2426.6 2934.1L2427.6 2925.6L2428.6 2932.4L2429.6 2919.5" fill="none" stroke="#ff0000" stroke-width="12" stroke-linejoin="round" stroke-linecap="butt"/>
<path d="M191.2 3516.8L192.2 3522L193.2 3511.2L194.2 3504.5L195.2 3497.4L196.1 3507.6L197.1 3514.3L198.1 3516.6L199.1 3501.2L200.1 3492.4L201 3506L202 3521.1L203 3518.3L204 3492.7L205 3506.7L205.9 3526L206.9 3509.6L207.9 3520.4L208.9 3515L209.9 3513.6L210.8 3515.8L211.8 3503.2L212.8 3509.3L213.8 3514.6L214.8 3504.6L215.7 3500.4L216.7 3525.1L217.7 3511.3L218.7 3518.5L219.7 3510.4L220.6 3521.6L221.6 3508.5L222.6 3509.1L223.6 3511.7L224.6 3519.2L225.5 3512.6L226.5 3519.6L227.5 3522.2L228.5 3506.4L229.5 3519.8L230.4 3497L231.4 3501.5L232.4 3528.6L233.4 3505.9L234.4 3519.7L235.3 3508.3L236.3 3508.2L237.3 3528.5L238.3 3511L239.2 3511.2L240.2 3499L241.2 3520.4L242.2 3501.3L243.2 3519.6L244.1 3511.9L245.1 3517L246.1 3494.2L247.1 3503L248.1 3484.3L249 3502.2L250 3500.2L251 3500.2L252 3514.7L253 3509.3L253.9 3495.1L254.9 3512.6L255.9 3486.7L256.9 3508.8L257.9 3502.5L258.8 3512.2L259.8 3510.1L260.8 3506.2L261.8 3507.6L262.8 3517.2L263.7 3499.6L264.7 3521.5L265.7 3520.6L266.7 3521.4L267.7 3498.9L268.6 3512.2L269.6 3518.2L270.6 3519.9L271.6 3504.3L272.6 3519.1L273.5 3521.2L274.5 3502.4L275.5 3520.5L276.5 3511.7L277.5 3508.6L278.4 3513L279.4 3509L280.4 3495.2L281.4 3513.7L282.3 3521L283.3 3526.8L284.3 3510.5L285.3 3512L286.3 3505.8L287.2 3513.1L288.2 3513.2L289.2 3515.6L290.2 3513.6L291.2 3506.9L292.1 3512.2L293.1 3507.4L294.1 3489.5L295.1 3503.7L296.1 3524.1L297 3491.2L298 3504.9L299 3517.8L300 3499.4L301 3508.2L301.9 3514.5L302.9 3514.7L303.9 3518.3L304.9 3507.9L305.9 3497.7L306.8 3511.6L307.8 3504.2L308.8 3489.7L309.8 3520.4L310.8 3505.8L311.7 3511.4L312.7 3518.8L313.7 3518.5L314.7 3508.4L315.7 3504L316.6 3513.6L317.6 3507.7L318.6 3501.1L319.6 3505.3L320.6 3499.6L321.5 3503.6L322.5 3503.4L323.5 3490.1L324.5 3502L325.5 3506.9L326.4 3501.1L327.4 3517.3L328.4 3511.5L329.4 3500.3L330.3 3501.9L331.3 3492.8L332.3 3508L333.3 3522.6L334.3 3488.8L335.2 3497.2L336.2 3518.5L337.2 3494.4L338.2 3507.7L339.2 3526L340.1 3512.2L341.1 3513L342.1 3492.2L343.1 3515.8L344.1 3510.4L345 3510.6L346 3511.6L347 3516.9L348 3505.7L349 3497.2L349.9 3501.6L350.9 3517L351.9 3519.1L352.9 3506.6L353.9 3514.7L354.8 3513.9L355.8 3524.3L356.8 3488.3L357.8 3498.5L358.8 3517.2L359.7 3498.6L360.7 3494.2L361.7 3554.8L362.7 3512.8L363.7 3511.2L364.6 3500.9L365.6 3508.5L366.6 3509.5L367.6 3507.8L368.6 3488.8L369.5 3485.7L370.5 3512.2L371.5 3516.1L372.5 3480.3L373.4 3516.5L374.4 3512.4L375.4 3506.3L376.4 3501.8L377.4 3496.3L378.3 3502.5L379.3 3514.8L380.3 3501.1L381.3 3503.5L382.3 3487.3L383.2 3505.8L384.2 3518.7L385.2 3515.6L386.2 3490.8L387.2 3510.3L388.1 3525.5L389.1 3510.2L390.1 3504.3L391.1 3492.3L392.1 3513.8L393 3496.9L394 3495.3L395 3509.8L396 3504.4L397 3484.7L397.9 3484.8L398.9 3493L399.9 3497.7L400.9 3489.3L401.9 3501.5L402.8 3500.6L403.8 3507.7L404.8 3498.6L405.8 3499L406.8 3470.1L407.7 3498.9L408.7 3483.8L409.7 3482.7L410.7 3497L411.7 3482.9L412.6 3515.5L413.6 3492.1L414.6 3483.8L415.6 3515.5L416.5 3502.4L417.5 3479.5L418.5 3491.9L419.5 3499.5L420.5 3491.4L421.4 3492.3L422.4 3478.7L423.4 3480.6L424.4 3487.1L425.4 3490.1L426.3 3483.1L427.3 3468.4L428.3 3477.3L429.3 3473.5L430.3 3480.7L431.2 3491.3L432.2 3484.7L433.2 3470.1L434.2 3474.9L435.2 3484.3L436.1 3490.8L437.1 3472.6L438.1 3476.5L439.1 3476L440.1 3475.2L441 3468.4L442 3467.8L443 3460.6L444 3460.5L445 3456.1L445.9 3461.1L446.9 3472.5L447.9 3469.5L448.9 3463.8L449.9 3472L450.8 3463.3L451.8 3457.2L452.8 3477.2L453.8 3487.3L454.8 3457.5L455.7 3469.8L456.7 3463.1L457.7 3484.3L458.7 3453.7L459.7 3464.3L460.6 3473.7L461.6 3476.6L462.6 3472.5L463.6 3476.1L464.5 3477.9L465.5 3487.1L466.5 3464L467.5 3477.9L468.5 3477.5L469.4 3478.2L470.4 3503.5L471.4 3475.6L472.4 3484.9L473.4 3485.4L474.3 3482.7L475.3 3493.9L476.3 3476.7L477.3 3492.8L478.3 3495.7L479.2 3496.1L480.2 3486.9L481.2 3481.9L482.2 3495.9L483.2 3505.7L484.1 3481.2L485.1 3502.8L486.1 3481.3L487.1 3494.3L488.1 3501.3L489 3501.3L490 3491.2L491 3487.7L492 3498.9L493 3488.3L493.9 3477.8L494.9 3500.6L495.9 3510.3L496.9 3509.8L497.9 3513.6L498.8 3506.7L499.8 3508L500.8 3514.2L501.8 3496.6L502.8 3527.3L503.7 3515.2L504.7 3483.4L505.7 3493.1L506.7 3498.4L507.6 3499.3L508.6 3486.9L509.6 3499.1L510.6 3503.7L511.6 3516.5L512.5 3505.6L513.5 3512.1L514.5 3512L515.5 3512.2L516.5 3506L517.4 3508.9L518.4 3497.5L519.4 3518.7L520.4 3507.7L521.4 3488.5L522.3 3506L523.3 3495L524.3 3495.7L525.3 3494.1L526.3 3499.7L527.2 3519.9L528.2 3509.4L529.2 3510.5L530.2 3521.7L531.2 3511.4L532.1 3519L533.1 3523L534.1 3505.2L535.1 3507.6L536.1 3513.8L537 3516.3L538 3512.5L539 3511.1L540 3511.3L541 3507.9L541.9 3511.6L542.9 3503.8L543.9 3502.6L544.9 3504.2L545.9 3513.9L546.8 3513.4L547.8 3503.5L548.8 3509.5L549.8 3508.1L550.7 3531.2L551.7 3533.2L552.7 3504.5L553.7 3504.6L554.7 3494.6L555.6 3501L556.6 3505.7L557.6 3507.7L558.6 3521.3L559.6 3499.5L560.5 3513.5L561.5 3503.1L562.5 3506L563.5 3505.3L564.5 3499.5L565.4 3512.5L566.4 3511.6L567.4 3516L568.4 3511.5L569.4 3492.3L570.3 3511.4L571.3 3496.9L572.3 3500.2L573.3 3501.2L574.3 3500.5L575.2 3517.5L576.2 3504.5L577.2 3493.2L578.2 3514.6L579.2 3508.5L580.1 3514.5L581.1 3505.1L582.1 3518.2L583.1 3493L584.1 3511.6L585 3522.5L586 3491.4L587 3499L588 3503.3L589 3503.1L589.9 3511.5L590.9 3510.2L591.9 3501.4L592.9 3499.6L593.9 3499.5L594.8 3506.2L595.8 3512.5L596.8 3509.9L597.8 3497.8L598.7 3494.8L599.7 3511.3L600.7 3512.6L601.7 3496.6L602.7 3501.5L603.6 3501.7L604.6 3520.4L605.6 3511.7L606.6 3513L607.6 3506.3L608.5 3523.8L609.5 3496.4L610.5 3505.4L611.5 3504.2L612.5 3519.2L613.4 3508.5L614.4 3495.9L615.4 3522.7L616.4 3505.4L617.4 3501.8L618.3 3514.6L619.3 3500.7L620.3 3511.3L621.3 3496.9L622.3 3503.4L623.2 3506.2L624.2 3489.7L625.2 3500.6L626.2 3496.2L627.2 3519.2L628.1 3514.2L629.1 3500.6L630.1 3499.9L631.1 3508.8L632.1 3501.1L633 3518L634 3506.3L635 3518.8L636 3505.1L637 3512.7L637.9 3514.1L638.9 3507.7L639.9 3491.6L640.9 3517.5L641.8 3513.8L642.8 3498.5L643.8 3512.1L644.8 3492.1L645.8 3506.2L646.7 3507.4L647.7 3505L648.7 3492.4L649.7 3502.3L650.7 3503.5L651.6 3506L652.6 3522.5L653.6 3516.3L654.6 3494.7L655.6 3500.8L656.5 3503.6L657.5 3502.5L658.5 3513.2L659.5 3505.2L660.5 3516.4L661.4 3504.7L662.4 3514.7L663.4 3510.2L664.4 3504.1L665.4 3511.2L666.3 3502.4L667.3 3504.1L668.3 3505L669.3 3496.2L670.3 3521.6L671.2 3522.7L672.2 3502.7L673.2 3499.7L674.2 3490L675.2 3501.4L676.1 3500.7L677.1 3516.2L678.1 3501.4L679.1 3502.1L680.1 3517.7L681 3516.3L682 3509.2L683 3505.6L684 3534.7L684.9 3507.5L685.9 3506.1L686.9 3509.8L687.9 3505.8L688.9 3504.1L689.8 3517.2L690.8 3504.4L691.8 3510.4L692.8 3516.6L693.8 3506.2L694.7 3494.8L695.7 3521.2L696.7 3522.9L697.7 3522.9L698.7 3490.3L699.6 3510.3L700.6 3508.5L701.6 3515L702.6 3516.4L703.6 3526.1L704.5 3506.4L705.5 3505.6L706.5 3525.5L707.5 3517.2L708.5 3514.5L709.4 3508.1L710.4 3505.6L711.4 3497.7L712.4 3495.6L713.4 3498.2L714.3 3495.7L715.3 3518L716.3 3512.5L717.3 3497.4L718.3 3504.9L719.2 3507.2L720.2 3524.9L721.2 3523.8L722.2 3500.8L723.2 3504.1L724.1 3509.7L725.1 3510.7L726.1 3522.2L727.1 3503.6L728.1 3497.6L729 3492.1L730 3506.2L731 3508.3L732 3516.1L732.9 3495.4L733.9 3491.1L734.9 3511.4L735.9 3503.3L736.9 3505L737.8 3510.7L738.8 3527.5L739.8 3508.6L740.8 3499.8L741.8 3517.7L742.7 3512.2L743.7 3533.6L744.7 3493.1L745.7 3499.9L746.7 3503.7L747.6 3506.3L748.6 3509.3L749.6 3504.2L750.6 3506L751.6 3505.2L752.5 3503.1L753.5 3501.5L754.5 3488.7L755.5 3514.9L756.5 3499.5L757.4 3507.1L758.4 3511.4L759.4 3521.9L760.4 3495.5L761.4 3509.3L762.3 3507L763.3 3496L764.3 3509.4L765.3 3499.3L766.3 3500L767.2 3492L768.2 3489.9L769.2 3506.1L770.2 3490.2L771.2 3498.8L772.1 3496.6L773.1 3499.3L774.1 3490.4L775.1 3507.6L776 3494.4L777 3486.1L778 3498.7L779 3478.2L780 3502.2L780.9 3493.7L781.9 3499.6L782.9 3500.6L783.9 3504.8L784.9 3499.6L785.8 3495.2L786.8 3501.6L787.8 3456.7L788.8 3481L789.8 3507.6L790.7 3486.8L791.7 3492.4L792.7 3491.8L793.7 3472.4L794.7 3483.4L795.6 3490.9L796.6 3492.3L797.6 3512.7L798.6 3487.1L799.6 3489L800.5 3492.4L801.5 3493.1L802.5 3485.7L803.5 3476.5L804.5 3485.7L805.4 3483.3L806.4 3496.5L807.4 3490.6L808.4 3488.1L809.4 3507.4L810.3 3477.4L811.3 3501.5L812.3 3506.5L813.3 3481.5L814.3 3477.6L815.2 3502.1L816.2 3501.6L817.2 3469.7L818.2 3495.7L819.1 3514L820.1 3502.4L821.1 3480.2L822.1 3442L823.1 3491.4L824 3487.6L825 3492.6L826 3501.4L827 3542.5L828 3495.2L828.9 3508.8L829.9 3500L830.9 3484.7L831.9 3495.4L832.9 3499.7L833.8 3499.8L834.8 3494.4L835.8 3492.9L836.8 3512.1L837.8 3499.6L838.7 3486.7L839.7 3495.1L840.7 3508.1L841.7 3507.5L842.7 3519.3L843.6 3508.7L844.6 3488.5L845.6 3502.7L846.6 3509.4L847.6 3507.1L848.5 3503.2L849.5 3503.2L850.5 3505.3L851.5 3508.8L852.5 3496.9L853.4 3489.2L854.4 3506.9L855.4 3506.5L856.4 3491.8L857.4 3514L858.3 3506.4L859.3 3504.4L860.3 3499.5L861.3 3503L862.3 3507.7L863.2 3497.3L864.2 3509.5L865.2 3513.6L866.2 3515.5L867.1 3491.6L868.1 3511.8L869.1 3492.8L870.1 3490.1L871.1 3488.2L872 3495.6L873 3497.7L874 3491.4L875 3496L876 3500.6L876.9 3477.9L877.9 3494.7L878.9 3470.4L879.9 3479.7L880.9 3486.3L881.8 3476.9L882.8 3468.2L883.8 3488.5L884.8 3482.5L885.8 3481.3L886.7 3468.5L887.7 3464L888.7 3464.5L889.7 3468.3L890.7 3463.7L891.6 3445.7L892.6 3443.1L893.6 3448.3L894.6 3457.5L895.6 3436.8L896.5 3436L897.5 3432.4L898.5 3415L899.5 3418.9L900.5 3430.7L901.4 3426.1L902.4 3400.1L903.4 3405.9L904.4 3394.7L905.4 3411.9L906.3 3401.4L907.3 3384.2L908.3 3366.6L909.3 3372.4L910.2 3380.6L911.2 3367.1L912.2 3363L913.2 3350.6L914.2 3336.3L915.1 3320.9L916.1 3331.8L917.1 3332L918.1 3320.9L919.1 3315.4L920 3313.6L921 3303L922 3297.2L923 3303.2L924 3279.7L924.9 3283.1L925.9 3283.8L926.9 3262.9L927.9 3267.6L928.9 3238.9L929.8 3247L930.8 3246.2L931.8 3250.3L932.8 3242L933.8 3224.3L934.7 3236.6L935.7 3217.2L936.7 3244.5L937.7 3216.4L938.7 3206.7L939.6 3209.2L940.6 3210.5L941.6 3197.4L942.6 3216L943.6 3216L944.5 3203L945.5 3190.3L946.5 3198.4L947.5 3205.2L948.5 3200.1L949.4 3199.2L950.4 3218.5L951.4 3236.9L952.4 3219.1L953.3 3226.1L954.3 3218.5L955.3 3227.8L956.3 3227L957.3 3216.2L958.2 3223.2L959.2 3228.2L960.2 3214.2L961.2 3240.7L962.2 3244.1L963.1 3231.4L964.1 3260.8L965.1 3270.9L966.1 3245.5L967.1 3260.5L968 3263L969 3267.8L970 3270.5L971 3289.6L972 3290.9L972.9 3306.5L973.9 3299.4L974.9 3303.8L975.9 3315.7L976.9 3310L977.8 3293.1L978.8 3337.6L979.8 3323.6L980.8 3327.4L981.8 3330.9L982.7 3353.1L983.7 3338.9L984.7 3348.3L985.7 3359.7L986.7 3365.7L987.6 3364.2L988.6 3361.6L989.6 3365.7L990.6 3356.5L991.6 3383.7L992.5 3378.1L993.5 3390.5L994.5 3382.6L995.5 3391.1L996.5 3400.3L997.4 3409.2L998.4 3406.7L999.4 3400.2L1000.4 3391.7L1001.3 3400L1002.3 3419.3L1003.3 3415.2L1004.3 3412.7L1005.3 3416.2L1006.2 3416.6L1007.2 3412.5L1008.2 3432.6L1009.2 3417.3L1010.2 3441.7L1011.1 3430.2L1012.1 3443.5L1013.1 3432.7L1014.1 3430.7L1015.1 3446.7L1016 3438.8L1017 3442.6L1018 3426.1L1019 3440.4L1020 3462L1020.9 3444.9L1021.9 3447.3L1022.9 3454.6L1023.9 3458.2L1024.9 3452.4L1025.8 3433.7L1026.8 3458L1027.8 3471.8L1028.8 3467.9L1029.8 3480.5L1030.7 3494.5L1031.7 3476.4L1032.7 3482.3L1033.7 3479.1L1034.7 3458L1035.6 3475.6L1036.6 3488.3L1037.6 3500L1038.6 3491.2L1039.6 3497.5L1040.5 3504.9L1041.5 3483.5L1042.5 3494.3L1043.5 3488.4L1044.4 3469L1045.4 3492.1L1046.4 3494.4L1047.4 3493.6L1048.4 3499.4L1049.3 3504.6L1050.3 3500.7L1051.3 3491L1052.3 3502.6L1053.3 3511.7L1054.2 3511.4L1055.2 3510.3L1056.2 3502.8L1057.2 3499.7L1058.2 3500.1L1059.1 3495.1L1060.1 3506.1L1061.1 3498.4L1062.1 3502.6L1063.1 3499.9L1064 3519.4L1065 3496.2L1066 3517.5L1067 3514.4L1068 3500.1L1068.9 3509L1069.9 3492.7L1070.9 3504.9L1071.9 3513.9L1072.9 3505L1073.8 3509.2L1074.8 3494.4L1075.8 3493.8L1076.8 3500.4L1077.8 3508.9L1078.7 3505.1L1079.7 3497.6L1080.7 3511.4L1081.7 3511.1L1082.7 3498.4L1083.6 3498.9L1084.6 3505.8L1085.6 3505.6L1086.6 3517.8L1087.5 3493.6L1088.5 3502.7L1089.5 3511.8L1090.5 3508.7L1091.5 3506L1092.4 3485.4L1093.4 3491.8L1094.4 3505.9L1095.4 3480.3L1096.4 3482.7L1097.3 3499.2L1098.3 3509.6L1099.3 3480.1L1100.3 3489.9L1101.3 3484.1L1102.2 3484.7L1103.2 3468.4L1104.2 3464L1105.2 3466.3L1106.2 3470.8L1107.1 3464.5L1108.1 3458.4L1109.1 3472.3L1110.1 3446.8L1111.1 3455.6L1112 3447.4L1113 3444.8L1114 3435L1115 3430L1116 3417.2L1116.9 3434.2L1117.9 3435.1L1118.9 3423.2L1119.9 3426.2L1120.9 3410.6L1121.8 3421.1L1122.8 3410.5L1123.8 3401.1L1124.8 3397.8L1125.8 3402.1L1126.7 3389.9L1127.7 3389L1128.7 3412L1129.7 3393.3L1130.7 3393.4L1131.6 3396.2L1132.6 3397.9L1133.6 3391.3L1134.6 3387.6L1135.5 3387.7L1136.5 3377.8L1137.5 3380.2L1138.5 3392.5L1139.5 3393.1L1140.4 3378.6L1141.4 3390.4L1142.4 3381.8L1143.4 3377.6L1144.4 3371L1145.3 3373.2L1146.3 3362.9L1147.3 3376.1L1148.3 3363.4L1149.3 3371.1L1150.2 3359.9L1151.2 3356L1152.2 3360.3L1153.2 3369.5L1154.2 3333L1155.1 3332.1L1156.1 3327.5L1157.1 3328L1158.1 3317.5L1159.1 3302.8L1160 3298.6L1161 3279.9L1162 3280.8L1163 3280.6L1164 3258.3L1164.9 3260.6L1165.9 3243.2L1166.9 3253.1L1167.9 3229.6L1168.9 3211.3L1169.8 3213.6L1170.8 3198.2L1171.8 3182.8L1172.8 3178.9L1173.8 3152.8L1174.7 3164.9L1175.7 3155.9L1176.7 3147.9L1177.7 3159.3L1178.6 3148L1179.6 3120.1L1180.6 3123.3L1181.6 3100.1L1182.6 3110.9L1183.5 3108L1184.5 3092L1185.5 3097.5L1186.5 3081.6L1187.5 3108.8L1188.4 3092.6L1189.4 3110.2L1190.4 3093L1191.4 3088.6L1192.4 3092.6L1193.3 3106.5L1194.3 3116.8L1195.3 3105.4L1196.3 3120.5L1197.3 3132.2L1198.2 3119.7L1199.2 3159.8L1200.2 3157.5L1201.2 3159L1202.2 3157.1L1203.1 3176.3L1204.1 3171.6L1205.1 3192.3L1206.1 3201.3L1207.1 3218.6L1208 3223.8L1209 3222.9L1210 3246.8L1211 3257.2L1212 3271.8L1212.9 3268.2L1213.9 3299.2L1214.9 3301.8L1215.9 3298.3L1216.9 3304L1217.8 3328.1L1218.8 3327.7L1219.8 3362L1220.8 3348.3L1221.7 3361.1L1222.7 3382.1L1223.7 3394.9L1224.7 3392.6L1225.7 3394.3L1226.6 3400.9L1227.6 3410L1228.6 3411.7L1229.6 3418.8L1230.6 3440.9L1231.5 3439.1L1232.5 3445.5L1233.5 3439.2L1234.5 3455.5L1235.5 3449L1236.4 3460.1L1237.4 3447.6L1238.4 3469L1239.4 3472.1L1240.4 3476.2L1241.3 3477.4L1242.3 3463.8L1243.3 3487.5L1244.3 3492.6L1245.3 3490L1246.2 3485.9L1247.2 3499.5L1248.2 3488.6L1249.2 3490.5L1250.2 3498.5L1251.1 3500.4L1252.1 3505.4L1253.1 3502.9L1254.1 3507.5L1255.1 3494.2L1256 3492.4L1257 3506.4L1258 3505.4L1259 3518.9L1260 3509.9L1260.9 3504.4L1261.9 3505.3L1262.9 3506.8L1263.9 3502.1L1264.9 3507.7L1265.8 3511.3L1266.8 3497.9L1267.8 3522.3L1268.8 3517.3L1269.7 3514.6L1270.7 3514.7L1271.7 3515.2L1272.7 3511.6L1273.7 3515.1L1274.6 3510.7L1275.6 3506.4L1276.6 3510.4L1277.6 3509.7L1278.6 3517.1L1279.5 3518.6L1280.5 3512.9L1281.5 3504.7L1282.5 3508.5L1283.5 3503.7L1284.4 3504.4L1285.4 3503.6L1286.4 3516.7L1287.4 3502.9L1288.4 3506.2L1289.3 3497.3L1290.3 3507.4L1291.3 3509.3L1292.3 3512.4L1293.3 3510.4L1294.2 3522.7L1295.2 3513.3L1296.2 3511.9L1297.2 3505L1298.2 3516.1L1299.1 3510.8L1300.1 3499.4L1301.1 3515.3L1302.1 3506.1L1303.1 3515.4L1304 3512.5L1305 3508.8L1306 3506L1307 3515.2L1308 3518.8L1308.9 3501.8L1309.9 3510.7L1310.9 3506.7L1311.9 3505.9L1312.8 3507L1313.8 3513.8L1314.8 3513L1315.8 3522.4L1316.8 3510.9L1317.7 3515.2L1318.7 3512.3L1319.7 3499.7L1320.7 3507.6L1321.7 3511.8L1322.6 3521.2L1323.6 3507.4L1324.6 3502.1L1325.6 3517.7L1326.6 3509.4L1327.5 3515.7L1328.5 3513.3L1329.5 3514.7L1330.5 3522.9L1331.5 3515.7L1332.4 3523L1333.4 3503.2L1334.4 3505.5L1335.4 3512.1L1336.4 3510.5L1337.3 3512L1338.3 3511.1L1339.3 3511.1L1340.3 3514L1341.3 3513.5L1342.2 3521.2L1343.2 3519L1344.2 3516.4L1345.2 3511.1L1346.2 3514.9L1347.1 3500L1348.1 3513.7L1349.1 3514.8L1350.1 3509.7L1351.1 3505.8L1352 3500.5L1353 3506.2L1354 3516.3L1355 3513.6L1355.9 3505.7L1356.9 3510.8L1357.9 3507.3L1358.9 3513L1359.9 3502.2L1360.8 3488.2L1361.8 3505.2L1362.8 3511.5L1363.8 3522.9L1364.8 3521.2L1365.7 3510.4L1366.7 3508.3L1367.7 3531.3L1368.7 3515.6L1369.7 3505.1L1370.6 3506.4L1371.6 3515.7L1372.6 3508.4L1373.6 3512.3L1374.6 3513.9L1375.5 3505.3L1376.5 3505.2L1377.5 3515.9L1378.5 3530.7L1379.5 3520.9L1380.4 3521.6L1381.4 3504L1382.4 3500.5L1383.4 3511.1L1384.4 3505.8L1385.3 3516.9L1386.3 3512.9L1387.3 3506.7L1388.3 3510.5L1389.3 3512.7L1390.2 3523.1L1391.2 3521.7L1392.2 3515.1L1393.2 3516L1394.2 3513L1395.1 3516.5L1396.1 3513.9L1397.1 3512.1L1398.1 3509.2L1399.1 3512.1L1400 3516L1401 3514.2L1402 3506.8L1403 3513.8L1403.9 3531.3L1404.9 3518.9L1405.9 3510.7L1406.9 3509L1407.9 3504.8L1408.8 3514.5L1409.8 3503.8L1410.8 3514.7L1411.8 3514L1412.8 3516.1L1413.7 3509.2L1414.7 3505.9L1415.7 3512.7L1416.7 3515.7L1417.7 3522.2L1418.6 3511.6L1419.6 3514.7L1420.6 3513.8L1421.6 3516.5L1422.6 3518L1423.5 3515.2L1424.5 3509.7L1425.5 3506.5L1426.5 3512.6L1427.5 3510.5L1428.4 3513.7L1429.4 3513.3L1430.4 3521L1431.4 3507L1432.4 3508.8L1433.3 3503.4L1434.3 3516.3L1435.3 3511.7L1436.3 3518.2L1437.3 3511L1438.2 3513.2L1439.2 3508.2L1440.2 3513.3L1441.2 3508.4L1442.2 3515.5L1443.1 3508.7L1444.1 3514.3L1445.1 3515.1L1446.1 3511.8L1447 3510.1L1448 3521.1L1449 3521.7L1450 3511.1L1451 3512.7L1451.9 3524.8L1452.9 3522.8L1453.9 3517L1454.9 3510.3L1455.9 3511L1456.8 3506L1457.8 3505L1458.8 3497.6L1459.8 3521L1460.8 3512.4L1461.7 3505.6L1462.7 3519.8L1463.7 3520.7L1464.7 3510.8L1465.7 3505.3L1466.6 3504.3L1467.6 3522.9L1468.6 3519.4L1469.6 3512.5L1470.6 3515.1L1471.5 3509.9L1472.5 3511L1473.5 3501L1474.5 3512.1L1475.5 3510.6L1476.4 3511.2L1477.4 3504.8L1478.4 3518.4L1479.4 3509.2L1480.4 3516.2L1481.3 3520.1L1482.3 3504.1L1483.3 3508.1L1484.3 3502.7L1485.3 3509.6L1486.2 3507.1L1487.2 3510.2L1488.2 3507.5L1489.2 3513.4L1490.1 3500.3L1491.1 3516.1L1492.1 3500.1L1493.1 3511.7L1494.1 3505.1L1495 3509.5L1496 3507.5L1497 3501L1498 3523.7L1499 3515.6L1499.9 3508.3L1500.9 3505.6L1501.9 3524.5L1502.9 3503.4L1503.9 3502.5L1504.8 3519.9L1505.8 3509.9L1506.8 3503.7L1507.8 3515.7L1508.8 3511L1509.7 3510.3L1510.7 3504.6L1511.7 3501L1512.7 3507.9L1513.7 3507.1L1514.6 3501.6L1515.6 3503.7L1516.6 3507.5L1517.6 3498.4L1518.6 3515.1L1519.5 3505.2L1520.5 3508.5L1521.5 3508.7L1522.5 3504.1L1523.5 3504.8L1524.4 3489.6L1525.4 3500.5L1526.4 3502L1527.4 3493.7L1528.4 3497.3L1529.3 3514.8L1530.3 3502.2L1531.3 3498L1532.3 3506L1533.3 3500.1L1534.2 3504.4L1535.2 3498.9L1536.2 3510.9L1537.2 3512.5L1538.1 3503.5L1539.1 3498.3L1540.1 3491L1541.1 3500.6L1542.1 3503.1L1543 3492.4L1544 3497.4L1545 3486.1L1546 3497.4L1547 3508.5L1547.9 3500.9L1548.9 3501.4L1549.9 3503.7L1550.9 3499.5L1551.9 3498.5L1552.8 3495.5L1553.8 3496.7L1554.8 3490.3L1555.8 3489.9L1556.8 3490.9L1557.7 3490.3L1558.7 3502.8L1559.7 3501.1L1560.7 3495.7L1561.7 3488.2L1562.6 3498.5L1563.6 3491.6L1564.6 3487L1565.6 3475.8L1566.6 3486.2L1567.5 3490.8L1568.5 3480.2L1569.5 3485.4L1570.5 3488.2L1571.5 3479.1L1572.4 3491.5L1573.4 3484.2L1574.4 3484.6L1575.4 3479.2L1576.4 3491.8L1577.3 3492.5L1578.3 3486.6L1579.3 3485.7L1580.3 3483.6L1581.2 3486L1582.2 3480.8L1583.2 3479.1L1584.2 3481.9L1585.2 3489.8L1586.1 3476L1587.1 3492.8L1588.1 3484.5L1589.1 3477.6L1590.1 3487.1L1591 3475.2L1592 3471.4L1593 3473.6L1594 3480.9L1595 3477.6L1595.9 3487.1L1596.9 3481.6L1597.9 3471.9L1598.9 3483.9L1599.9 3483.8L1600.8 3486.3L1601.8 3497.5L1602.8 3483.1L1603.8 3483.9L1604.8 3473.4L1605.7 3482.1L1606.7 3486.4L1607.7 3481.8L1608.7 3483.7L1609.7 3488.1L1610.6 3490.7L1611.6 3497.8L1612.6 3488.4L1613.6 3479.5L1614.6 3501.5L1615.5 3496.2L1616.5 3486.1L1617.5 3490L1618.5 3489L1619.5 3503.5L1620.4 3496.1L1621.4 3489.8L1622.4 3489.7L1623.4 3492L1624.3 3499.6L1625.3 3491.3L1626.3 3502.4L1627.3 3501.3L1628.3 3503.1L1629.2 3487.5L1630.2 3499.3L1631.2 3496.8L1632.2 3511L1633.2 3491.3L1634.1 3495.6L1635.1 3508.9L1636.1 3509L1637.1 3489.4L1638.1 3505.7L1639 3489.1L1640 3503.5L1641 3516.1L1642 3494.6L1643 3498.6L1643.9 3497.9L1644.9 3505.4L1645.9 3503.9L1646.9 3497.2L1647.9 3508.2L1648.8 3515.5L1649.8 3498.3L1650.8 3507.9L1651.8 3496.7L1652.8 3507.5L1653.7 3507.5L1654.7 3506.6L1655.7 3519.6L1656.7 3498.5L1657.7 3509.6L1658.6 3507.2L1659.6 3497.4L1660.6 3505.7L1661.6 3501.2L1662.6 3504.7L1663.5 3502.2L1664.5 3505.4L1665.5 3500.2L1666.5 3508.6L1667.5 3504.7L1668.4 3511.8L1669.4 3500.6L1670.4 3520.9L1671.4 3506.8L1672.3 3505.8L1673.3 3506L1674.3 3508.2L1675.3 3500.2L1676.3 3495.6L1677.2 3511.9L1678.2 3519.8L1679.2 3514.9L1680.2 3513.2L1681.2 3509.2L1682.1 3508.7L1683.1 3501.9L1684.1 3510.8L1685.1 3508.4L1686.1 3507.4L1687 3513.3L1688 3509.8L1689 3491.2L1690 3508.1L1691 3513.1L1691.9 3520.1L1692.9 3500.6L1693.9 3508.4L1694.9 3509.9L1695.9 3491.1L1696.8 3496.7L1697.8 3515L1698.8 3506.2L1699.8 3497.5L1700.8 3497.7L1701.7 3508.6L1702.7 3490.3L1703.7 3488.8L1704.7 3505.5L1705.7 3508.2L1706.6 3504.6L1707.6 3490.7L1708.6 3486.5L1709.6 3490.1L1710.6 3492.9L1711.5 3487.7L1712.5 3481.3L1713.5 3489.6L1714.5 3489.8L1715.4 3476.9L1716.4 3465.5L1717.4 3468.4L1718.4 3464.6L1719.4 3466L1720.3 3451.6L1721.3 3463.5L1722.3 3448.1L1723.3 3446.2L1724.3 3437.8L1725.2 3436.8L1726.2 3419.6L1727.2 3418.3L1728.2 3414.6L1729.2 3399.9L1730.1 3395.9L1731.1 3390.9L1732.1 3382.9L1733.1 3364.7L1734.1 3367.4L1735 3352.9L1736 3343.4L1737 3329L1738 3322.2L1739 3294.4L1739.9 3312.1L1740.9 3283.6L1741.9 3276.9L1742.9 3256.6L1743.9 3265.9L1744.8 3232.2L1745.8 3240.7L1746.8 3212.6L1747.8 3202.2L1748.8 3194.3L1749.7 3189L1750.7 3178.3L1751.7 3159.5L1752.7 3155.7L1753.7 3155.3L1754.6 3143.9L1755.6 3111.6L1756.6 3101.9L1757.6 3095.6L1758.6 3091.4L1759.5 3080.6L1760.5 3072.4L1761.5 3068.1L1762.5 3071.7L1763.4 3066.2L1764.4 3065.8L1765.4 3050.6L1766.4 3058.4L1767.4 3049L1768.3 3034.7L1769.3 3050L1770.3 3038.5L1771.3 3034.9L1772.3 3068.1L1773.2 3067.8L1774.2 3054.7L1775.2 3070.2L1776.2 3064.7L1777.2 3069.5L1778.1 3087.4L1779.1 3083.3L1780.1 3083.6L1781.1 3099.4L1782.1 3124.6L1783 3128.1L1784 3141.6L1785 3134.6L1786 3160.2L1787 3189.5L1787.9 3180.8L1788.9 3188.7L1789.9 3207.5L1790.9 3215.4L1791.9 3228.1L1792.8 3234.2L1793.8 3244.3L1794.8 3261.3L1795.8 3278.4L1796.8 3283.4L1797.7 3304.1L1798.7 3300.8L1799.7 3316.8L1800.7 3328.1L1801.7 3357L1802.6 3333.5L1803.6 3349.5L1804.6 3360.2L1805.6 3376.9L1806.5 3381.8L1807.5 3375.5L1808.5 3406.8L1809.5 3404.9L1810.5 3413L1811.4 3422.7L1812.4 3427.8L1813.4 3442.3L1814.4 3437.7L1815.4 3455.3L1816.3 3440.8L1817.3 3451.9L1818.3 3466.5L1819.3 3478.2L1820.3 3468.6L1821.2 3469.8L1822.2 3482.2L1823.2 3469.1L1824.2 3480.4L1825.2 3487.4L1826.1 3495.4L1827.1 3490L1828.1 3492.5L1829.1 3489.3L1830.1 3488.7L1831 3496.3L1832 3495.1L1833 3490.8L1834 3496.7L1835 3502.9L1835.9 3498.7L1836.9 3506.3L1837.9 3501.4L1838.9 3504.4L1839.9 3511.8L1840.8 3502.5L1841.8 3506L1842.8 3502.7L1843.8 3515.1L1844.8 3501.4L1845.7 3501.5L1846.7 3510.5L1847.7 3509.3L1848.7 3508.7L1849.6 3509.3L1850.6 3504.6L1851.6 3513.7L1852.6 3516.4L1853.6 3511.4L1854.5 3499.1L1855.5 3512.5L1856.5 3516.1L1857.5 3515.8L1858.5 3509.6L1859.4 3503.9L1860.4 3515L1861.4 3509.9L1862.4 3509.7L1863.4 3508.3L1864.3 3510.2L1865.3 3505.1L1866.3 3507.2L1867.3 3514.8L1868.3 3497.3L1869.2 3519.2L1870.2 3519L1871.2 3505.5L1872.2 3510.4L1873.2 3512.9L1874.1 3510.4L1875.1 3507.6L1876.1 3514L1877.1 3515.3L1878.1 3517.7L1879 3516.7L1880 3516.3L1881 3505.2L1882 3510.2L1883 3508.7L1883.9 3515.1L1884.9 3505.9L1885.9 3520.9L1886.9 3509.2L1887.9 3508L1888.8 3515.3L1889.8 3517.9L1890.8 3509.1L1891.8 3516.1L1892.8 3517.2L1893.7 3512.2L1894.7 3518.6L1895.7 3512.9L1896.7 3500.6L1897.6 3514.7L1898.6 3507L1899.6 3518.3L1900.6 3511.8L1901.6 3513.8L1902.5 3513.2L1903.5 3508L1904.5 3500L1905.5 3513.1L1906.5 3504.9L1907.4 3510.4L1908.4 3508.2L1909.4 3515.1L1910.4 3516.4L1911.4 3513.6L1912.3 3516.8L1913.3 3512.5L1914.3 3518.5L1915.3 3512.4L1916.3 3511.5L1917.2 3502.1L1918.2 3502.7L1919.2 3509.6L1920.2 3515.4L1921.2 3509.1L1922.1 3507.9L1923.1 3513.7L1924.1 3517.4L1925.1 3522.8L1926.1 3512.8L1927 3501.6L1928 3513.7L1929 3510.4L1930 3510.5L1931 3509.8L1931.9 3508.2L1932.9 3524L1933.9 3513.5L1934.9 3510.5L1935.9 3513.1L1936.8 3505.7L1937.8 3514.7L1938.8 3514.9L1939.8 3502.5L1940.7 3514L1941.7 3512.4L1942.7 3514.2L1943.7 3508.2L1944.7 3524.7L1945.6 3520.9L1946.6 3514.2L1947.6 3507.6L1948.6 3509.2L1949.6 3517.2L1950.5 3503.4L1951.5 3511.9L1952.5 3524.8L1953.5 3509.5L1954.5 3505.1L1955.4 3512.9L1956.4 3521.1L1957.4 3515.6L1958.4 3511.9L1959.4 3507.1L1960.3 3518.2L1961.3 3511L1962.3 3519.2L1963.3 3512L1964.3 3520L1965.2 3515.1L1966.2 3521.1L1967.2 3518L1968.2 3521.4L1969.2 3523.6L1970.1 3505.4L1971.1 3505.7L1972.1 3509.6L1973.1 3514.4L1974.1 3504L1975 3513.9L1976 3509.9L1977 3505.8L1978 3511L1979 3503.8L1979.9 3513L1980.9 3513L1981.9 3511.4L1982.9 3518.7L1983.8 3518.2L1984.8 3507.7L1985.8 3521.9L1986.8 3505.6L1987.8 3510.4L1988.7 3505.2L1989.7 3507.6L1990.7 3508.5L1991.7 3502L1992.7 3512.3L1993.6 3512.4L1994.6 3505.4L1995.6 3515.5L1996.6 3505.3L1997.6 3507.8L1998.5 3514.5L1999.5 3518.9L2000.5 3523.1L2001.5 3501L2002.5 3520L2003.4 3518.4L2004.4 3506.6L2005.4 3508.8L2006.4 3510.2L2007.4 3510.9L2008.3 3513.8L2009.3 3516.6L2010.3 3515.5L2011.3 3507.9L2012.3 3505.1L2013.2 3504.5L2014.2 3511.4L2015.2 3523.9L2016.2 3508.2L2017.2 3511.9L2018.1 3526.2L2019.1 3503.1L2020.1 3509.6L2021.1 3511.2L2022.1 3509.7L2023 3510.1L2024 3509.3L2025 3510L2026 3510.4L2027 3507.3L2027.9 3508.5L2028.9 3496.7L2029.9 3509.5L2030.9 3513.1L2031.8 3513.6L2032.8 3507.9L2033.8 3509.3L2034.8 3508.6L2035.8 3511L2036.7 3510.9L2037.7 3505.5L2038.7 3502L2039.7 3507.7L2040.7 3510.2L2041.6 3516.1L2042.6 3516.1L2043.6 3509.2L2044.6 3510.8L2045.6 3509.9L2046.5 3515.6L2047.5 3510L2048.5 3520.3L2049.5 3516L2050.5 3513.7L2051.4 3505.8L2052.4 3512.6L2053.4 3514.5L2054.4 3507.5L2055.4 3509.6L2056.3 3503.8L2057.3 3507.2L2058.3 3507.7L2059.3 3510L2060.3 3505.2L2061.2 3513L2062.2 3517.5L2063.2 3503.7L2064.2 3511.5L2065.2 3496.2L2066.1 3505.2L2067.1 3503L2068.1 3525.1L2069.1 3514.6L2070.1 3501.7L2071 3518.3L2072 3505.9L2073 3510.7L2074 3513.6L2074.9 3509.3L2075.9 3518.2L2076.9 3506.3L2077.9 3501.9L2078.9 3516.6L2079.8 3512.4L2080.8 3501.8L2081.8 3506.5L2082.8 3510.4L2083.8 3500.5L2084.7 3518.1L2085.7 3510.2L2086.7 3508.1L2087.7 3510.5L2088.7 3504.2L2089.6 3518.2L2090.6 3508.5L2091.6 3513.2L2092.6 3502L2093.6 3502.9L2094.5 3513.1L2095.5 3515.1L2096.5 3509.2L2097.5 3513.8L2098.5 3512.2L2099.4 3506.6L2100.4 3511.7L2101.4 3498.9L2102.4 3508.8L2103.4 3512.2L2104.3 3515.6L2105.3 3512.3L2106.3 3503.1L2107.3 3506.3L2108.3 3501.4L2109.2 3502.1L2110.2 3506.4L2111.2 3513.6L2112.2 3510.5L2113.2 3509.4L2114.1 3519.1L2115.1 3508L2116.1 3515.8L2117.1 3510.5L2118 3512.9L2119 3506.8L2120 3495.3L2121 3516.9L2122 3510.4L2122.9 3498.8L2123.9 3515.6L2124.9 3511.7L2125.9 3511.1L2126.9 3508.8L2127.8 3519.7L2128.8 3508.9L2129.8 3507.3L2130.8 3496.4L2131.8 3511.2L2132.7 3514.1L2133.7 3510.1L2134.7 3525.7L2135.7 3509.1L2136.7 3502.3L2137.6 3511.3L2138.6 3511.3L2139.6 3512.6L2140.6 3510.4L2141.6 3518.3L2142.5 3502.6L2143.5 3513.9L2144.5 3514L2145.5 3502.1L2146.5 3511.3L2147.4 3513.9L2148.4 3502.3L2149.4 3510.5L2150.4 3506.3L2151.4 3514.8L2152.3 3521.6L2153.3 3510.7L2154.3 3503.7L2155.3 3514.3L2156.3 3509.7L2157.2 3507.8L2158.2 3510.4L2159.2 3511.5L2160.2 3507.6L2161.2 3510.7L2162.1 3514.9L2163.1 3506L2164.1 3507.5L2165.1 3509.9L2166 3508L2167 3526.9L2168 3510.6L2169 3511.9L2170 3523.3L2170.9 3500.5L2171.9 3510.2L2172.9 3514.6L2173.9 3514.3L2174.9 3510.7L2175.8 3512.3L2176.8 3521.3L2177.8 3514.5L2178.8 3509.8L2179.8 3508.8L2180.7 3507.4L2181.7 3518.3L2182.7 3515.9L2183.7 3510.2L2184.7 3515.7L2185.6 3511.1L2186.6 3517L2187.6 3509L2188.6 3512L2189.6 3509L2190.5 3512.1L2191.5 3516.7L2192.5 3519.1L2193.5 3512L2194.5 3515.7L2195.4 3520.6L2196.4 3515.3L2197.4 3507.8L2198.4 3505.3L2199.4 3507.9L2200.3 3504.6L2201.3 3514.3L2202.3 3513L2203.3 3517.5L2204.3 3516.5L2205.2 3503.1L2206.2 3509.7L2207.2 3508.4L2208.2 3497.4L2209.1 3501.2L2210.1 3516.8L2211.1 3506.5L2212.1 3516.1L2213.1 3506.3L2214 3522.4L2215 3517.1L2216 3516.9L2217 3500.4L2218 3521.6L2218.9 3505.3L2219.9 3505.5L2220.9 3510.7L2221.9 3506.6L2222.9 3496.7L2223.8 3509.7L2224.8 3512.6L2225.8 3503.3L2226.8 3506.3L2227.8 3517L2228.7 3509.3L2229.7 3508.6L2230.7 3516.5L2231.7 3515.2L2232.7 3513.3L2233.6 3516.1L2234.6 3506.1L2235.6 3507L2236.6 3520.9L2237.6 3510.4L2238.5 3506.8L2239.5 3514.9L2240.5 3508.4L2241.5 3504.7L2242.5 3515.6L2243.4 3507.1L2244.4 3518.3L2245.4 3500L2246.4 3507.9L2247.4 3511.4L2248.3 3513L2249.3 3511.2L2250.3 3493.8L2251.3 3505.2L2252.2 3502.9L2253.2 3501.1L2254.2 3506.7L2255.2 3492.9L2256.2 3510.9L2257.1 3490.6L2258.1 3499.3L2259.1 3493.8L2260.1 3491.6L2261.1 3487.6L2262 3498.9L2263 3487.4L2264 3490.5L2265 3490.4L2266 3490.5L2266.9 3481.7L2267.9 3484.9L2268.9 3479.8L2269.9 3481.4L2270.9 3497.9L2271.8 3486.7L2272.8 3480L2273.8 3491L2274.8 3495.5L2275.8 3499.1L2276.7 3474.3L2277.7 3491.4L2278.7 3485.3L2279.7 3493L2280.7 3484.7L2281.6 3478L2282.6 3496.6L2283.6 3489.1L2284.6 3493.9L2285.6 3501.1L2286.5 3496.1L2287.5 3491.5L2288.5 3485.2L2289.5 3485.8L2290.5 3494.1L2291.4 3504.4L2292.4 3491.9L2293.4 3496.5L2294.4 3497.4L2295.4 3504.8L2296.3 3499.9L2297.3 3488.4L2298.3 3491.9L2299.3 3493.9L2300.2 3498.1L2301.2 3505L2302.2 3503.3L2303.2 3503.1L2304.2 3502.4L2305.1 3507.2L2306.1 3510.7L2307.1 3499.9L2308.1 3509L2309.1 3502.5L2310 3508.7L2311 3504.3L2312 3505.6L2313 3504.7L2314 3505.4L2314.9 3515L2315.9 3517.6L2316.9 3510.4L2317.9 3501L2318.9 3515.4L2319.8 3516.1L2320.8 3498.1L2321.8 3520L2322.8 3514.7L2323.8 3513.9L2324.7 3515.6L2325.7 3515.5L2326.7 3505.8L2327.7 3510.9L2328.7 3511.1L2329.6 3521.6L2330.6 3507.8L2331.6 3511.5L2332.6 3511.6L2333.6 3507.9L2334.5 3510.8L2335.5 3512.8L2336.5 3510.3L2337.5 3516.7L2338.5 3517.9L2339.4 3520.5L2340.4 3507.4L2341.4 3516.6L2342.4 3511.9L2343.3 3506.6L2344.3 3502.7L2345.3 3515L2346.3 3512.1L2347.3 3512.5L2348.2 3520.4L2349.2 3515.8L2350.2 3497.3L2351.2 3502L2352.2 3503.1L2353.1 3508.8L2354.1 3503.2L2355.1 3505.7L2356.1 3511.9L2357.1 3520.2L2358 3505.1L2359 3509.2L2360 3510.5L2361 3508.3L2362 3517.7L2362.9 3512.5L2363.9 3513.3L2364.9 3521.7L2365.9 3520.1L2366.9 3514L2367.8 3525.8L2368.8 3509.2L2369.8 3509L2370.8 3513.8L2371.8 3511.8L2372.7 3523.6L2373.7 3512.4L2374.7 3509.2L2375.7 3510.6L2376.7 3508.3L2377.6 3513.8L2378.6 3502.2L2379.6 3511L2380.6 3509L2381.6 3507.4L2382.5 3517.8L2383.5 3519.8L2384.5 3509.1L2385.5 3520.6L2386.4 3516.9L2387.4 3508L2388.4 3519.7L2389.4 3519.1L2390.4 3520.5L2391.3 3519.4L2392.3 3503L2393.3 3510.5L2394.3 3508.2L2395.3 3524.5L2396.2 3527.1L2397.2 3520.1L2398.2 3507.7L2399.2 3507L2400.2 3524.8L2401.1 3523.5L2402.1 3510L2403.1 3512.3L2404.1 3511.2L2405.1 3510L2406 3519.4L2407 3513L2408 3515.3L2409 3506.8L2410 3515.5L2410.9 3524.4L2411.9 3506.6L2412.9 3503.6L2413.9 3508.3L2414.9 3515.6L2415.8 3519.1L2416.8 3508.1L2417.8 3516.8L2418.8 3510.8L2419.8 3509.4L2420.7 3514.6L2421.7 3525.1L2422.7 3511L2423.7 3519.5L2424.7 3522.6L2425.6 3514.1L2426.6 3513.1L2427.6 3514.4L2428.6 3510.3L2429.6 3524.6" fill="none" stroke="#000" stroke-width="12" stroke-linejoin="round" stroke-linecap="butt"/>
</g></g>
<g class="b">
<text transform="translate(283.31,2404.00) scale(0.6969,0.8969)" >D</text>
<text transform="translate(1527.03,2742.50) scale(0.6349,0.7970)">Ni-Al-H-800</text>
<text transform="translate(1529.73,3373.50) scale(0.6360,0.7970)">Ni-Al-H-600</text>
<text transform="translate(119.52,3749.37) scale(0.6696,0.8162)" >10</text>
<text transform="translate(343.42,3749.34) scale(0.6696,0.8284)" >20</text>
<text transform="translate(567.32,3749.34) scale(0.6696,0.8284)" >30</text>
<text transform="translate(791.22,3749.34) scale(0.6696,0.8284)" >40</text>
<text transform="translate(1015.12,3749.34) scale(0.6696,0.8284)" >50</text>
<text transform="translate(1239.02,3749.34) scale(0.6696,0.8284)" >60</text>
<text transform="translate(1462.92,3749.34) scale(0.6696,0.8284)" >70</text>
<text transform="translate(1686.82,3749.34) scale(0.6696,0.8284)" >80</text>
<text transform="translate(1910.72,3749.34) scale(0.6696,0.8284)" >90</text>
<text transform="translate(980.98,3861.00) scale(0.7060,0.8950)">2θ<tspan font-weight="normal">(°)</tspan></text>
<text transform="translate(90.00,3234.63) rotate(-90) scale(0.8778,0.7145)">Intensity (counts)</text>
</g>
</svg>
</body></html>
